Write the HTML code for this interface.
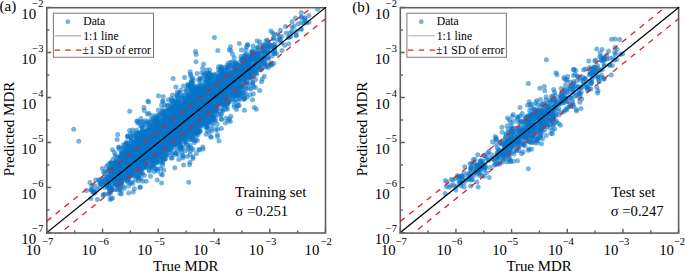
<!DOCTYPE html>
<html><head><meta charset="utf-8"><style>html,body{margin:0;padding:0;background:#fff;}svg{display:block;}</style></head>
<body><svg width="685" height="271" viewBox="0 0 685 271">
<rect width="685" height="271" fill="#fff"/>
<clipPath id="cL"><rect x="46.8" y="7.7" width="278.7" height="225.3"/></clipPath>
<g clip-path="url(#cL)">
<g fill="rgb(8, 116, 200)" fill-opacity="0.55"><circle cx="247.9" cy="70.7" r="2.5"/><circle cx="183.8" cy="118.8" r="2.5"/><circle cx="209.4" cy="76.1" r="2.5"/><circle cx="160.5" cy="142.0" r="2.5"/><circle cx="154.6" cy="135.0" r="2.5"/><circle cx="147.3" cy="145.6" r="2.5"/><circle cx="164.5" cy="114.8" r="2.5"/><circle cx="212.2" cy="75.5" r="2.5"/><circle cx="142.8" cy="148.5" r="2.5"/><circle cx="216.2" cy="83.6" r="2.5"/><circle cx="186.3" cy="118.0" r="2.5"/><circle cx="141.9" cy="148.0" r="2.5"/><circle cx="142.5" cy="147.9" r="2.5"/><circle cx="241.2" cy="65.8" r="2.5"/><circle cx="127.8" cy="135.9" r="2.5"/><circle cx="259.5" cy="61.6" r="2.5"/><circle cx="161.2" cy="146.0" r="2.5"/><circle cx="126.1" cy="158.5" r="2.5"/><circle cx="160.8" cy="136.4" r="2.5"/><circle cx="207.7" cy="93.4" r="2.5"/><circle cx="124.0" cy="147.2" r="2.5"/><circle cx="141.9" cy="154.5" r="2.5"/><circle cx="205.1" cy="95.2" r="2.5"/><circle cx="184.8" cy="118.1" r="2.5"/><circle cx="115.1" cy="177.9" r="2.5"/><circle cx="237.8" cy="66.4" r="2.5"/><circle cx="247.5" cy="85.0" r="2.5"/><circle cx="196.1" cy="114.2" r="2.5"/><circle cx="150.5" cy="152.6" r="2.5"/><circle cx="199.5" cy="88.7" r="2.5"/><circle cx="125.8" cy="143.5" r="2.5"/><circle cx="189.9" cy="118.1" r="2.5"/><circle cx="154.7" cy="142.1" r="2.5"/><circle cx="195.3" cy="109.6" r="2.5"/><circle cx="160.2" cy="127.6" r="2.5"/><circle cx="215.5" cy="88.2" r="2.5"/><circle cx="168.5" cy="145.0" r="2.5"/><circle cx="193.1" cy="107.3" r="2.5"/><circle cx="200.0" cy="102.6" r="2.5"/><circle cx="199.7" cy="98.3" r="2.5"/><circle cx="220.0" cy="95.4" r="2.5"/><circle cx="198.2" cy="124.3" r="2.5"/><circle cx="124.1" cy="160.3" r="2.5"/><circle cx="209.5" cy="93.1" r="2.5"/><circle cx="207.7" cy="108.9" r="2.5"/><circle cx="211.8" cy="101.8" r="2.5"/><circle cx="220.6" cy="93.2" r="2.5"/><circle cx="208.8" cy="113.8" r="2.5"/><circle cx="167.4" cy="120.3" r="2.5"/><circle cx="182.3" cy="128.8" r="2.5"/><circle cx="189.5" cy="94.0" r="2.5"/><circle cx="198.0" cy="134.5" r="2.5"/><circle cx="185.2" cy="108.7" r="2.5"/><circle cx="155.1" cy="137.4" r="2.5"/><circle cx="112.2" cy="172.1" r="2.5"/><circle cx="130.0" cy="182.9" r="2.5"/><circle cx="237.9" cy="75.4" r="2.5"/><circle cx="203.1" cy="97.6" r="2.5"/><circle cx="108.6" cy="171.3" r="2.5"/><circle cx="183.6" cy="114.1" r="2.5"/><circle cx="188.8" cy="118.5" r="2.5"/><circle cx="125.2" cy="170.1" r="2.5"/><circle cx="209.5" cy="95.8" r="2.5"/><circle cx="191.1" cy="109.2" r="2.5"/><circle cx="124.1" cy="172.0" r="2.5"/><circle cx="213.9" cy="95.4" r="2.5"/><circle cx="247.6" cy="76.6" r="2.5"/><circle cx="211.6" cy="78.3" r="2.5"/><circle cx="180.8" cy="130.6" r="2.5"/><circle cx="162.3" cy="152.1" r="2.5"/><circle cx="128.4" cy="179.2" r="2.5"/><circle cx="149.8" cy="152.2" r="2.5"/><circle cx="140.2" cy="162.1" r="2.5"/><circle cx="154.0" cy="171.4" r="2.5"/><circle cx="160.8" cy="122.0" r="2.5"/><circle cx="150.8" cy="157.3" r="2.5"/><circle cx="206.6" cy="109.5" r="2.5"/><circle cx="159.3" cy="144.6" r="2.5"/><circle cx="203.0" cy="87.8" r="2.5"/><circle cx="190.3" cy="126.1" r="2.5"/><circle cx="143.8" cy="152.0" r="2.5"/><circle cx="233.8" cy="73.3" r="2.5"/><circle cx="187.1" cy="128.0" r="2.5"/><circle cx="272.7" cy="33.1" r="2.5"/><circle cx="114.7" cy="180.9" r="2.5"/><circle cx="199.2" cy="108.5" r="2.5"/><circle cx="169.8" cy="126.4" r="2.5"/><circle cx="188.7" cy="134.3" r="2.5"/><circle cx="151.5" cy="138.0" r="2.5"/><circle cx="162.3" cy="111.5" r="2.5"/><circle cx="217.8" cy="76.2" r="2.5"/><circle cx="183.0" cy="132.1" r="2.5"/><circle cx="183.0" cy="129.0" r="2.5"/><circle cx="183.4" cy="130.4" r="2.5"/><circle cx="222.2" cy="92.0" r="2.5"/><circle cx="105.7" cy="182.4" r="2.5"/><circle cx="190.4" cy="84.3" r="2.5"/><circle cx="119.2" cy="164.1" r="2.5"/><circle cx="217.7" cy="89.8" r="2.5"/><circle cx="171.6" cy="127.0" r="2.5"/><circle cx="239.8" cy="86.3" r="2.5"/><circle cx="143.1" cy="160.0" r="2.5"/><circle cx="138.6" cy="146.2" r="2.5"/><circle cx="169.8" cy="127.2" r="2.5"/><circle cx="185.7" cy="130.2" r="2.5"/><circle cx="158.6" cy="145.1" r="2.5"/><circle cx="193.5" cy="103.0" r="2.5"/><circle cx="139.6" cy="155.7" r="2.5"/><circle cx="191.5" cy="103.3" r="2.5"/><circle cx="220.0" cy="100.2" r="2.5"/><circle cx="145.4" cy="165.8" r="2.5"/><circle cx="175.9" cy="115.5" r="2.5"/><circle cx="177.3" cy="137.2" r="2.5"/><circle cx="221.3" cy="72.3" r="2.5"/><circle cx="110.1" cy="179.0" r="2.5"/><circle cx="189.2" cy="108.7" r="2.5"/><circle cx="154.9" cy="153.4" r="2.5"/><circle cx="123.5" cy="166.3" r="2.5"/><circle cx="139.6" cy="148.9" r="2.5"/><circle cx="119.9" cy="173.3" r="2.5"/><circle cx="163.6" cy="158.8" r="2.5"/><circle cx="183.2" cy="112.0" r="2.5"/><circle cx="133.1" cy="153.9" r="2.5"/><circle cx="187.7" cy="102.6" r="2.5"/><circle cx="161.3" cy="138.9" r="2.5"/><circle cx="191.7" cy="103.1" r="2.5"/><circle cx="165.9" cy="117.8" r="2.5"/><circle cx="179.9" cy="135.3" r="2.5"/><circle cx="126.4" cy="167.3" r="2.5"/><circle cx="196.8" cy="120.8" r="2.5"/><circle cx="110.9" cy="168.3" r="2.5"/><circle cx="193.4" cy="118.0" r="2.5"/><circle cx="168.3" cy="124.2" r="2.5"/><circle cx="154.5" cy="147.1" r="2.5"/><circle cx="215.8" cy="129.5" r="2.5"/><circle cx="148.0" cy="150.3" r="2.5"/><circle cx="120.3" cy="161.3" r="2.5"/><circle cx="197.3" cy="113.0" r="2.5"/><circle cx="212.8" cy="95.8" r="2.5"/><circle cx="273.6" cy="44.7" r="2.5"/><circle cx="182.4" cy="119.0" r="2.5"/><circle cx="212.7" cy="108.6" r="2.5"/><circle cx="155.9" cy="146.2" r="2.5"/><circle cx="205.3" cy="100.7" r="2.5"/><circle cx="135.7" cy="141.3" r="2.5"/><circle cx="171.6" cy="149.4" r="2.5"/><circle cx="139.7" cy="149.9" r="2.5"/><circle cx="210.1" cy="96.9" r="2.5"/><circle cx="179.0" cy="145.1" r="2.5"/><circle cx="215.5" cy="95.8" r="2.5"/><circle cx="212.3" cy="86.5" r="2.5"/><circle cx="131.0" cy="163.5" r="2.5"/><circle cx="180.3" cy="101.4" r="2.5"/><circle cx="150.6" cy="148.3" r="2.5"/><circle cx="145.3" cy="142.9" r="2.5"/><circle cx="255.0" cy="65.0" r="2.5"/><circle cx="204.5" cy="108.8" r="2.5"/><circle cx="118.8" cy="182.3" r="2.5"/><circle cx="149.3" cy="135.8" r="2.5"/><circle cx="184.8" cy="104.4" r="2.5"/><circle cx="173.7" cy="107.0" r="2.5"/><circle cx="176.8" cy="133.2" r="2.5"/><circle cx="241.5" cy="87.0" r="2.5"/><circle cx="144.6" cy="137.9" r="2.5"/><circle cx="200.5" cy="109.2" r="2.5"/><circle cx="195.3" cy="122.0" r="2.5"/><circle cx="165.2" cy="130.2" r="2.5"/><circle cx="153.7" cy="146.0" r="2.5"/><circle cx="203.5" cy="121.4" r="2.5"/><circle cx="167.5" cy="150.0" r="2.5"/><circle cx="157.8" cy="126.2" r="2.5"/><circle cx="221.1" cy="93.5" r="2.5"/><circle cx="157.3" cy="151.3" r="2.5"/><circle cx="177.6" cy="129.0" r="2.5"/><circle cx="151.6" cy="149.1" r="2.5"/><circle cx="161.7" cy="135.1" r="2.5"/><circle cx="168.3" cy="147.6" r="2.5"/><circle cx="201.1" cy="111.3" r="2.5"/><circle cx="245.1" cy="68.1" r="2.5"/><circle cx="243.3" cy="71.8" r="2.5"/><circle cx="204.4" cy="110.3" r="2.5"/><circle cx="161.1" cy="137.0" r="2.5"/><circle cx="183.6" cy="129.9" r="2.5"/><circle cx="206.5" cy="100.2" r="2.5"/><circle cx="192.7" cy="83.0" r="2.5"/><circle cx="194.3" cy="113.5" r="2.5"/><circle cx="116.1" cy="161.3" r="2.5"/><circle cx="245.7" cy="70.5" r="2.5"/><circle cx="173.1" cy="115.8" r="2.5"/><circle cx="124.0" cy="156.7" r="2.5"/><circle cx="301.5" cy="17.2" r="2.5"/><circle cx="204.4" cy="90.6" r="2.5"/><circle cx="244.7" cy="82.0" r="2.5"/><circle cx="170.9" cy="133.2" r="2.5"/><circle cx="202.5" cy="104.4" r="2.5"/><circle cx="162.3" cy="144.7" r="2.5"/><circle cx="164.4" cy="123.1" r="2.5"/><circle cx="187.1" cy="104.6" r="2.5"/><circle cx="194.3" cy="97.6" r="2.5"/><circle cx="182.1" cy="118.9" r="2.5"/><circle cx="197.5" cy="126.3" r="2.5"/><circle cx="164.8" cy="159.2" r="2.5"/><circle cx="201.6" cy="115.5" r="2.5"/><circle cx="207.4" cy="96.0" r="2.5"/><circle cx="153.6" cy="147.7" r="2.5"/><circle cx="155.3" cy="132.3" r="2.5"/><circle cx="227.9" cy="88.1" r="2.5"/><circle cx="242.4" cy="71.6" r="2.5"/><circle cx="201.2" cy="91.3" r="2.5"/><circle cx="145.8" cy="156.0" r="2.5"/><circle cx="232.0" cy="75.4" r="2.5"/><circle cx="154.9" cy="163.0" r="2.5"/><circle cx="145.8" cy="157.5" r="2.5"/><circle cx="228.4" cy="63.0" r="2.5"/><circle cx="160.8" cy="126.1" r="2.5"/><circle cx="156.2" cy="129.9" r="2.5"/><circle cx="127.0" cy="155.5" r="2.5"/><circle cx="211.8" cy="88.8" r="2.5"/><circle cx="180.7" cy="112.5" r="2.5"/><circle cx="217.5" cy="136.7" r="2.5"/><circle cx="216.3" cy="90.8" r="2.5"/><circle cx="209.0" cy="94.9" r="2.5"/><circle cx="251.9" cy="67.5" r="2.5"/><circle cx="197.8" cy="103.7" r="2.5"/><circle cx="152.8" cy="132.0" r="2.5"/><circle cx="140.4" cy="146.8" r="2.5"/><circle cx="200.9" cy="105.3" r="2.5"/><circle cx="146.7" cy="134.5" r="2.5"/><circle cx="204.2" cy="97.1" r="2.5"/><circle cx="184.7" cy="108.9" r="2.5"/><circle cx="150.5" cy="145.5" r="2.5"/><circle cx="138.5" cy="168.3" r="2.5"/><circle cx="167.7" cy="122.5" r="2.5"/><circle cx="222.1" cy="93.3" r="2.5"/><circle cx="156.6" cy="143.8" r="2.5"/><circle cx="188.8" cy="147.2" r="2.5"/><circle cx="100.5" cy="183.9" r="2.5"/><circle cx="273.6" cy="37.8" r="2.5"/><circle cx="180.9" cy="90.2" r="2.5"/><circle cx="120.6" cy="173.1" r="2.5"/><circle cx="170.6" cy="145.2" r="2.5"/><circle cx="145.4" cy="140.4" r="2.5"/><circle cx="221.2" cy="90.5" r="2.5"/><circle cx="163.7" cy="135.1" r="2.5"/><circle cx="199.4" cy="85.5" r="2.5"/><circle cx="95.6" cy="180.0" r="2.5"/><circle cx="197.9" cy="101.4" r="2.5"/><circle cx="265.2" cy="51.7" r="2.5"/><circle cx="111.1" cy="177.8" r="2.5"/><circle cx="242.3" cy="93.6" r="2.5"/><circle cx="193.8" cy="109.3" r="2.5"/><circle cx="137.7" cy="176.8" r="2.5"/><circle cx="202.3" cy="118.8" r="2.5"/><circle cx="203.9" cy="104.5" r="2.5"/><circle cx="155.4" cy="121.9" r="2.5"/><circle cx="165.2" cy="114.2" r="2.5"/><circle cx="202.5" cy="100.5" r="2.5"/><circle cx="244.7" cy="66.2" r="2.5"/><circle cx="127.6" cy="160.8" r="2.5"/><circle cx="133.6" cy="164.5" r="2.5"/><circle cx="184.8" cy="151.1" r="2.5"/><circle cx="152.4" cy="160.8" r="2.5"/><circle cx="227.1" cy="90.0" r="2.5"/><circle cx="225.8" cy="79.8" r="2.5"/><circle cx="107.8" cy="187.2" r="2.5"/><circle cx="224.8" cy="91.0" r="2.5"/><circle cx="175.1" cy="115.1" r="2.5"/><circle cx="133.3" cy="158.2" r="2.5"/><circle cx="127.5" cy="170.2" r="2.5"/><circle cx="192.1" cy="124.6" r="2.5"/><circle cx="192.0" cy="122.8" r="2.5"/><circle cx="120.6" cy="157.4" r="2.5"/><circle cx="244.0" cy="56.5" r="2.5"/><circle cx="217.6" cy="93.5" r="2.5"/><circle cx="121.6" cy="182.1" r="2.5"/><circle cx="206.9" cy="88.2" r="2.5"/><circle cx="207.9" cy="91.7" r="2.5"/><circle cx="213.3" cy="102.9" r="2.5"/><circle cx="227.3" cy="102.3" r="2.5"/><circle cx="146.5" cy="158.0" r="2.5"/><circle cx="129.2" cy="147.8" r="2.5"/><circle cx="256.8" cy="53.8" r="2.5"/><circle cx="148.2" cy="127.9" r="2.5"/><circle cx="194.6" cy="111.1" r="2.5"/><circle cx="202.1" cy="115.5" r="2.5"/><circle cx="247.1" cy="67.4" r="2.5"/><circle cx="201.3" cy="117.1" r="2.5"/><circle cx="181.0" cy="137.5" r="2.5"/><circle cx="176.7" cy="131.4" r="2.5"/><circle cx="203.6" cy="106.2" r="2.5"/><circle cx="154.3" cy="146.1" r="2.5"/><circle cx="166.2" cy="154.6" r="2.5"/><circle cx="181.7" cy="134.8" r="2.5"/><circle cx="155.0" cy="143.3" r="2.5"/><circle cx="177.9" cy="120.3" r="2.5"/><circle cx="148.6" cy="154.2" r="2.5"/><circle cx="170.7" cy="127.7" r="2.5"/><circle cx="190.0" cy="106.9" r="2.5"/><circle cx="142.1" cy="172.3" r="2.5"/><circle cx="205.3" cy="103.2" r="2.5"/><circle cx="207.2" cy="114.3" r="2.5"/><circle cx="188.1" cy="102.8" r="2.5"/><circle cx="224.9" cy="96.6" r="2.5"/><circle cx="241.9" cy="72.3" r="2.5"/><circle cx="217.3" cy="95.0" r="2.5"/><circle cx="221.0" cy="114.7" r="2.5"/><circle cx="209.6" cy="89.6" r="2.5"/><circle cx="214.1" cy="96.3" r="2.5"/><circle cx="149.6" cy="141.1" r="2.5"/><circle cx="150.6" cy="130.4" r="2.5"/><circle cx="178.8" cy="137.6" r="2.5"/><circle cx="222.5" cy="99.0" r="2.5"/><circle cx="219.8" cy="87.2" r="2.5"/><circle cx="175.1" cy="125.5" r="2.5"/><circle cx="175.9" cy="121.7" r="2.5"/><circle cx="272.1" cy="55.9" r="2.5"/><circle cx="166.2" cy="133.5" r="2.5"/><circle cx="107.9" cy="181.9" r="2.5"/><circle cx="171.2" cy="158.0" r="2.5"/><circle cx="156.3" cy="134.1" r="2.5"/><circle cx="201.4" cy="108.8" r="2.5"/><circle cx="178.6" cy="134.0" r="2.5"/><circle cx="195.4" cy="106.2" r="2.5"/><circle cx="125.7" cy="175.6" r="2.5"/><circle cx="208.0" cy="113.4" r="2.5"/><circle cx="292.0" cy="21.7" r="2.5"/><circle cx="233.1" cy="80.7" r="2.5"/><circle cx="117.7" cy="161.8" r="2.5"/><circle cx="136.7" cy="169.3" r="2.5"/><circle cx="201.9" cy="91.7" r="2.5"/><circle cx="142.0" cy="157.3" r="2.5"/><circle cx="155.9" cy="140.4" r="2.5"/><circle cx="227.2" cy="92.6" r="2.5"/><circle cx="131.9" cy="135.3" r="2.5"/><circle cx="203.7" cy="105.9" r="2.5"/><circle cx="175.8" cy="101.8" r="2.5"/><circle cx="127.4" cy="155.9" r="2.5"/><circle cx="109.6" cy="175.2" r="2.5"/><circle cx="135.6" cy="164.9" r="2.5"/><circle cx="226.1" cy="92.3" r="2.5"/><circle cx="147.7" cy="130.6" r="2.5"/><circle cx="179.4" cy="108.1" r="2.5"/><circle cx="141.6" cy="137.9" r="2.5"/><circle cx="211.9" cy="91.1" r="2.5"/><circle cx="98.9" cy="180.0" r="2.5"/><circle cx="182.5" cy="122.0" r="2.5"/><circle cx="155.9" cy="144.1" r="2.5"/><circle cx="185.9" cy="90.1" r="2.5"/><circle cx="169.8" cy="145.0" r="2.5"/><circle cx="169.5" cy="145.7" r="2.5"/><circle cx="226.5" cy="73.5" r="2.5"/><circle cx="162.6" cy="144.6" r="2.5"/><circle cx="145.1" cy="148.6" r="2.5"/><circle cx="131.7" cy="152.9" r="2.5"/><circle cx="134.0" cy="156.0" r="2.5"/><circle cx="169.7" cy="135.8" r="2.5"/><circle cx="285.5" cy="26.6" r="2.5"/><circle cx="151.2" cy="144.3" r="2.5"/><circle cx="210.2" cy="83.7" r="2.5"/><circle cx="189.4" cy="108.4" r="2.5"/><circle cx="237.9" cy="79.1" r="2.5"/><circle cx="103.5" cy="181.4" r="2.5"/><circle cx="188.6" cy="135.6" r="2.5"/><circle cx="160.9" cy="135.1" r="2.5"/><circle cx="273.5" cy="53.3" r="2.5"/><circle cx="235.8" cy="86.4" r="2.5"/><circle cx="162.8" cy="135.3" r="2.5"/><circle cx="180.6" cy="144.6" r="2.5"/><circle cx="181.9" cy="114.6" r="2.5"/><circle cx="187.7" cy="115.9" r="2.5"/><circle cx="151.3" cy="119.1" r="2.5"/><circle cx="131.2" cy="140.6" r="2.5"/><circle cx="213.2" cy="116.5" r="2.5"/><circle cx="209.7" cy="97.4" r="2.5"/><circle cx="220.5" cy="77.8" r="2.5"/><circle cx="128.6" cy="162.7" r="2.5"/><circle cx="190.2" cy="89.3" r="2.5"/><circle cx="153.5" cy="154.2" r="2.5"/><circle cx="161.2" cy="127.2" r="2.5"/><circle cx="169.4" cy="125.4" r="2.5"/><circle cx="136.5" cy="132.4" r="2.5"/><circle cx="104.7" cy="187.4" r="2.5"/><circle cx="134.1" cy="160.3" r="2.5"/><circle cx="150.4" cy="137.7" r="2.5"/><circle cx="141.5" cy="160.7" r="2.5"/><circle cx="189.0" cy="127.9" r="2.5"/><circle cx="125.7" cy="171.4" r="2.5"/><circle cx="126.1" cy="175.3" r="2.5"/><circle cx="128.2" cy="156.5" r="2.5"/><circle cx="205.6" cy="123.0" r="2.5"/><circle cx="122.6" cy="165.6" r="2.5"/><circle cx="221.2" cy="78.3" r="2.5"/><circle cx="171.9" cy="128.3" r="2.5"/><circle cx="117.4" cy="171.3" r="2.5"/><circle cx="209.3" cy="86.8" r="2.5"/><circle cx="189.4" cy="128.8" r="2.5"/><circle cx="126.4" cy="169.5" r="2.5"/><circle cx="221.7" cy="89.8" r="2.5"/><circle cx="214.9" cy="120.1" r="2.5"/><circle cx="158.2" cy="161.4" r="2.5"/><circle cx="222.8" cy="80.8" r="2.5"/><circle cx="171.5" cy="119.5" r="2.5"/><circle cx="114.3" cy="169.4" r="2.5"/><circle cx="209.7" cy="99.2" r="2.5"/><circle cx="158.9" cy="151.6" r="2.5"/><circle cx="169.1" cy="142.6" r="2.5"/><circle cx="112.3" cy="175.8" r="2.5"/><circle cx="143.1" cy="152.5" r="2.5"/><circle cx="169.5" cy="131.7" r="2.5"/><circle cx="247.5" cy="71.8" r="2.5"/><circle cx="274.8" cy="51.6" r="2.5"/><circle cx="181.1" cy="131.4" r="2.5"/><circle cx="194.8" cy="115.2" r="2.5"/><circle cx="134.9" cy="159.2" r="2.5"/><circle cx="224.0" cy="92.0" r="2.5"/><circle cx="191.8" cy="137.0" r="2.5"/><circle cx="256.8" cy="48.3" r="2.5"/><circle cx="148.0" cy="155.8" r="2.5"/><circle cx="241.3" cy="96.2" r="2.5"/><circle cx="189.8" cy="96.4" r="2.5"/><circle cx="133.2" cy="156.4" r="2.5"/><circle cx="148.5" cy="101.9" r="2.5"/><circle cx="188.8" cy="128.9" r="2.5"/><circle cx="142.4" cy="140.9" r="2.5"/><circle cx="203.8" cy="98.0" r="2.5"/><circle cx="193.4" cy="96.0" r="2.5"/><circle cx="168.6" cy="122.3" r="2.5"/><circle cx="224.0" cy="84.4" r="2.5"/><circle cx="178.8" cy="106.7" r="2.5"/><circle cx="158.3" cy="160.1" r="2.5"/><circle cx="189.0" cy="124.8" r="2.5"/><circle cx="221.8" cy="80.9" r="2.5"/><circle cx="186.4" cy="109.9" r="2.5"/><circle cx="167.6" cy="146.1" r="2.5"/><circle cx="146.0" cy="141.6" r="2.5"/><circle cx="157.1" cy="128.1" r="2.5"/><circle cx="247.3" cy="73.6" r="2.5"/><circle cx="202.7" cy="108.0" r="2.5"/><circle cx="128.8" cy="167.7" r="2.5"/><circle cx="229.6" cy="87.4" r="2.5"/><circle cx="226.7" cy="83.0" r="2.5"/><circle cx="151.0" cy="139.2" r="2.5"/><circle cx="191.6" cy="114.0" r="2.5"/><circle cx="155.5" cy="130.4" r="2.5"/><circle cx="245.8" cy="88.3" r="2.5"/><circle cx="121.5" cy="158.9" r="2.5"/><circle cx="142.7" cy="181.3" r="2.5"/><circle cx="159.9" cy="142.3" r="2.5"/><circle cx="234.4" cy="81.3" r="2.5"/><circle cx="194.0" cy="96.5" r="2.5"/><circle cx="176.5" cy="129.8" r="2.5"/><circle cx="111.2" cy="171.2" r="2.5"/><circle cx="163.9" cy="132.9" r="2.5"/><circle cx="169.5" cy="121.7" r="2.5"/><circle cx="179.4" cy="109.4" r="2.5"/><circle cx="124.7" cy="188.1" r="2.5"/><circle cx="174.0" cy="120.2" r="2.5"/><circle cx="162.7" cy="154.3" r="2.5"/><circle cx="220.2" cy="97.3" r="2.5"/><circle cx="219.5" cy="90.2" r="2.5"/><circle cx="195.8" cy="109.0" r="2.5"/><circle cx="165.5" cy="135.7" r="2.5"/><circle cx="174.8" cy="122.9" r="2.5"/><circle cx="239.2" cy="86.4" r="2.5"/><circle cx="164.7" cy="129.2" r="2.5"/><circle cx="226.1" cy="96.1" r="2.5"/><circle cx="184.2" cy="95.3" r="2.5"/><circle cx="155.3" cy="149.4" r="2.5"/><circle cx="172.5" cy="121.2" r="2.5"/><circle cx="125.6" cy="163.6" r="2.5"/><circle cx="172.6" cy="134.3" r="2.5"/><circle cx="268.4" cy="67.6" r="2.5"/><circle cx="235.6" cy="73.7" r="2.5"/><circle cx="213.3" cy="89.0" r="2.5"/><circle cx="234.4" cy="106.9" r="2.5"/><circle cx="192.6" cy="111.6" r="2.5"/><circle cx="250.2" cy="59.0" r="2.5"/><circle cx="150.4" cy="151.4" r="2.5"/><circle cx="186.3" cy="102.7" r="2.5"/><circle cx="133.6" cy="148.9" r="2.5"/><circle cx="202.5" cy="112.9" r="2.5"/><circle cx="220.3" cy="94.4" r="2.5"/><circle cx="135.1" cy="164.0" r="2.5"/><circle cx="145.6" cy="124.1" r="2.5"/><circle cx="190.8" cy="109.9" r="2.5"/><circle cx="217.7" cy="97.6" r="2.5"/><circle cx="179.5" cy="132.9" r="2.5"/><circle cx="201.9" cy="72.5" r="2.5"/><circle cx="109.1" cy="175.9" r="2.5"/><circle cx="219.4" cy="96.9" r="2.5"/><circle cx="192.0" cy="137.1" r="2.5"/><circle cx="186.3" cy="127.9" r="2.5"/><circle cx="267.4" cy="46.0" r="2.5"/><circle cx="130.0" cy="156.2" r="2.5"/><circle cx="127.7" cy="151.4" r="2.5"/><circle cx="165.8" cy="146.8" r="2.5"/><circle cx="131.9" cy="167.8" r="2.5"/><circle cx="188.2" cy="117.2" r="2.5"/><circle cx="196.0" cy="109.2" r="2.5"/><circle cx="133.0" cy="165.9" r="2.5"/><circle cx="148.1" cy="141.0" r="2.5"/><circle cx="150.8" cy="147.2" r="2.5"/><circle cx="212.0" cy="92.1" r="2.5"/><circle cx="238.7" cy="70.8" r="2.5"/><circle cx="254.4" cy="61.0" r="2.5"/><circle cx="161.3" cy="127.7" r="2.5"/><circle cx="112.5" cy="149.8" r="2.5"/><circle cx="183.8" cy="110.9" r="2.5"/><circle cx="227.3" cy="109.3" r="2.5"/><circle cx="251.1" cy="88.9" r="2.5"/><circle cx="241.0" cy="56.5" r="2.5"/><circle cx="152.9" cy="129.1" r="2.5"/><circle cx="249.5" cy="88.3" r="2.5"/><circle cx="174.3" cy="127.6" r="2.5"/><circle cx="208.4" cy="98.0" r="2.5"/><circle cx="217.5" cy="91.6" r="2.5"/><circle cx="218.3" cy="88.7" r="2.5"/><circle cx="217.1" cy="80.0" r="2.5"/><circle cx="167.0" cy="144.6" r="2.5"/><circle cx="232.2" cy="91.8" r="2.5"/><circle cx="164.2" cy="148.4" r="2.5"/><circle cx="195.6" cy="115.8" r="2.5"/><circle cx="157.6" cy="135.7" r="2.5"/><circle cx="184.8" cy="123.2" r="2.5"/><circle cx="191.7" cy="140.1" r="2.5"/><circle cx="154.5" cy="153.0" r="2.5"/><circle cx="237.6" cy="64.6" r="2.5"/><circle cx="192.6" cy="77.9" r="2.5"/><circle cx="113.4" cy="166.8" r="2.5"/><circle cx="112.7" cy="171.4" r="2.5"/><circle cx="179.9" cy="132.7" r="2.5"/><circle cx="128.1" cy="160.8" r="2.5"/><circle cx="131.4" cy="146.8" r="2.5"/><circle cx="168.0" cy="141.3" r="2.5"/><circle cx="196.9" cy="123.5" r="2.5"/><circle cx="274.8" cy="47.2" r="2.5"/><circle cx="244.7" cy="76.6" r="2.5"/><circle cx="161.6" cy="182.9" r="2.5"/><circle cx="218.3" cy="103.6" r="2.5"/><circle cx="178.3" cy="119.8" r="2.5"/><circle cx="175.2" cy="128.1" r="2.5"/><circle cx="146.6" cy="157.2" r="2.5"/><circle cx="139.2" cy="154.1" r="2.5"/><circle cx="182.1" cy="118.5" r="2.5"/><circle cx="203.3" cy="101.3" r="2.5"/><circle cx="173.1" cy="130.1" r="2.5"/><circle cx="230.3" cy="75.5" r="2.5"/><circle cx="123.0" cy="159.5" r="2.5"/><circle cx="194.1" cy="98.4" r="2.5"/><circle cx="203.5" cy="63.9" r="2.5"/><circle cx="103.7" cy="171.9" r="2.5"/><circle cx="138.9" cy="150.4" r="2.5"/><circle cx="124.5" cy="171.5" r="2.5"/><circle cx="135.7" cy="160.0" r="2.5"/><circle cx="210.1" cy="101.3" r="2.5"/><circle cx="204.3" cy="91.5" r="2.5"/><circle cx="227.5" cy="76.3" r="2.5"/><circle cx="106.5" cy="166.6" r="2.5"/><circle cx="236.3" cy="68.3" r="2.5"/><circle cx="238.1" cy="105.6" r="2.5"/><circle cx="214.2" cy="105.1" r="2.5"/><circle cx="130.5" cy="158.5" r="2.5"/><circle cx="183.7" cy="124.7" r="2.5"/><circle cx="111.3" cy="173.9" r="2.5"/><circle cx="119.8" cy="189.5" r="2.5"/><circle cx="106.0" cy="183.9" r="2.5"/><circle cx="159.2" cy="135.3" r="2.5"/><circle cx="151.8" cy="131.7" r="2.5"/><circle cx="267.3" cy="50.5" r="2.5"/><circle cx="158.7" cy="129.8" r="2.5"/><circle cx="229.9" cy="92.2" r="2.5"/><circle cx="185.4" cy="138.0" r="2.5"/><circle cx="221.8" cy="80.2" r="2.5"/><circle cx="185.9" cy="101.5" r="2.5"/><circle cx="149.2" cy="149.1" r="2.5"/><circle cx="190.2" cy="87.1" r="2.5"/><circle cx="172.3" cy="131.6" r="2.5"/><circle cx="110.3" cy="178.4" r="2.5"/><circle cx="151.1" cy="138.5" r="2.5"/><circle cx="165.9" cy="146.0" r="2.5"/><circle cx="166.5" cy="118.4" r="2.5"/><circle cx="246.3" cy="61.1" r="2.5"/><circle cx="155.3" cy="138.9" r="2.5"/><circle cx="151.3" cy="146.3" r="2.5"/><circle cx="205.4" cy="107.7" r="2.5"/><circle cx="230.8" cy="116.3" r="2.5"/><circle cx="177.4" cy="124.0" r="2.5"/><circle cx="108.1" cy="180.0" r="2.5"/><circle cx="210.0" cy="94.3" r="2.5"/><circle cx="150.5" cy="165.5" r="2.5"/><circle cx="166.8" cy="126.1" r="2.5"/><circle cx="212.5" cy="84.9" r="2.5"/><circle cx="167.5" cy="105.2" r="2.5"/><circle cx="216.1" cy="91.6" r="2.5"/><circle cx="166.7" cy="140.7" r="2.5"/><circle cx="210.4" cy="108.3" r="2.5"/><circle cx="106.9" cy="179.1" r="2.5"/><circle cx="179.0" cy="129.3" r="2.5"/><circle cx="219.3" cy="90.4" r="2.5"/><circle cx="195.2" cy="96.2" r="2.5"/><circle cx="178.8" cy="96.9" r="2.5"/><circle cx="169.2" cy="136.3" r="2.5"/><circle cx="145.0" cy="148.6" r="2.5"/><circle cx="157.3" cy="155.2" r="2.5"/><circle cx="172.3" cy="124.5" r="2.5"/><circle cx="186.2" cy="125.7" r="2.5"/><circle cx="174.7" cy="127.9" r="2.5"/><circle cx="216.7" cy="102.8" r="2.5"/><circle cx="213.8" cy="108.7" r="2.5"/><circle cx="217.5" cy="108.8" r="2.5"/><circle cx="161.5" cy="125.4" r="2.5"/><circle cx="171.9" cy="124.2" r="2.5"/><circle cx="214.5" cy="96.0" r="2.5"/><circle cx="200.4" cy="93.8" r="2.5"/><circle cx="189.9" cy="114.2" r="2.5"/><circle cx="189.6" cy="125.1" r="2.5"/><circle cx="250.7" cy="75.4" r="2.5"/><circle cx="169.0" cy="128.9" r="2.5"/><circle cx="148.9" cy="154.4" r="2.5"/><circle cx="308.9" cy="22.3" r="2.5"/><circle cx="234.7" cy="87.3" r="2.5"/><circle cx="144.4" cy="149.8" r="2.5"/><circle cx="144.8" cy="149.9" r="2.5"/><circle cx="143.8" cy="152.1" r="2.5"/><circle cx="137.2" cy="151.5" r="2.5"/><circle cx="122.5" cy="167.6" r="2.5"/><circle cx="149.8" cy="146.7" r="2.5"/><circle cx="213.6" cy="75.2" r="2.5"/><circle cx="140.4" cy="160.0" r="2.5"/><circle cx="165.6" cy="136.3" r="2.5"/><circle cx="148.6" cy="158.1" r="2.5"/><circle cx="190.2" cy="145.4" r="2.5"/><circle cx="228.9" cy="88.0" r="2.5"/><circle cx="150.2" cy="146.4" r="2.5"/><circle cx="201.6" cy="124.1" r="2.5"/><circle cx="236.0" cy="69.3" r="2.5"/><circle cx="108.0" cy="164.6" r="2.5"/><circle cx="114.9" cy="169.2" r="2.5"/><circle cx="227.8" cy="103.5" r="2.5"/><circle cx="141.4" cy="170.1" r="2.5"/><circle cx="167.6" cy="139.6" r="2.5"/><circle cx="198.5" cy="97.6" r="2.5"/><circle cx="116.9" cy="179.7" r="2.5"/><circle cx="140.1" cy="167.4" r="2.5"/><circle cx="243.0" cy="86.2" r="2.5"/><circle cx="207.0" cy="130.2" r="2.5"/><circle cx="244.6" cy="69.6" r="2.5"/><circle cx="151.3" cy="161.4" r="2.5"/><circle cx="191.5" cy="102.1" r="2.5"/><circle cx="180.6" cy="110.1" r="2.5"/><circle cx="131.8" cy="148.9" r="2.5"/><circle cx="161.4" cy="122.9" r="2.5"/><circle cx="133.7" cy="158.3" r="2.5"/><circle cx="162.9" cy="101.5" r="2.5"/><circle cx="130.4" cy="164.3" r="2.5"/><circle cx="141.2" cy="141.2" r="2.5"/><circle cx="210.1" cy="106.3" r="2.5"/><circle cx="200.6" cy="114.4" r="2.5"/><circle cx="281.8" cy="36.6" r="2.5"/><circle cx="244.6" cy="81.9" r="2.5"/><circle cx="141.3" cy="160.5" r="2.5"/><circle cx="147.6" cy="144.8" r="2.5"/><circle cx="132.6" cy="152.2" r="2.5"/><circle cx="227.2" cy="75.0" r="2.5"/><circle cx="181.1" cy="117.8" r="2.5"/><circle cx="204.9" cy="107.3" r="2.5"/><circle cx="129.8" cy="149.0" r="2.5"/><circle cx="268.0" cy="42.1" r="2.5"/><circle cx="199.3" cy="149.9" r="2.5"/><circle cx="124.4" cy="169.4" r="2.5"/><circle cx="149.9" cy="165.0" r="2.5"/><circle cx="161.2" cy="140.4" r="2.5"/><circle cx="129.5" cy="162.9" r="2.5"/><circle cx="159.6" cy="140.9" r="2.5"/><circle cx="135.5" cy="179.7" r="2.5"/><circle cx="176.1" cy="139.0" r="2.5"/><circle cx="200.6" cy="111.2" r="2.5"/><circle cx="127.9" cy="136.5" r="2.5"/><circle cx="153.7" cy="158.9" r="2.5"/><circle cx="214.4" cy="97.5" r="2.5"/><circle cx="147.8" cy="130.6" r="2.5"/><circle cx="149.4" cy="148.5" r="2.5"/><circle cx="172.1" cy="126.2" r="2.5"/><circle cx="180.5" cy="150.0" r="2.5"/><circle cx="165.5" cy="133.4" r="2.5"/><circle cx="126.8" cy="173.7" r="2.5"/><circle cx="215.2" cy="81.2" r="2.5"/><circle cx="147.9" cy="101.0" r="2.5"/><circle cx="290.1" cy="33.1" r="2.5"/><circle cx="136.7" cy="160.8" r="2.5"/><circle cx="185.5" cy="131.0" r="2.5"/><circle cx="228.8" cy="90.3" r="2.5"/><circle cx="155.3" cy="147.6" r="2.5"/><circle cx="239.3" cy="75.8" r="2.5"/><circle cx="149.2" cy="139.6" r="2.5"/><circle cx="140.9" cy="161.8" r="2.5"/><circle cx="161.0" cy="118.1" r="2.5"/><circle cx="139.5" cy="169.8" r="2.5"/><circle cx="157.5" cy="118.9" r="2.5"/><circle cx="155.2" cy="137.6" r="2.5"/><circle cx="191.4" cy="114.8" r="2.5"/><circle cx="271.2" cy="65.2" r="2.5"/><circle cx="260.8" cy="61.3" r="2.5"/><circle cx="121.5" cy="177.2" r="2.5"/><circle cx="133.5" cy="163.1" r="2.5"/><circle cx="161.2" cy="131.9" r="2.5"/><circle cx="236.0" cy="75.7" r="2.5"/><circle cx="220.1" cy="91.0" r="2.5"/><circle cx="152.2" cy="167.9" r="2.5"/><circle cx="209.9" cy="86.7" r="2.5"/><circle cx="210.1" cy="87.1" r="2.5"/><circle cx="255.5" cy="61.3" r="2.5"/><circle cx="238.3" cy="91.1" r="2.5"/><circle cx="110.2" cy="191.0" r="2.5"/><circle cx="150.1" cy="148.4" r="2.5"/><circle cx="147.2" cy="139.8" r="2.5"/><circle cx="219.0" cy="76.2" r="2.5"/><circle cx="170.5" cy="148.4" r="2.5"/><circle cx="153.1" cy="165.7" r="2.5"/><circle cx="206.7" cy="115.6" r="2.5"/><circle cx="125.9" cy="143.7" r="2.5"/><circle cx="160.8" cy="130.3" r="2.5"/><circle cx="165.9" cy="142.4" r="2.5"/><circle cx="158.6" cy="118.8" r="2.5"/><circle cx="191.0" cy="118.1" r="2.5"/><circle cx="169.0" cy="144.4" r="2.5"/><circle cx="166.7" cy="134.6" r="2.5"/><circle cx="237.9" cy="77.8" r="2.5"/><circle cx="226.9" cy="65.6" r="2.5"/><circle cx="181.8" cy="151.8" r="2.5"/><circle cx="270.0" cy="64.0" r="2.5"/><circle cx="250.6" cy="58.3" r="2.5"/><circle cx="160.9" cy="124.2" r="2.5"/><circle cx="138.2" cy="147.2" r="2.5"/><circle cx="118.4" cy="169.4" r="2.5"/><circle cx="210.2" cy="90.4" r="2.5"/><circle cx="132.6" cy="129.9" r="2.5"/><circle cx="165.1" cy="130.1" r="2.5"/><circle cx="185.3" cy="107.8" r="2.5"/><circle cx="140.3" cy="148.0" r="2.5"/><circle cx="190.1" cy="113.1" r="2.5"/><circle cx="114.5" cy="182.1" r="2.5"/><circle cx="142.2" cy="174.3" r="2.5"/><circle cx="140.9" cy="135.3" r="2.5"/><circle cx="162.6" cy="130.5" r="2.5"/><circle cx="189.8" cy="102.8" r="2.5"/><circle cx="140.5" cy="140.4" r="2.5"/><circle cx="159.8" cy="124.0" r="2.5"/><circle cx="228.4" cy="83.5" r="2.5"/><circle cx="168.4" cy="135.9" r="2.5"/><circle cx="145.4" cy="134.1" r="2.5"/><circle cx="206.4" cy="92.1" r="2.5"/><circle cx="145.5" cy="133.9" r="2.5"/><circle cx="242.3" cy="78.1" r="2.5"/><circle cx="183.9" cy="138.2" r="2.5"/><circle cx="214.2" cy="100.4" r="2.5"/><circle cx="126.1" cy="155.7" r="2.5"/><circle cx="108.3" cy="186.8" r="2.5"/><circle cx="175.0" cy="123.2" r="2.5"/><circle cx="237.0" cy="75.6" r="2.5"/><circle cx="169.4" cy="123.5" r="2.5"/><circle cx="203.6" cy="106.5" r="2.5"/><circle cx="229.7" cy="82.6" r="2.5"/><circle cx="233.1" cy="76.6" r="2.5"/><circle cx="189.7" cy="139.9" r="2.5"/><circle cx="186.2" cy="136.1" r="2.5"/><circle cx="206.4" cy="105.0" r="2.5"/><circle cx="142.4" cy="139.8" r="2.5"/><circle cx="110.3" cy="180.1" r="2.5"/><circle cx="257.1" cy="40.9" r="2.5"/><circle cx="194.6" cy="116.6" r="2.5"/><circle cx="136.2" cy="155.5" r="2.5"/><circle cx="245.0" cy="75.3" r="2.5"/><circle cx="153.4" cy="135.4" r="2.5"/><circle cx="109.3" cy="186.5" r="2.5"/><circle cx="221.8" cy="71.5" r="2.5"/><circle cx="197.1" cy="87.2" r="2.5"/><circle cx="230.0" cy="84.0" r="2.5"/><circle cx="263.3" cy="51.4" r="2.5"/><circle cx="194.3" cy="117.7" r="2.5"/><circle cx="226.8" cy="82.4" r="2.5"/><circle cx="238.4" cy="101.5" r="2.5"/><circle cx="163.2" cy="141.6" r="2.5"/><circle cx="185.7" cy="121.3" r="2.5"/><circle cx="167.3" cy="151.4" r="2.5"/><circle cx="175.5" cy="137.0" r="2.5"/><circle cx="196.2" cy="54.5" r="2.5"/><circle cx="162.1" cy="138.5" r="2.5"/><circle cx="296.4" cy="31.3" r="2.5"/><circle cx="204.9" cy="115.1" r="2.5"/><circle cx="192.4" cy="115.4" r="2.5"/><circle cx="199.5" cy="112.7" r="2.5"/><circle cx="198.2" cy="120.4" r="2.5"/><circle cx="138.5" cy="164.0" r="2.5"/><circle cx="147.5" cy="144.4" r="2.5"/><circle cx="130.0" cy="176.1" r="2.5"/><circle cx="159.2" cy="127.6" r="2.5"/><circle cx="179.4" cy="112.3" r="2.5"/><circle cx="184.4" cy="121.1" r="2.5"/><circle cx="175.9" cy="87.1" r="2.5"/><circle cx="210.2" cy="117.8" r="2.5"/><circle cx="163.7" cy="146.4" r="2.5"/><circle cx="229.7" cy="90.2" r="2.5"/><circle cx="260.8" cy="65.3" r="2.5"/><circle cx="243.0" cy="58.6" r="2.5"/><circle cx="169.9" cy="138.9" r="2.5"/><circle cx="127.7" cy="153.4" r="2.5"/><circle cx="265.5" cy="51.9" r="2.5"/><circle cx="201.0" cy="102.4" r="2.5"/><circle cx="110.5" cy="176.5" r="2.5"/><circle cx="115.7" cy="168.1" r="2.5"/><circle cx="209.2" cy="94.8" r="2.5"/><circle cx="226.8" cy="88.0" r="2.5"/><circle cx="102.2" cy="184.7" r="2.5"/><circle cx="166.9" cy="137.9" r="2.5"/><circle cx="213.7" cy="88.4" r="2.5"/><circle cx="187.8" cy="114.7" r="2.5"/><circle cx="112.3" cy="180.0" r="2.5"/><circle cx="173.9" cy="144.7" r="2.5"/><circle cx="129.7" cy="171.9" r="2.5"/><circle cx="193.5" cy="121.2" r="2.5"/><circle cx="220.5" cy="88.4" r="2.5"/><circle cx="195.7" cy="98.7" r="2.5"/><circle cx="241.8" cy="71.9" r="2.5"/><circle cx="211.4" cy="128.7" r="2.5"/><circle cx="172.2" cy="118.2" r="2.5"/><circle cx="129.2" cy="155.3" r="2.5"/><circle cx="133.5" cy="149.0" r="2.5"/><circle cx="121.4" cy="194.0" r="2.5"/><circle cx="214.8" cy="80.5" r="2.5"/><circle cx="131.0" cy="137.8" r="2.5"/><circle cx="165.2" cy="120.7" r="2.5"/><circle cx="239.5" cy="79.3" r="2.5"/><circle cx="234.2" cy="66.5" r="2.5"/><circle cx="235.6" cy="83.5" r="2.5"/><circle cx="221.6" cy="79.6" r="2.5"/><circle cx="231.5" cy="65.5" r="2.5"/><circle cx="214.0" cy="98.5" r="2.5"/><circle cx="159.9" cy="140.3" r="2.5"/><circle cx="274.6" cy="46.7" r="2.5"/><circle cx="215.3" cy="85.2" r="2.5"/><circle cx="167.3" cy="131.3" r="2.5"/><circle cx="123.0" cy="148.8" r="2.5"/><circle cx="212.5" cy="125.2" r="2.5"/><circle cx="223.3" cy="104.5" r="2.5"/><circle cx="175.5" cy="130.2" r="2.5"/><circle cx="228.2" cy="91.8" r="2.5"/><circle cx="198.4" cy="107.1" r="2.5"/><circle cx="183.3" cy="113.1" r="2.5"/><circle cx="194.4" cy="142.7" r="2.5"/><circle cx="213.6" cy="119.3" r="2.5"/><circle cx="190.4" cy="106.0" r="2.5"/><circle cx="125.4" cy="152.6" r="2.5"/><circle cx="209.4" cy="74.0" r="2.5"/><circle cx="170.6" cy="140.8" r="2.5"/><circle cx="177.9" cy="140.2" r="2.5"/><circle cx="122.2" cy="152.5" r="2.5"/><circle cx="182.8" cy="135.8" r="2.5"/><circle cx="114.5" cy="162.8" r="2.5"/><circle cx="141.7" cy="147.5" r="2.5"/><circle cx="171.4" cy="108.9" r="2.5"/><circle cx="195.3" cy="87.3" r="2.5"/><circle cx="196.4" cy="153.5" r="2.5"/><circle cx="143.6" cy="164.4" r="2.5"/><circle cx="129.3" cy="159.0" r="2.5"/><circle cx="185.4" cy="114.6" r="2.5"/><circle cx="164.8" cy="125.0" r="2.5"/><circle cx="253.4" cy="94.1" r="2.5"/><circle cx="151.5" cy="148.0" r="2.5"/><circle cx="182.7" cy="95.3" r="2.5"/><circle cx="170.7" cy="120.5" r="2.5"/><circle cx="160.4" cy="143.3" r="2.5"/><circle cx="127.0" cy="160.4" r="2.5"/><circle cx="180.0" cy="121.8" r="2.5"/><circle cx="200.4" cy="99.5" r="2.5"/><circle cx="110.4" cy="182.2" r="2.5"/><circle cx="93.4" cy="191.9" r="2.5"/><circle cx="236.8" cy="86.5" r="2.5"/><circle cx="124.5" cy="163.2" r="2.5"/><circle cx="150.4" cy="128.5" r="2.5"/><circle cx="206.8" cy="96.5" r="2.5"/><circle cx="206.8" cy="100.7" r="2.5"/><circle cx="171.0" cy="122.5" r="2.5"/><circle cx="282.0" cy="50.5" r="2.5"/><circle cx="111.6" cy="163.2" r="2.5"/><circle cx="150.9" cy="149.9" r="2.5"/><circle cx="167.1" cy="146.2" r="2.5"/><circle cx="197.1" cy="73.6" r="2.5"/><circle cx="142.2" cy="140.6" r="2.5"/><circle cx="188.7" cy="117.2" r="2.5"/><circle cx="207.9" cy="79.2" r="2.5"/><circle cx="270.9" cy="31.0" r="2.5"/><circle cx="101.2" cy="184.0" r="2.5"/><circle cx="154.2" cy="126.8" r="2.5"/><circle cx="151.6" cy="140.3" r="2.5"/><circle cx="113.2" cy="168.9" r="2.5"/><circle cx="158.3" cy="147.6" r="2.5"/><circle cx="195.0" cy="124.1" r="2.5"/><circle cx="222.3" cy="83.0" r="2.5"/><circle cx="214.3" cy="111.3" r="2.5"/><circle cx="164.7" cy="123.3" r="2.5"/><circle cx="241.1" cy="74.5" r="2.5"/><circle cx="225.5" cy="78.8" r="2.5"/><circle cx="266.1" cy="40.8" r="2.5"/><circle cx="160.0" cy="146.7" r="2.5"/><circle cx="162.7" cy="118.3" r="2.5"/><circle cx="146.1" cy="145.3" r="2.5"/><circle cx="189.6" cy="114.0" r="2.5"/><circle cx="171.9" cy="138.4" r="2.5"/><circle cx="259.7" cy="90.6" r="2.5"/><circle cx="131.8" cy="164.7" r="2.5"/><circle cx="150.6" cy="145.9" r="2.5"/><circle cx="147.4" cy="149.1" r="2.5"/><circle cx="182.8" cy="158.0" r="2.5"/><circle cx="205.2" cy="109.5" r="2.5"/><circle cx="161.0" cy="137.0" r="2.5"/><circle cx="222.2" cy="85.6" r="2.5"/><circle cx="175.7" cy="120.1" r="2.5"/><circle cx="212.2" cy="91.9" r="2.5"/><circle cx="228.6" cy="68.0" r="2.5"/><circle cx="194.7" cy="95.8" r="2.5"/><circle cx="178.5" cy="119.5" r="2.5"/><circle cx="166.1" cy="143.1" r="2.5"/><circle cx="153.7" cy="136.9" r="2.5"/><circle cx="142.7" cy="154.1" r="2.5"/><circle cx="223.6" cy="94.8" r="2.5"/><circle cx="121.0" cy="170.5" r="2.5"/><circle cx="158.1" cy="140.6" r="2.5"/><circle cx="160.5" cy="140.3" r="2.5"/><circle cx="243.1" cy="66.2" r="2.5"/><circle cx="200.1" cy="97.9" r="2.5"/><circle cx="159.4" cy="149.5" r="2.5"/><circle cx="196.6" cy="96.9" r="2.5"/><circle cx="172.2" cy="137.9" r="2.5"/><circle cx="217.1" cy="79.3" r="2.5"/><circle cx="166.6" cy="139.7" r="2.5"/><circle cx="160.2" cy="145.5" r="2.5"/><circle cx="189.3" cy="100.0" r="2.5"/><circle cx="156.0" cy="138.3" r="2.5"/><circle cx="153.0" cy="136.5" r="2.5"/><circle cx="108.8" cy="183.5" r="2.5"/><circle cx="178.3" cy="118.9" r="2.5"/><circle cx="202.9" cy="93.9" r="2.5"/><circle cx="119.0" cy="186.3" r="2.5"/><circle cx="188.0" cy="117.0" r="2.5"/><circle cx="205.3" cy="89.8" r="2.5"/><circle cx="231.6" cy="81.0" r="2.5"/><circle cx="176.6" cy="131.7" r="2.5"/><circle cx="195.3" cy="105.2" r="2.5"/><circle cx="168.3" cy="139.3" r="2.5"/><circle cx="151.3" cy="142.9" r="2.5"/><circle cx="139.0" cy="148.0" r="2.5"/><circle cx="184.3" cy="112.4" r="2.5"/><circle cx="207.5" cy="120.6" r="2.5"/><circle cx="207.8" cy="99.0" r="2.5"/><circle cx="219.7" cy="71.7" r="2.5"/><circle cx="200.9" cy="102.9" r="2.5"/><circle cx="119.6" cy="172.7" r="2.5"/><circle cx="152.4" cy="156.5" r="2.5"/><circle cx="156.8" cy="134.2" r="2.5"/><circle cx="207.9" cy="76.6" r="2.5"/><circle cx="128.8" cy="155.8" r="2.5"/><circle cx="232.4" cy="84.4" r="2.5"/><circle cx="157.1" cy="118.2" r="2.5"/><circle cx="235.2" cy="89.5" r="2.5"/><circle cx="200.2" cy="105.0" r="2.5"/><circle cx="244.9" cy="79.9" r="2.5"/><circle cx="152.3" cy="155.3" r="2.5"/><circle cx="94.8" cy="185.7" r="2.5"/><circle cx="155.8" cy="138.3" r="2.5"/><circle cx="211.5" cy="102.4" r="2.5"/><circle cx="228.1" cy="86.7" r="2.5"/><circle cx="233.2" cy="84.2" r="2.5"/><circle cx="176.4" cy="141.6" r="2.5"/><circle cx="128.6" cy="173.5" r="2.5"/><circle cx="233.1" cy="84.2" r="2.5"/><circle cx="172.5" cy="121.8" r="2.5"/><circle cx="236.8" cy="81.8" r="2.5"/><circle cx="229.4" cy="65.2" r="2.5"/><circle cx="196.7" cy="106.4" r="2.5"/><circle cx="131.3" cy="151.4" r="2.5"/><circle cx="158.1" cy="145.3" r="2.5"/><circle cx="179.5" cy="117.7" r="2.5"/><circle cx="110.0" cy="179.0" r="2.5"/><circle cx="243.6" cy="74.9" r="2.5"/><circle cx="213.9" cy="85.6" r="2.5"/><circle cx="213.2" cy="99.3" r="2.5"/><circle cx="170.6" cy="125.9" r="2.5"/><circle cx="151.9" cy="134.2" r="2.5"/><circle cx="183.9" cy="114.5" r="2.5"/><circle cx="210.3" cy="87.9" r="2.5"/><circle cx="193.2" cy="119.5" r="2.5"/><circle cx="115.8" cy="162.6" r="2.5"/><circle cx="163.7" cy="130.7" r="2.5"/><circle cx="188.5" cy="109.0" r="2.5"/><circle cx="215.5" cy="76.8" r="2.5"/><circle cx="262.4" cy="79.0" r="2.5"/><circle cx="173.5" cy="113.2" r="2.5"/><circle cx="259.7" cy="41.7" r="2.5"/><circle cx="221.5" cy="95.2" r="2.5"/><circle cx="124.6" cy="164.8" r="2.5"/><circle cx="151.8" cy="149.2" r="2.5"/><circle cx="203.6" cy="104.2" r="2.5"/><circle cx="246.5" cy="63.7" r="2.5"/><circle cx="151.1" cy="137.7" r="2.5"/><circle cx="123.0" cy="166.0" r="2.5"/><circle cx="149.2" cy="156.9" r="2.5"/><circle cx="216.4" cy="78.6" r="2.5"/><circle cx="118.1" cy="169.0" r="2.5"/><circle cx="117.8" cy="182.2" r="2.5"/><circle cx="183.8" cy="115.0" r="2.5"/><circle cx="183.2" cy="107.9" r="2.5"/><circle cx="159.6" cy="129.1" r="2.5"/><circle cx="153.7" cy="146.4" r="2.5"/><circle cx="257.4" cy="56.3" r="2.5"/><circle cx="137.3" cy="158.2" r="2.5"/><circle cx="191.9" cy="124.7" r="2.5"/><circle cx="199.7" cy="123.6" r="2.5"/><circle cx="181.5" cy="120.2" r="2.5"/><circle cx="243.0" cy="84.5" r="2.5"/><circle cx="163.5" cy="122.4" r="2.5"/><circle cx="180.6" cy="123.3" r="2.5"/><circle cx="148.4" cy="133.6" r="2.5"/><circle cx="154.7" cy="136.4" r="2.5"/><circle cx="151.9" cy="142.1" r="2.5"/><circle cx="216.3" cy="108.9" r="2.5"/><circle cx="165.3" cy="131.0" r="2.5"/><circle cx="188.5" cy="95.3" r="2.5"/><circle cx="187.7" cy="145.2" r="2.5"/><circle cx="137.3" cy="152.0" r="2.5"/><circle cx="152.2" cy="162.0" r="2.5"/><circle cx="183.3" cy="102.6" r="2.5"/><circle cx="227.8" cy="82.8" r="2.5"/><circle cx="171.7" cy="133.4" r="2.5"/><circle cx="233.6" cy="84.4" r="2.5"/><circle cx="197.9" cy="117.2" r="2.5"/><circle cx="204.4" cy="111.6" r="2.5"/><circle cx="121.1" cy="173.2" r="2.5"/><circle cx="210.7" cy="104.3" r="2.5"/><circle cx="150.3" cy="132.6" r="2.5"/><circle cx="203.0" cy="115.1" r="2.5"/><circle cx="222.5" cy="111.0" r="2.5"/><circle cx="127.8" cy="164.7" r="2.5"/><circle cx="151.1" cy="167.3" r="2.5"/><circle cx="182.7" cy="118.0" r="2.5"/><circle cx="193.6" cy="114.0" r="2.5"/><circle cx="153.6" cy="144.8" r="2.5"/><circle cx="197.3" cy="121.2" r="2.5"/><circle cx="146.2" cy="142.2" r="2.5"/><circle cx="216.6" cy="92.0" r="2.5"/><circle cx="114.3" cy="167.5" r="2.5"/><circle cx="269.7" cy="47.2" r="2.5"/><circle cx="254.0" cy="57.4" r="2.5"/><circle cx="155.5" cy="146.3" r="2.5"/><circle cx="203.5" cy="96.7" r="2.5"/><circle cx="202.3" cy="95.4" r="2.5"/><circle cx="161.0" cy="126.0" r="2.5"/><circle cx="197.4" cy="129.3" r="2.5"/><circle cx="194.5" cy="106.8" r="2.5"/><circle cx="153.3" cy="148.3" r="2.5"/><circle cx="193.9" cy="108.4" r="2.5"/><circle cx="191.0" cy="99.5" r="2.5"/><circle cx="230.9" cy="73.5" r="2.5"/><circle cx="165.1" cy="130.7" r="2.5"/><circle cx="98.9" cy="180.2" r="2.5"/><circle cx="133.8" cy="151.2" r="2.5"/><circle cx="195.9" cy="114.9" r="2.5"/><circle cx="225.4" cy="84.2" r="2.5"/><circle cx="167.1" cy="135.7" r="2.5"/><circle cx="185.3" cy="99.6" r="2.5"/><circle cx="121.5" cy="171.9" r="2.5"/><circle cx="209.6" cy="103.7" r="2.5"/><circle cx="211.3" cy="91.8" r="2.5"/><circle cx="150.3" cy="166.7" r="2.5"/><circle cx="158.5" cy="133.6" r="2.5"/><circle cx="198.1" cy="103.4" r="2.5"/><circle cx="210.8" cy="97.0" r="2.5"/><circle cx="195.4" cy="86.0" r="2.5"/><circle cx="146.5" cy="137.7" r="2.5"/><circle cx="230.3" cy="90.4" r="2.5"/><circle cx="151.9" cy="142.9" r="2.5"/><circle cx="157.8" cy="129.9" r="2.5"/><circle cx="203.1" cy="106.9" r="2.5"/><circle cx="177.4" cy="123.4" r="2.5"/><circle cx="117.5" cy="169.7" r="2.5"/><circle cx="111.2" cy="189.7" r="2.5"/><circle cx="144.7" cy="136.0" r="2.5"/><circle cx="160.2" cy="140.5" r="2.5"/><circle cx="308.9" cy="15.5" r="2.5"/><circle cx="224.4" cy="88.6" r="2.5"/><circle cx="132.4" cy="173.6" r="2.5"/><circle cx="254.3" cy="107.5" r="2.5"/><circle cx="151.9" cy="143.2" r="2.5"/><circle cx="156.7" cy="153.3" r="2.5"/><circle cx="194.9" cy="103.3" r="2.5"/><circle cx="144.6" cy="141.7" r="2.5"/><circle cx="157.9" cy="153.2" r="2.5"/><circle cx="117.7" cy="134.6" r="2.5"/><circle cx="145.7" cy="144.5" r="2.5"/><circle cx="187.5" cy="93.5" r="2.5"/><circle cx="123.7" cy="159.6" r="2.5"/><circle cx="185.0" cy="121.4" r="2.5"/><circle cx="179.9" cy="108.6" r="2.5"/><circle cx="172.2" cy="104.3" r="2.5"/><circle cx="202.2" cy="125.5" r="2.5"/><circle cx="143.0" cy="140.0" r="2.5"/><circle cx="230.8" cy="91.8" r="2.5"/><circle cx="118.1" cy="164.9" r="2.5"/><circle cx="134.6" cy="157.2" r="2.5"/><circle cx="169.6" cy="125.1" r="2.5"/><circle cx="254.6" cy="72.3" r="2.5"/><circle cx="160.5" cy="168.5" r="2.5"/><circle cx="251.1" cy="56.8" r="2.5"/><circle cx="183.5" cy="104.7" r="2.5"/><circle cx="216.4" cy="94.2" r="2.5"/><circle cx="175.8" cy="133.5" r="2.5"/><circle cx="124.2" cy="152.6" r="2.5"/><circle cx="195.6" cy="94.2" r="2.5"/><circle cx="187.2" cy="108.7" r="2.5"/><circle cx="152.1" cy="133.4" r="2.5"/><circle cx="154.3" cy="145.7" r="2.5"/><circle cx="143.8" cy="152.7" r="2.5"/><circle cx="175.0" cy="139.8" r="2.5"/><circle cx="160.0" cy="131.3" r="2.5"/><circle cx="180.8" cy="125.0" r="2.5"/><circle cx="271.2" cy="50.5" r="2.5"/><circle cx="115.6" cy="185.0" r="2.5"/><circle cx="158.3" cy="131.5" r="2.5"/><circle cx="250.2" cy="94.8" r="2.5"/><circle cx="147.1" cy="131.3" r="2.5"/><circle cx="183.4" cy="108.5" r="2.5"/><circle cx="126.0" cy="175.4" r="2.5"/><circle cx="136.5" cy="144.3" r="2.5"/><circle cx="120.8" cy="170.6" r="2.5"/><circle cx="199.7" cy="119.3" r="2.5"/><circle cx="183.1" cy="121.7" r="2.5"/><circle cx="177.3" cy="128.2" r="2.5"/><circle cx="223.0" cy="91.0" r="2.5"/><circle cx="149.7" cy="138.0" r="2.5"/><circle cx="157.0" cy="138.6" r="2.5"/><circle cx="137.3" cy="143.6" r="2.5"/><circle cx="239.8" cy="75.0" r="2.5"/><circle cx="148.2" cy="136.3" r="2.5"/><circle cx="212.4" cy="92.2" r="2.5"/><circle cx="141.4" cy="143.3" r="2.5"/><circle cx="138.5" cy="155.9" r="2.5"/><circle cx="163.7" cy="115.4" r="2.5"/><circle cx="166.9" cy="116.2" r="2.5"/><circle cx="274.9" cy="44.5" r="2.5"/><circle cx="259.7" cy="60.0" r="2.5"/><circle cx="187.7" cy="105.5" r="2.5"/><circle cx="169.7" cy="124.0" r="2.5"/><circle cx="194.2" cy="97.4" r="2.5"/><circle cx="178.3" cy="116.1" r="2.5"/><circle cx="198.3" cy="119.8" r="2.5"/><circle cx="202.3" cy="114.6" r="2.5"/><circle cx="142.5" cy="157.5" r="2.5"/><circle cx="222.8" cy="86.2" r="2.5"/><circle cx="197.4" cy="116.5" r="2.5"/><circle cx="203.5" cy="96.9" r="2.5"/><circle cx="187.8" cy="100.3" r="2.5"/><circle cx="170.1" cy="136.5" r="2.5"/><circle cx="180.5" cy="146.8" r="2.5"/><circle cx="205.0" cy="88.8" r="2.5"/><circle cx="145.9" cy="140.7" r="2.5"/><circle cx="231.1" cy="95.1" r="2.5"/><circle cx="219.9" cy="91.6" r="2.5"/><circle cx="144.4" cy="149.9" r="2.5"/><circle cx="174.3" cy="131.4" r="2.5"/><circle cx="156.5" cy="139.9" r="2.5"/><circle cx="228.2" cy="87.6" r="2.5"/><circle cx="245.0" cy="71.8" r="2.5"/><circle cx="293.9" cy="26.3" r="2.5"/><circle cx="192.7" cy="122.2" r="2.5"/><circle cx="122.7" cy="181.0" r="2.5"/><circle cx="210.0" cy="99.6" r="2.5"/><circle cx="214.4" cy="86.0" r="2.5"/><circle cx="138.6" cy="157.6" r="2.5"/><circle cx="235.8" cy="68.8" r="2.5"/><circle cx="230.1" cy="89.1" r="2.5"/><circle cx="181.1" cy="118.4" r="2.5"/><circle cx="208.5" cy="105.9" r="2.5"/><circle cx="228.3" cy="84.0" r="2.5"/><circle cx="204.9" cy="94.2" r="2.5"/><circle cx="150.2" cy="142.7" r="2.5"/><circle cx="222.3" cy="100.4" r="2.5"/><circle cx="185.1" cy="132.8" r="2.5"/><circle cx="192.8" cy="112.1" r="2.5"/><circle cx="190.5" cy="122.6" r="2.5"/><circle cx="153.9" cy="155.1" r="2.5"/><circle cx="220.2" cy="88.7" r="2.5"/><circle cx="145.9" cy="153.4" r="2.5"/><circle cx="211.5" cy="77.5" r="2.5"/><circle cx="245.1" cy="54.1" r="2.5"/><circle cx="232.6" cy="61.8" r="2.5"/><circle cx="245.5" cy="71.6" r="2.5"/><circle cx="151.6" cy="115.4" r="2.5"/><circle cx="221.5" cy="109.2" r="2.5"/><circle cx="206.3" cy="88.7" r="2.5"/><circle cx="206.1" cy="134.2" r="2.5"/><circle cx="200.9" cy="95.4" r="2.5"/><circle cx="191.3" cy="148.1" r="2.5"/><circle cx="210.1" cy="82.9" r="2.5"/><circle cx="190.4" cy="111.9" r="2.5"/><circle cx="182.7" cy="109.3" r="2.5"/><circle cx="239.1" cy="105.5" r="2.5"/><circle cx="216.6" cy="96.0" r="2.5"/><circle cx="165.4" cy="144.8" r="2.5"/><circle cx="189.7" cy="105.0" r="2.5"/><circle cx="171.6" cy="134.1" r="2.5"/><circle cx="246.6" cy="67.0" r="2.5"/><circle cx="194.6" cy="102.8" r="2.5"/><circle cx="133.8" cy="166.6" r="2.5"/><circle cx="165.2" cy="134.2" r="2.5"/><circle cx="217.7" cy="73.6" r="2.5"/><circle cx="179.1" cy="139.0" r="2.5"/><circle cx="246.5" cy="66.5" r="2.5"/><circle cx="221.9" cy="91.6" r="2.5"/><circle cx="144.2" cy="140.8" r="2.5"/><circle cx="204.7" cy="99.9" r="2.5"/><circle cx="188.1" cy="101.4" r="2.5"/><circle cx="133.9" cy="151.2" r="2.5"/><circle cx="172.5" cy="127.2" r="2.5"/><circle cx="130.5" cy="159.6" r="2.5"/><circle cx="169.5" cy="128.9" r="2.5"/><circle cx="166.2" cy="114.5" r="2.5"/><circle cx="119.9" cy="179.3" r="2.5"/><circle cx="193.2" cy="87.4" r="2.5"/><circle cx="180.6" cy="103.5" r="2.5"/><circle cx="195.9" cy="109.3" r="2.5"/><circle cx="109.2" cy="167.9" r="2.5"/><circle cx="144.8" cy="124.9" r="2.5"/><circle cx="231.2" cy="76.3" r="2.5"/><circle cx="136.8" cy="136.2" r="2.5"/><circle cx="132.1" cy="169.5" r="2.5"/><circle cx="216.2" cy="94.3" r="2.5"/><circle cx="135.4" cy="166.7" r="2.5"/><circle cx="194.2" cy="112.4" r="2.5"/><circle cx="224.2" cy="78.9" r="2.5"/><circle cx="226.3" cy="118.3" r="2.5"/><circle cx="230.5" cy="95.7" r="2.5"/><circle cx="234.7" cy="73.0" r="2.5"/><circle cx="188.2" cy="149.3" r="2.5"/><circle cx="154.3" cy="151.0" r="2.5"/><circle cx="132.5" cy="150.1" r="2.5"/><circle cx="261.1" cy="57.3" r="2.5"/><circle cx="230.8" cy="86.1" r="2.5"/><circle cx="155.9" cy="148.8" r="2.5"/><circle cx="208.9" cy="107.0" r="2.5"/><circle cx="129.3" cy="161.6" r="2.5"/><circle cx="235.5" cy="71.2" r="2.5"/><circle cx="148.7" cy="148.9" r="2.5"/><circle cx="155.2" cy="142.8" r="2.5"/><circle cx="246.9" cy="54.4" r="2.5"/><circle cx="196.2" cy="118.9" r="2.5"/><circle cx="193.1" cy="118.2" r="2.5"/><circle cx="255.1" cy="58.8" r="2.5"/><circle cx="145.2" cy="151.3" r="2.5"/><circle cx="160.7" cy="156.4" r="2.5"/><circle cx="184.0" cy="116.1" r="2.5"/><circle cx="196.7" cy="121.4" r="2.5"/><circle cx="170.5" cy="136.7" r="2.5"/><circle cx="190.8" cy="108.3" r="2.5"/><circle cx="231.9" cy="76.7" r="2.5"/><circle cx="175.2" cy="120.5" r="2.5"/><circle cx="127.3" cy="150.6" r="2.5"/><circle cx="179.2" cy="93.0" r="2.5"/><circle cx="141.7" cy="163.7" r="2.5"/><circle cx="160.0" cy="140.9" r="2.5"/><circle cx="237.9" cy="72.5" r="2.5"/><circle cx="152.9" cy="137.8" r="2.5"/><circle cx="264.4" cy="76.3" r="2.5"/><circle cx="164.2" cy="132.0" r="2.5"/><circle cx="175.7" cy="136.1" r="2.5"/><circle cx="172.2" cy="158.1" r="2.5"/><circle cx="221.7" cy="84.6" r="2.5"/><circle cx="107.2" cy="176.8" r="2.5"/><circle cx="217.3" cy="91.6" r="2.5"/><circle cx="193.4" cy="110.5" r="2.5"/><circle cx="172.8" cy="126.5" r="2.5"/><circle cx="262.2" cy="63.0" r="2.5"/><circle cx="168.1" cy="136.9" r="2.5"/><circle cx="157.8" cy="121.2" r="2.5"/><circle cx="204.8" cy="92.5" r="2.5"/><circle cx="135.6" cy="161.4" r="2.5"/><circle cx="166.2" cy="131.8" r="2.5"/><circle cx="183.4" cy="130.4" r="2.5"/><circle cx="209.3" cy="109.4" r="2.5"/><circle cx="256.4" cy="61.1" r="2.5"/><circle cx="186.4" cy="139.0" r="2.5"/><circle cx="131.9" cy="147.0" r="2.5"/><circle cx="241.4" cy="92.8" r="2.5"/><circle cx="247.7" cy="64.7" r="2.5"/><circle cx="167.0" cy="129.2" r="2.5"/><circle cx="220.6" cy="69.6" r="2.5"/><circle cx="174.9" cy="167.8" r="2.5"/><circle cx="161.2" cy="132.3" r="2.5"/><circle cx="175.2" cy="131.4" r="2.5"/><circle cx="162.7" cy="162.0" r="2.5"/><circle cx="242.5" cy="92.5" r="2.5"/><circle cx="136.1" cy="159.5" r="2.5"/><circle cx="151.3" cy="142.0" r="2.5"/><circle cx="119.9" cy="193.5" r="2.5"/><circle cx="165.5" cy="118.3" r="2.5"/><circle cx="102.3" cy="168.4" r="2.5"/><circle cx="119.7" cy="168.6" r="2.5"/><circle cx="124.7" cy="177.7" r="2.5"/><circle cx="184.5" cy="104.1" r="2.5"/><circle cx="200.6" cy="92.9" r="2.5"/><circle cx="202.7" cy="108.7" r="2.5"/><circle cx="212.7" cy="95.7" r="2.5"/><circle cx="167.8" cy="109.9" r="2.5"/><circle cx="156.4" cy="128.3" r="2.5"/><circle cx="199.8" cy="100.1" r="2.5"/><circle cx="196.7" cy="94.0" r="2.5"/><circle cx="170.1" cy="134.8" r="2.5"/><circle cx="151.3" cy="139.8" r="2.5"/><circle cx="152.8" cy="152.3" r="2.5"/><circle cx="171.3" cy="124.8" r="2.5"/><circle cx="251.6" cy="68.0" r="2.5"/><circle cx="209.0" cy="106.3" r="2.5"/><circle cx="154.1" cy="159.4" r="2.5"/><circle cx="123.6" cy="164.9" r="2.5"/><circle cx="118.6" cy="175.2" r="2.5"/><circle cx="265.2" cy="45.8" r="2.5"/><circle cx="235.0" cy="86.8" r="2.5"/><circle cx="179.2" cy="134.5" r="2.5"/><circle cx="267.3" cy="40.0" r="2.5"/><circle cx="225.7" cy="86.0" r="2.5"/><circle cx="239.6" cy="88.0" r="2.5"/><circle cx="207.6" cy="126.5" r="2.5"/><circle cx="158.7" cy="136.6" r="2.5"/><circle cx="105.4" cy="184.7" r="2.5"/><circle cx="157.1" cy="150.7" r="2.5"/><circle cx="158.0" cy="127.8" r="2.5"/><circle cx="189.5" cy="121.4" r="2.5"/><circle cx="169.1" cy="132.6" r="2.5"/><circle cx="193.6" cy="94.3" r="2.5"/><circle cx="216.0" cy="102.7" r="2.5"/><circle cx="236.3" cy="89.2" r="2.5"/><circle cx="167.6" cy="127.0" r="2.5"/><circle cx="138.6" cy="151.5" r="2.5"/><circle cx="153.8" cy="131.0" r="2.5"/><circle cx="150.6" cy="142.9" r="2.5"/><circle cx="183.2" cy="147.6" r="2.5"/><circle cx="154.8" cy="124.9" r="2.5"/><circle cx="248.3" cy="68.7" r="2.5"/><circle cx="188.7" cy="108.5" r="2.5"/><circle cx="111.6" cy="169.0" r="2.5"/><circle cx="216.4" cy="82.1" r="2.5"/><circle cx="161.3" cy="128.5" r="2.5"/><circle cx="142.1" cy="163.7" r="2.5"/><circle cx="202.7" cy="105.4" r="2.5"/><circle cx="166.1" cy="139.9" r="2.5"/><circle cx="178.9" cy="105.3" r="2.5"/><circle cx="182.1" cy="130.6" r="2.5"/><circle cx="217.2" cy="124.6" r="2.5"/><circle cx="172.3" cy="128.6" r="2.5"/><circle cx="210.4" cy="98.5" r="2.5"/><circle cx="151.6" cy="151.1" r="2.5"/><circle cx="239.9" cy="83.9" r="2.5"/><circle cx="183.1" cy="135.5" r="2.5"/><circle cx="259.9" cy="45.4" r="2.5"/><circle cx="180.5" cy="120.3" r="2.5"/><circle cx="195.5" cy="107.1" r="2.5"/><circle cx="196.0" cy="100.1" r="2.5"/><circle cx="138.9" cy="178.2" r="2.5"/><circle cx="145.3" cy="155.9" r="2.5"/><circle cx="173.4" cy="101.6" r="2.5"/><circle cx="244.4" cy="110.3" r="2.5"/><circle cx="159.2" cy="139.8" r="2.5"/><circle cx="203.1" cy="115.8" r="2.5"/><circle cx="187.6" cy="103.5" r="2.5"/><circle cx="127.1" cy="166.0" r="2.5"/><circle cx="179.7" cy="133.3" r="2.5"/><circle cx="144.3" cy="144.9" r="2.5"/><circle cx="239.3" cy="43.6" r="2.5"/><circle cx="143.8" cy="143.0" r="2.5"/><circle cx="96.8" cy="189.3" r="2.5"/><circle cx="174.5" cy="119.8" r="2.5"/><circle cx="163.8" cy="131.8" r="2.5"/><circle cx="191.2" cy="82.6" r="2.5"/><circle cx="158.9" cy="152.5" r="2.5"/><circle cx="139.1" cy="133.6" r="2.5"/><circle cx="235.4" cy="77.0" r="2.5"/><circle cx="117.9" cy="169.4" r="2.5"/><circle cx="181.6" cy="133.0" r="2.5"/><circle cx="225.4" cy="86.6" r="2.5"/><circle cx="143.9" cy="159.5" r="2.5"/><circle cx="151.0" cy="160.8" r="2.5"/><circle cx="187.7" cy="106.0" r="2.5"/><circle cx="214.1" cy="82.5" r="2.5"/><circle cx="176.7" cy="143.2" r="2.5"/><circle cx="170.8" cy="139.2" r="2.5"/><circle cx="123.8" cy="168.5" r="2.5"/><circle cx="250.4" cy="59.4" r="2.5"/><circle cx="183.6" cy="136.2" r="2.5"/><circle cx="172.8" cy="126.3" r="2.5"/><circle cx="244.7" cy="76.3" r="2.5"/><circle cx="142.9" cy="161.8" r="2.5"/><circle cx="213.1" cy="103.3" r="2.5"/><circle cx="217.4" cy="105.6" r="2.5"/><circle cx="142.1" cy="150.6" r="2.5"/><circle cx="159.8" cy="115.1" r="2.5"/><circle cx="182.7" cy="107.8" r="2.5"/><circle cx="198.5" cy="111.5" r="2.5"/><circle cx="136.0" cy="134.9" r="2.5"/><circle cx="233.8" cy="90.7" r="2.5"/><circle cx="200.3" cy="78.2" r="2.5"/><circle cx="131.3" cy="170.6" r="2.5"/><circle cx="158.2" cy="144.4" r="2.5"/><circle cx="129.8" cy="173.3" r="2.5"/><circle cx="186.8" cy="113.5" r="2.5"/><circle cx="199.9" cy="88.5" r="2.5"/><circle cx="99.6" cy="187.2" r="2.5"/><circle cx="129.1" cy="159.8" r="2.5"/><circle cx="195.8" cy="103.6" r="2.5"/><circle cx="158.5" cy="95.8" r="2.5"/><circle cx="209.7" cy="83.4" r="2.5"/><circle cx="200.2" cy="102.6" r="2.5"/><circle cx="209.8" cy="112.2" r="2.5"/><circle cx="192.3" cy="112.4" r="2.5"/><circle cx="150.1" cy="135.9" r="2.5"/><circle cx="174.6" cy="120.1" r="2.5"/><circle cx="167.4" cy="138.7" r="2.5"/><circle cx="145.7" cy="136.5" r="2.5"/><circle cx="167.6" cy="116.0" r="2.5"/><circle cx="194.6" cy="118.7" r="2.5"/><circle cx="227.2" cy="67.7" r="2.5"/><circle cx="193.6" cy="115.0" r="2.5"/><circle cx="163.0" cy="150.5" r="2.5"/><circle cx="175.9" cy="129.6" r="2.5"/><circle cx="159.8" cy="114.0" r="2.5"/><circle cx="139.9" cy="187.5" r="2.5"/><circle cx="238.7" cy="87.6" r="2.5"/><circle cx="236.0" cy="78.4" r="2.5"/><circle cx="185.7" cy="133.3" r="2.5"/><circle cx="123.0" cy="186.3" r="2.5"/><circle cx="135.3" cy="153.0" r="2.5"/><circle cx="140.7" cy="162.8" r="2.5"/><circle cx="113.7" cy="176.5" r="2.5"/><circle cx="127.6" cy="164.1" r="2.5"/><circle cx="166.6" cy="126.1" r="2.5"/><circle cx="175.2" cy="122.7" r="2.5"/><circle cx="205.3" cy="99.6" r="2.5"/><circle cx="239.8" cy="70.8" r="2.5"/><circle cx="164.1" cy="139.7" r="2.5"/><circle cx="187.8" cy="101.2" r="2.5"/><circle cx="171.3" cy="126.9" r="2.5"/><circle cx="184.3" cy="119.6" r="2.5"/><circle cx="193.5" cy="117.0" r="2.5"/><circle cx="161.4" cy="141.9" r="2.5"/><circle cx="205.7" cy="96.0" r="2.5"/><circle cx="241.4" cy="50.1" r="2.5"/><circle cx="218.6" cy="80.8" r="2.5"/><circle cx="219.0" cy="81.3" r="2.5"/><circle cx="183.3" cy="123.7" r="2.5"/><circle cx="259.6" cy="60.0" r="2.5"/><circle cx="224.2" cy="86.5" r="2.5"/><circle cx="121.1" cy="169.7" r="2.5"/><circle cx="173.6" cy="134.5" r="2.5"/><circle cx="271.3" cy="64.7" r="2.5"/><circle cx="139.6" cy="158.9" r="2.5"/><circle cx="196.3" cy="109.8" r="2.5"/><circle cx="121.5" cy="162.2" r="2.5"/><circle cx="106.8" cy="182.0" r="2.5"/><circle cx="226.0" cy="76.7" r="2.5"/><circle cx="183.2" cy="121.8" r="2.5"/><circle cx="190.5" cy="98.4" r="2.5"/><circle cx="182.4" cy="131.8" r="2.5"/><circle cx="268.2" cy="59.1" r="2.5"/><circle cx="199.7" cy="131.6" r="2.5"/><circle cx="191.6" cy="98.4" r="2.5"/><circle cx="162.3" cy="140.5" r="2.5"/><circle cx="195.1" cy="111.1" r="2.5"/><circle cx="227.7" cy="85.5" r="2.5"/><circle cx="129.2" cy="171.0" r="2.5"/><circle cx="236.1" cy="94.7" r="2.5"/><circle cx="219.9" cy="88.0" r="2.5"/><circle cx="128.6" cy="156.2" r="2.5"/><circle cx="209.1" cy="93.4" r="2.5"/><circle cx="245.1" cy="65.1" r="2.5"/><circle cx="261.5" cy="81.7" r="2.5"/><circle cx="172.9" cy="115.2" r="2.5"/><circle cx="178.7" cy="120.9" r="2.5"/><circle cx="171.2" cy="135.6" r="2.5"/><circle cx="169.9" cy="119.7" r="2.5"/><circle cx="200.9" cy="80.0" r="2.5"/><circle cx="182.0" cy="97.5" r="2.5"/><circle cx="229.6" cy="118.7" r="2.5"/><circle cx="184.3" cy="114.8" r="2.5"/><circle cx="169.2" cy="125.9" r="2.5"/><circle cx="169.7" cy="114.0" r="2.5"/><circle cx="185.2" cy="131.8" r="2.5"/><circle cx="121.6" cy="157.8" r="2.5"/><circle cx="188.2" cy="85.9" r="2.5"/><circle cx="252.2" cy="75.6" r="2.5"/><circle cx="223.4" cy="85.0" r="2.5"/><circle cx="152.5" cy="155.1" r="2.5"/><circle cx="138.3" cy="181.1" r="2.5"/><circle cx="190.0" cy="106.4" r="2.5"/><circle cx="184.3" cy="97.8" r="2.5"/><circle cx="213.6" cy="96.9" r="2.5"/><circle cx="155.6" cy="163.2" r="2.5"/><circle cx="172.4" cy="128.1" r="2.5"/><circle cx="223.5" cy="87.0" r="2.5"/><circle cx="215.7" cy="107.7" r="2.5"/><circle cx="258.7" cy="52.4" r="2.5"/><circle cx="161.1" cy="123.4" r="2.5"/><circle cx="199.0" cy="100.5" r="2.5"/><circle cx="184.4" cy="111.3" r="2.5"/><circle cx="181.0" cy="116.4" r="2.5"/><circle cx="220.8" cy="66.6" r="2.5"/><circle cx="198.3" cy="112.7" r="2.5"/><circle cx="169.5" cy="120.5" r="2.5"/><circle cx="218.2" cy="82.0" r="2.5"/><circle cx="196.1" cy="99.4" r="2.5"/><circle cx="208.1" cy="110.3" r="2.5"/><circle cx="161.0" cy="174.0" r="2.5"/><circle cx="245.7" cy="71.3" r="2.5"/><circle cx="118.5" cy="157.8" r="2.5"/><circle cx="201.1" cy="93.9" r="2.5"/><circle cx="218.5" cy="90.5" r="2.5"/><circle cx="163.5" cy="153.2" r="2.5"/><circle cx="164.1" cy="111.3" r="2.5"/><circle cx="148.2" cy="134.8" r="2.5"/><circle cx="192.0" cy="114.4" r="2.5"/><circle cx="136.4" cy="158.7" r="2.5"/><circle cx="201.1" cy="111.0" r="2.5"/><circle cx="179.6" cy="121.0" r="2.5"/><circle cx="186.2" cy="100.5" r="2.5"/><circle cx="171.8" cy="132.8" r="2.5"/><circle cx="207.9" cy="75.7" r="2.5"/><circle cx="215.6" cy="88.8" r="2.5"/><circle cx="213.5" cy="88.8" r="2.5"/><circle cx="188.7" cy="127.9" r="2.5"/><circle cx="221.5" cy="67.4" r="2.5"/><circle cx="109.6" cy="190.4" r="2.5"/><circle cx="228.9" cy="84.9" r="2.5"/><circle cx="188.9" cy="106.9" r="2.5"/><circle cx="161.6" cy="131.8" r="2.5"/><circle cx="220.6" cy="98.6" r="2.5"/><circle cx="151.6" cy="129.6" r="2.5"/><circle cx="199.4" cy="119.9" r="2.5"/><circle cx="111.9" cy="179.7" r="2.5"/><circle cx="221.5" cy="89.8" r="2.5"/><circle cx="162.0" cy="138.5" r="2.5"/><circle cx="172.2" cy="121.7" r="2.5"/><circle cx="140.2" cy="161.9" r="2.5"/><circle cx="306.4" cy="23.1" r="2.5"/><circle cx="215.8" cy="121.1" r="2.5"/><circle cx="130.3" cy="146.7" r="2.5"/><circle cx="183.2" cy="128.4" r="2.5"/><circle cx="209.7" cy="69.8" r="2.5"/><circle cx="222.9" cy="98.6" r="2.5"/><circle cx="196.2" cy="135.9" r="2.5"/><circle cx="208.1" cy="97.2" r="2.5"/><circle cx="191.6" cy="122.8" r="2.5"/><circle cx="148.9" cy="149.0" r="2.5"/><circle cx="181.7" cy="122.1" r="2.5"/><circle cx="174.3" cy="114.8" r="2.5"/><circle cx="190.9" cy="118.5" r="2.5"/><circle cx="127.5" cy="163.7" r="2.5"/><circle cx="255.9" cy="71.2" r="2.5"/><circle cx="241.6" cy="74.1" r="2.5"/><circle cx="190.5" cy="118.5" r="2.5"/><circle cx="205.4" cy="100.4" r="2.5"/><circle cx="237.8" cy="80.6" r="2.5"/><circle cx="159.5" cy="136.8" r="2.5"/><circle cx="193.8" cy="133.3" r="2.5"/><circle cx="153.8" cy="156.9" r="2.5"/><circle cx="207.6" cy="95.5" r="2.5"/><circle cx="201.4" cy="112.2" r="2.5"/><circle cx="211.7" cy="90.7" r="2.5"/><circle cx="163.8" cy="170.3" r="2.5"/><circle cx="137.8" cy="146.8" r="2.5"/><circle cx="243.3" cy="75.2" r="2.5"/><circle cx="155.0" cy="148.6" r="2.5"/><circle cx="118.3" cy="174.4" r="2.5"/><circle cx="168.0" cy="144.4" r="2.5"/><circle cx="160.8" cy="144.4" r="2.5"/><circle cx="154.1" cy="138.1" r="2.5"/><circle cx="208.9" cy="91.7" r="2.5"/><circle cx="174.9" cy="121.7" r="2.5"/><circle cx="271.4" cy="63.1" r="2.5"/><circle cx="143.1" cy="153.3" r="2.5"/><circle cx="138.8" cy="152.4" r="2.5"/><circle cx="112.7" cy="172.0" r="2.5"/><circle cx="213.0" cy="98.5" r="2.5"/><circle cx="142.0" cy="132.1" r="2.5"/><circle cx="138.1" cy="142.3" r="2.5"/><circle cx="226.5" cy="87.0" r="2.5"/><circle cx="232.0" cy="80.9" r="2.5"/><circle cx="124.4" cy="168.5" r="2.5"/><circle cx="211.9" cy="93.6" r="2.5"/><circle cx="193.6" cy="129.1" r="2.5"/><circle cx="131.2" cy="171.3" r="2.5"/><circle cx="185.2" cy="126.3" r="2.5"/><circle cx="203.4" cy="118.3" r="2.5"/><circle cx="124.8" cy="165.2" r="2.5"/><circle cx="164.6" cy="147.3" r="2.5"/><circle cx="194.4" cy="103.1" r="2.5"/><circle cx="245.8" cy="68.1" r="2.5"/><circle cx="173.7" cy="136.5" r="2.5"/><circle cx="151.3" cy="139.0" r="2.5"/><circle cx="152.5" cy="150.5" r="2.5"/><circle cx="240.4" cy="95.4" r="2.5"/><circle cx="185.9" cy="105.9" r="2.5"/><circle cx="142.8" cy="127.3" r="2.5"/><circle cx="179.4" cy="112.3" r="2.5"/><circle cx="148.0" cy="153.7" r="2.5"/><circle cx="185.0" cy="123.1" r="2.5"/><circle cx="186.5" cy="137.5" r="2.5"/><circle cx="238.9" cy="81.6" r="2.5"/><circle cx="232.1" cy="90.5" r="2.5"/><circle cx="224.1" cy="91.5" r="2.5"/><circle cx="132.8" cy="183.4" r="2.5"/><circle cx="235.4" cy="91.7" r="2.5"/><circle cx="221.3" cy="128.6" r="2.5"/><circle cx="198.9" cy="110.8" r="2.5"/><circle cx="138.4" cy="151.3" r="2.5"/><circle cx="198.6" cy="109.3" r="2.5"/><circle cx="167.4" cy="132.4" r="2.5"/><circle cx="158.0" cy="127.5" r="2.5"/><circle cx="185.1" cy="113.3" r="2.5"/><circle cx="233.7" cy="81.7" r="2.5"/><circle cx="199.9" cy="98.3" r="2.5"/><circle cx="256.0" cy="70.1" r="2.5"/><circle cx="178.0" cy="139.3" r="2.5"/><circle cx="240.5" cy="62.1" r="2.5"/><circle cx="163.5" cy="141.5" r="2.5"/><circle cx="153.3" cy="145.9" r="2.5"/><circle cx="142.9" cy="138.8" r="2.5"/><circle cx="226.1" cy="88.9" r="2.5"/><circle cx="255.1" cy="64.7" r="2.5"/><circle cx="200.7" cy="91.8" r="2.5"/><circle cx="181.0" cy="124.5" r="2.5"/><circle cx="198.6" cy="89.5" r="2.5"/><circle cx="193.5" cy="132.6" r="2.5"/><circle cx="140.7" cy="156.2" r="2.5"/><circle cx="205.4" cy="104.3" r="2.5"/><circle cx="177.4" cy="96.4" r="2.5"/><circle cx="203.5" cy="106.0" r="2.5"/><circle cx="199.4" cy="117.1" r="2.5"/><circle cx="154.4" cy="154.6" r="2.5"/><circle cx="104.7" cy="173.9" r="2.5"/><circle cx="156.6" cy="133.5" r="2.5"/><circle cx="175.5" cy="118.0" r="2.5"/><circle cx="184.5" cy="104.8" r="2.5"/><circle cx="172.8" cy="121.8" r="2.5"/><circle cx="231.9" cy="75.1" r="2.5"/><circle cx="248.4" cy="70.0" r="2.5"/><circle cx="151.5" cy="142.7" r="2.5"/><circle cx="210.6" cy="113.7" r="2.5"/><circle cx="173.7" cy="120.8" r="2.5"/><circle cx="228.3" cy="120.8" r="2.5"/><circle cx="129.4" cy="176.8" r="2.5"/><circle cx="214.7" cy="108.9" r="2.5"/><circle cx="204.3" cy="106.6" r="2.5"/><circle cx="141.2" cy="152.1" r="2.5"/><circle cx="237.3" cy="73.2" r="2.5"/><circle cx="229.9" cy="79.7" r="2.5"/><circle cx="149.7" cy="146.2" r="2.5"/><circle cx="149.0" cy="151.0" r="2.5"/><circle cx="156.8" cy="146.1" r="2.5"/><circle cx="173.6" cy="111.7" r="2.5"/><circle cx="131.3" cy="173.5" r="2.5"/><circle cx="182.5" cy="110.9" r="2.5"/><circle cx="200.7" cy="88.0" r="2.5"/><circle cx="202.1" cy="109.1" r="2.5"/><circle cx="137.3" cy="150.0" r="2.5"/><circle cx="195.3" cy="128.5" r="2.5"/><circle cx="212.7" cy="122.7" r="2.5"/><circle cx="137.6" cy="165.6" r="2.5"/><circle cx="120.3" cy="183.3" r="2.5"/><circle cx="161.9" cy="157.9" r="2.5"/><circle cx="188.0" cy="94.7" r="2.5"/><circle cx="234.4" cy="78.8" r="2.5"/><circle cx="192.4" cy="117.8" r="2.5"/><circle cx="180.1" cy="133.2" r="2.5"/><circle cx="201.9" cy="121.5" r="2.5"/><circle cx="116.0" cy="163.8" r="2.5"/><circle cx="171.5" cy="131.7" r="2.5"/><circle cx="273.8" cy="63.5" r="2.5"/><circle cx="192.9" cy="136.9" r="2.5"/><circle cx="168.9" cy="111.1" r="2.5"/><circle cx="175.0" cy="107.3" r="2.5"/><circle cx="204.1" cy="112.8" r="2.5"/><circle cx="215.8" cy="90.9" r="2.5"/><circle cx="194.2" cy="112.5" r="2.5"/><circle cx="111.7" cy="189.3" r="2.5"/><circle cx="146.5" cy="153.1" r="2.5"/><circle cx="182.6" cy="106.5" r="2.5"/><circle cx="174.5" cy="143.7" r="2.5"/><circle cx="108.6" cy="194.5" r="2.5"/><circle cx="152.5" cy="149.1" r="2.5"/><circle cx="140.7" cy="153.3" r="2.5"/><circle cx="154.2" cy="139.0" r="2.5"/><circle cx="157.2" cy="180.0" r="2.5"/><circle cx="168.8" cy="119.9" r="2.5"/><circle cx="213.3" cy="89.4" r="2.5"/><circle cx="97.4" cy="199.6" r="2.5"/><circle cx="241.0" cy="86.8" r="2.5"/><circle cx="149.8" cy="155.9" r="2.5"/><circle cx="196.4" cy="92.4" r="2.5"/><circle cx="171.3" cy="137.2" r="2.5"/><circle cx="127.5" cy="154.0" r="2.5"/><circle cx="157.8" cy="118.9" r="2.5"/><circle cx="147.8" cy="166.7" r="2.5"/><circle cx="171.6" cy="142.3" r="2.5"/><circle cx="205.3" cy="107.7" r="2.5"/><circle cx="197.4" cy="92.4" r="2.5"/><circle cx="141.1" cy="132.8" r="2.5"/><circle cx="157.1" cy="123.9" r="2.5"/><circle cx="125.7" cy="161.9" r="2.5"/><circle cx="206.3" cy="98.0" r="2.5"/><circle cx="182.7" cy="133.8" r="2.5"/><circle cx="156.2" cy="127.6" r="2.5"/><circle cx="142.4" cy="159.7" r="2.5"/><circle cx="107.2" cy="179.9" r="2.5"/><circle cx="142.7" cy="159.7" r="2.5"/><circle cx="139.9" cy="155.6" r="2.5"/><circle cx="221.2" cy="118.9" r="2.5"/><circle cx="164.6" cy="128.1" r="2.5"/><circle cx="165.4" cy="135.5" r="2.5"/><circle cx="200.0" cy="87.2" r="2.5"/><circle cx="147.9" cy="143.8" r="2.5"/><circle cx="133.0" cy="166.8" r="2.5"/><circle cx="124.4" cy="176.5" r="2.5"/><circle cx="202.0" cy="114.2" r="2.5"/><circle cx="186.7" cy="121.9" r="2.5"/><circle cx="186.4" cy="132.6" r="2.5"/><circle cx="201.5" cy="122.9" r="2.5"/><circle cx="177.1" cy="125.4" r="2.5"/><circle cx="262.7" cy="59.0" r="2.5"/><circle cx="204.1" cy="113.2" r="2.5"/><circle cx="248.4" cy="56.2" r="2.5"/><circle cx="246.5" cy="46.7" r="2.5"/><circle cx="169.1" cy="129.6" r="2.5"/><circle cx="158.4" cy="136.4" r="2.5"/><circle cx="193.9" cy="109.3" r="2.5"/><circle cx="189.3" cy="96.9" r="2.5"/><circle cx="217.9" cy="91.1" r="2.5"/><circle cx="206.3" cy="95.5" r="2.5"/><circle cx="133.0" cy="156.1" r="2.5"/><circle cx="140.1" cy="149.8" r="2.5"/><circle cx="192.1" cy="123.9" r="2.5"/><circle cx="212.3" cy="109.8" r="2.5"/><circle cx="179.6" cy="123.1" r="2.5"/><circle cx="143.5" cy="167.3" r="2.5"/><circle cx="178.6" cy="128.8" r="2.5"/><circle cx="159.4" cy="140.6" r="2.5"/><circle cx="150.3" cy="153.4" r="2.5"/><circle cx="206.9" cy="73.7" r="2.5"/><circle cx="196.6" cy="107.5" r="2.5"/><circle cx="191.6" cy="102.0" r="2.5"/><circle cx="239.2" cy="73.5" r="2.5"/><circle cx="167.8" cy="141.6" r="2.5"/><circle cx="182.3" cy="126.7" r="2.5"/><circle cx="128.2" cy="150.8" r="2.5"/><circle cx="207.0" cy="88.5" r="2.5"/><circle cx="180.7" cy="112.0" r="2.5"/><circle cx="237.4" cy="65.1" r="2.5"/><circle cx="125.3" cy="167.1" r="2.5"/><circle cx="193.7" cy="106.8" r="2.5"/><circle cx="253.4" cy="66.4" r="2.5"/><circle cx="208.1" cy="96.4" r="2.5"/><circle cx="127.3" cy="144.1" r="2.5"/><circle cx="187.5" cy="102.3" r="2.5"/><circle cx="159.5" cy="122.6" r="2.5"/><circle cx="140.3" cy="154.6" r="2.5"/><circle cx="148.4" cy="148.0" r="2.5"/><circle cx="215.3" cy="85.8" r="2.5"/><circle cx="199.6" cy="100.5" r="2.5"/><circle cx="205.2" cy="108.8" r="2.5"/><circle cx="241.1" cy="79.5" r="2.5"/><circle cx="175.6" cy="135.1" r="2.5"/><circle cx="123.0" cy="155.1" r="2.5"/><circle cx="290.7" cy="36.6" r="2.5"/><circle cx="163.4" cy="127.4" r="2.5"/><circle cx="161.6" cy="132.5" r="2.5"/><circle cx="139.1" cy="152.8" r="2.5"/><circle cx="139.4" cy="166.5" r="2.5"/><circle cx="149.2" cy="150.6" r="2.5"/><circle cx="182.0" cy="109.8" r="2.5"/><circle cx="150.4" cy="126.9" r="2.5"/><circle cx="123.8" cy="178.7" r="2.5"/><circle cx="257.8" cy="49.9" r="2.5"/><circle cx="116.2" cy="166.7" r="2.5"/><circle cx="257.9" cy="66.9" r="2.5"/><circle cx="176.2" cy="115.6" r="2.5"/><circle cx="170.1" cy="131.6" r="2.5"/><circle cx="169.6" cy="138.8" r="2.5"/><circle cx="179.5" cy="122.9" r="2.5"/><circle cx="234.2" cy="57.7" r="2.5"/><circle cx="158.2" cy="136.8" r="2.5"/><circle cx="110.9" cy="163.2" r="2.5"/><circle cx="218.1" cy="102.8" r="2.5"/><circle cx="245.5" cy="67.0" r="2.5"/><circle cx="135.5" cy="157.7" r="2.5"/><circle cx="203.7" cy="95.3" r="2.5"/><circle cx="158.1" cy="132.6" r="2.5"/><circle cx="144.9" cy="147.6" r="2.5"/><circle cx="168.9" cy="133.0" r="2.5"/><circle cx="140.4" cy="144.8" r="2.5"/><circle cx="182.2" cy="112.9" r="2.5"/><circle cx="254.6" cy="58.5" r="2.5"/><circle cx="153.7" cy="153.4" r="2.5"/><circle cx="164.9" cy="125.0" r="2.5"/><circle cx="210.1" cy="86.0" r="2.5"/><circle cx="214.9" cy="89.6" r="2.5"/><circle cx="224.4" cy="82.8" r="2.5"/><circle cx="184.5" cy="121.5" r="2.5"/><circle cx="127.8" cy="143.7" r="2.5"/><circle cx="222.4" cy="74.4" r="2.5"/><circle cx="174.5" cy="139.0" r="2.5"/><circle cx="124.4" cy="158.0" r="2.5"/><circle cx="192.3" cy="113.6" r="2.5"/><circle cx="160.2" cy="135.2" r="2.5"/><circle cx="176.8" cy="117.4" r="2.5"/><circle cx="190.9" cy="103.6" r="2.5"/><circle cx="105.4" cy="179.2" r="2.5"/><circle cx="210.4" cy="88.1" r="2.5"/><circle cx="199.3" cy="96.6" r="2.5"/><circle cx="166.3" cy="143.3" r="2.5"/><circle cx="180.3" cy="121.0" r="2.5"/><circle cx="187.0" cy="128.3" r="2.5"/><circle cx="239.8" cy="77.8" r="2.5"/><circle cx="138.1" cy="123.2" r="2.5"/><circle cx="188.6" cy="107.6" r="2.5"/><circle cx="181.2" cy="117.6" r="2.5"/><circle cx="159.2" cy="149.6" r="2.5"/><circle cx="157.2" cy="151.8" r="2.5"/><circle cx="182.0" cy="128.2" r="2.5"/><circle cx="165.4" cy="145.8" r="2.5"/><circle cx="162.1" cy="138.7" r="2.5"/><circle cx="192.5" cy="130.0" r="2.5"/><circle cx="148.7" cy="134.2" r="2.5"/><circle cx="174.1" cy="124.6" r="2.5"/><circle cx="122.0" cy="179.7" r="2.5"/><circle cx="248.6" cy="76.5" r="2.5"/><circle cx="250.8" cy="72.2" r="2.5"/><circle cx="236.2" cy="95.9" r="2.5"/><circle cx="120.6" cy="178.8" r="2.5"/><circle cx="171.4" cy="146.8" r="2.5"/><circle cx="171.4" cy="133.2" r="2.5"/><circle cx="176.0" cy="139.6" r="2.5"/><circle cx="201.2" cy="110.7" r="2.5"/><circle cx="207.6" cy="121.4" r="2.5"/><circle cx="220.4" cy="86.6" r="2.5"/><circle cx="155.4" cy="144.5" r="2.5"/><circle cx="236.2" cy="75.5" r="2.5"/><circle cx="145.9" cy="160.7" r="2.5"/><circle cx="226.5" cy="78.9" r="2.5"/><circle cx="269.2" cy="44.1" r="2.5"/><circle cx="221.7" cy="92.3" r="2.5"/><circle cx="148.3" cy="154.0" r="2.5"/><circle cx="148.7" cy="141.4" r="2.5"/><circle cx="200.7" cy="109.9" r="2.5"/><circle cx="141.3" cy="149.6" r="2.5"/><circle cx="203.8" cy="117.4" r="2.5"/><circle cx="156.9" cy="130.3" r="2.5"/><circle cx="118.0" cy="163.9" r="2.5"/><circle cx="209.7" cy="113.9" r="2.5"/><circle cx="141.9" cy="151.0" r="2.5"/><circle cx="224.3" cy="96.0" r="2.5"/><circle cx="182.8" cy="136.5" r="2.5"/><circle cx="147.9" cy="147.1" r="2.5"/><circle cx="233.6" cy="92.2" r="2.5"/><circle cx="163.6" cy="135.7" r="2.5"/><circle cx="256.9" cy="62.9" r="2.5"/><circle cx="133.2" cy="161.9" r="2.5"/><circle cx="234.3" cy="79.9" r="2.5"/><circle cx="218.5" cy="69.6" r="2.5"/><circle cx="117.6" cy="163.8" r="2.5"/><circle cx="116.9" cy="170.4" r="2.5"/><circle cx="142.7" cy="147.4" r="2.5"/><circle cx="263.0" cy="48.7" r="2.5"/><circle cx="225.3" cy="90.1" r="2.5"/><circle cx="209.5" cy="92.0" r="2.5"/><circle cx="184.6" cy="134.8" r="2.5"/><circle cx="216.9" cy="89.4" r="2.5"/><circle cx="260.2" cy="66.8" r="2.5"/><circle cx="184.1" cy="138.2" r="2.5"/><circle cx="139.8" cy="152.8" r="2.5"/><circle cx="193.6" cy="123.1" r="2.5"/><circle cx="179.5" cy="122.2" r="2.5"/><circle cx="207.4" cy="98.1" r="2.5"/><circle cx="224.5" cy="88.9" r="2.5"/><circle cx="150.4" cy="156.5" r="2.5"/><circle cx="129.7" cy="172.1" r="2.5"/><circle cx="178.8" cy="113.1" r="2.5"/><circle cx="147.0" cy="141.1" r="2.5"/><circle cx="166.4" cy="130.5" r="2.5"/><circle cx="234.5" cy="95.3" r="2.5"/><circle cx="163.1" cy="134.3" r="2.5"/><circle cx="142.0" cy="140.7" r="2.5"/><circle cx="185.9" cy="99.8" r="2.5"/><circle cx="120.2" cy="170.7" r="2.5"/><circle cx="210.5" cy="87.0" r="2.5"/><circle cx="108.5" cy="184.4" r="2.5"/><circle cx="158.9" cy="128.5" r="2.5"/><circle cx="164.5" cy="134.8" r="2.5"/><circle cx="163.7" cy="112.8" r="2.5"/><circle cx="160.2" cy="128.4" r="2.5"/><circle cx="134.5" cy="160.9" r="2.5"/><circle cx="203.1" cy="109.0" r="2.5"/><circle cx="211.7" cy="130.9" r="2.5"/><circle cx="141.1" cy="156.1" r="2.5"/><circle cx="176.2" cy="106.1" r="2.5"/><circle cx="145.6" cy="154.5" r="2.5"/><circle cx="221.7" cy="119.2" r="2.5"/><circle cx="170.5" cy="128.4" r="2.5"/><circle cx="125.7" cy="157.6" r="2.5"/><circle cx="198.1" cy="87.2" r="2.5"/><circle cx="215.4" cy="97.1" r="2.5"/><circle cx="149.5" cy="136.6" r="2.5"/><circle cx="250.7" cy="69.2" r="2.5"/><circle cx="136.9" cy="150.5" r="2.5"/><circle cx="185.5" cy="136.9" r="2.5"/><circle cx="171.2" cy="114.7" r="2.5"/><circle cx="208.7" cy="92.1" r="2.5"/><circle cx="168.2" cy="122.8" r="2.5"/><circle cx="207.3" cy="105.0" r="2.5"/><circle cx="228.3" cy="85.9" r="2.5"/><circle cx="166.1" cy="118.9" r="2.5"/><circle cx="180.8" cy="120.4" r="2.5"/><circle cx="199.7" cy="106.2" r="2.5"/><circle cx="213.5" cy="85.4" r="2.5"/><circle cx="166.9" cy="111.0" r="2.5"/><circle cx="187.4" cy="156.5" r="2.5"/><circle cx="151.5" cy="148.8" r="2.5"/><circle cx="137.3" cy="149.4" r="2.5"/><circle cx="114.4" cy="173.8" r="2.5"/><circle cx="129.5" cy="130.5" r="2.5"/><circle cx="140.7" cy="143.3" r="2.5"/><circle cx="204.0" cy="103.3" r="2.5"/><circle cx="127.4" cy="136.5" r="2.5"/><circle cx="215.7" cy="95.2" r="2.5"/><circle cx="150.0" cy="148.7" r="2.5"/><circle cx="186.0" cy="91.6" r="2.5"/><circle cx="177.9" cy="101.4" r="2.5"/><circle cx="181.8" cy="109.5" r="2.5"/><circle cx="168.7" cy="138.6" r="2.5"/><circle cx="190.9" cy="118.4" r="2.5"/><circle cx="131.6" cy="150.3" r="2.5"/><circle cx="227.5" cy="81.2" r="2.5"/><circle cx="244.2" cy="65.1" r="2.5"/><circle cx="180.7" cy="147.1" r="2.5"/><circle cx="192.5" cy="104.0" r="2.5"/><circle cx="133.5" cy="150.6" r="2.5"/><circle cx="177.4" cy="141.0" r="2.5"/><circle cx="172.5" cy="95.1" r="2.5"/><circle cx="193.2" cy="102.8" r="2.5"/><circle cx="161.5" cy="133.4" r="2.5"/><circle cx="190.2" cy="102.1" r="2.5"/><circle cx="181.1" cy="133.8" r="2.5"/><circle cx="229.4" cy="96.9" r="2.5"/><circle cx="226.6" cy="102.3" r="2.5"/><circle cx="165.9" cy="133.3" r="2.5"/><circle cx="227.5" cy="89.2" r="2.5"/><circle cx="140.8" cy="155.3" r="2.5"/><circle cx="206.2" cy="87.1" r="2.5"/><circle cx="194.0" cy="101.5" r="2.5"/><circle cx="218.9" cy="87.6" r="2.5"/><circle cx="161.7" cy="146.2" r="2.5"/><circle cx="246.6" cy="70.7" r="2.5"/><circle cx="217.5" cy="90.5" r="2.5"/><circle cx="165.8" cy="130.7" r="2.5"/><circle cx="181.6" cy="112.1" r="2.5"/><circle cx="175.1" cy="137.9" r="2.5"/><circle cx="193.3" cy="79.9" r="2.5"/><circle cx="301.2" cy="22.6" r="2.5"/><circle cx="242.3" cy="60.2" r="2.5"/><circle cx="228.9" cy="87.1" r="2.5"/><circle cx="268.5" cy="57.6" r="2.5"/><circle cx="233.1" cy="79.3" r="2.5"/><circle cx="205.8" cy="98.1" r="2.5"/><circle cx="166.3" cy="115.7" r="2.5"/><circle cx="179.4" cy="143.0" r="2.5"/><circle cx="172.6" cy="129.2" r="2.5"/><circle cx="242.1" cy="68.7" r="2.5"/><circle cx="253.6" cy="71.9" r="2.5"/><circle cx="196.0" cy="88.4" r="2.5"/><circle cx="226.3" cy="82.6" r="2.5"/><circle cx="165.0" cy="137.1" r="2.5"/><circle cx="132.7" cy="150.7" r="2.5"/><circle cx="185.2" cy="111.3" r="2.5"/><circle cx="206.0" cy="126.7" r="2.5"/><circle cx="160.2" cy="131.5" r="2.5"/><circle cx="143.3" cy="144.9" r="2.5"/><circle cx="156.4" cy="118.7" r="2.5"/><circle cx="131.5" cy="168.1" r="2.5"/><circle cx="113.2" cy="170.9" r="2.5"/><circle cx="236.3" cy="87.0" r="2.5"/><circle cx="164.6" cy="104.9" r="2.5"/><circle cx="183.7" cy="116.2" r="2.5"/><circle cx="132.6" cy="165.0" r="2.5"/><circle cx="228.1" cy="92.8" r="2.5"/><circle cx="220.3" cy="98.3" r="2.5"/><circle cx="198.9" cy="149.4" r="2.5"/><circle cx="116.8" cy="164.4" r="2.5"/><circle cx="149.7" cy="130.5" r="2.5"/><circle cx="180.1" cy="114.3" r="2.5"/><circle cx="233.5" cy="96.2" r="2.5"/><circle cx="137.8" cy="151.4" r="2.5"/><circle cx="122.1" cy="154.2" r="2.5"/><circle cx="89.9" cy="182.5" r="2.5"/><circle cx="140.3" cy="151.7" r="2.5"/><circle cx="225.8" cy="95.8" r="2.5"/><circle cx="111.1" cy="198.5" r="2.5"/><circle cx="136.9" cy="134.6" r="2.5"/><circle cx="193.1" cy="94.6" r="2.5"/><circle cx="142.9" cy="141.6" r="2.5"/><circle cx="211.3" cy="94.7" r="2.5"/><circle cx="138.4" cy="138.9" r="2.5"/><circle cx="179.1" cy="122.2" r="2.5"/><circle cx="171.1" cy="117.6" r="2.5"/><circle cx="188.9" cy="120.5" r="2.5"/><circle cx="238.6" cy="94.2" r="2.5"/><circle cx="121.9" cy="153.3" r="2.5"/><circle cx="169.1" cy="116.9" r="2.5"/><circle cx="136.5" cy="130.1" r="2.5"/><circle cx="301.3" cy="17.1" r="2.5"/><circle cx="181.1" cy="126.1" r="2.5"/><circle cx="205.3" cy="124.4" r="2.5"/><circle cx="202.8" cy="116.4" r="2.5"/><circle cx="124.3" cy="157.1" r="2.5"/><circle cx="136.7" cy="121.3" r="2.5"/><circle cx="240.3" cy="71.5" r="2.5"/><circle cx="195.8" cy="98.4" r="2.5"/><circle cx="181.4" cy="97.7" r="2.5"/><circle cx="153.3" cy="153.0" r="2.5"/><circle cx="132.5" cy="175.3" r="2.5"/><circle cx="160.1" cy="135.4" r="2.5"/><circle cx="134.5" cy="144.6" r="2.5"/><circle cx="165.7" cy="128.5" r="2.5"/><circle cx="157.9" cy="147.4" r="2.5"/><circle cx="190.7" cy="116.9" r="2.5"/><circle cx="179.5" cy="142.0" r="2.5"/><circle cx="167.1" cy="140.8" r="2.5"/><circle cx="166.7" cy="136.1" r="2.5"/><circle cx="152.9" cy="144.2" r="2.5"/><circle cx="146.0" cy="146.2" r="2.5"/><circle cx="128.5" cy="167.3" r="2.5"/><circle cx="101.5" cy="181.4" r="2.5"/><circle cx="194.7" cy="98.3" r="2.5"/><circle cx="171.5" cy="126.1" r="2.5"/><circle cx="195.8" cy="119.9" r="2.5"/><circle cx="234.2" cy="82.4" r="2.5"/><circle cx="173.6" cy="108.6" r="2.5"/><circle cx="171.2" cy="120.7" r="2.5"/><circle cx="135.5" cy="143.7" r="2.5"/><circle cx="179.1" cy="148.0" r="2.5"/><circle cx="147.7" cy="138.4" r="2.5"/><circle cx="189.1" cy="103.2" r="2.5"/><circle cx="244.4" cy="98.6" r="2.5"/><circle cx="248.0" cy="82.9" r="2.5"/><circle cx="192.3" cy="109.3" r="2.5"/><circle cx="147.9" cy="139.1" r="2.5"/><circle cx="103.2" cy="195.6" r="2.5"/><circle cx="137.8" cy="154.0" r="2.5"/><circle cx="142.9" cy="148.5" r="2.5"/><circle cx="162.8" cy="101.1" r="2.5"/><circle cx="156.9" cy="145.8" r="2.5"/><circle cx="132.5" cy="164.5" r="2.5"/><circle cx="169.6" cy="134.8" r="2.5"/><circle cx="140.6" cy="137.1" r="2.5"/><circle cx="150.3" cy="131.8" r="2.5"/><circle cx="125.4" cy="167.0" r="2.5"/><circle cx="90.8" cy="198.6" r="2.5"/><circle cx="253.3" cy="56.2" r="2.5"/><circle cx="178.2" cy="129.1" r="2.5"/><circle cx="142.0" cy="141.0" r="2.5"/><circle cx="253.9" cy="77.1" r="2.5"/><circle cx="213.3" cy="110.8" r="2.5"/><circle cx="183.1" cy="156.1" r="2.5"/><circle cx="228.4" cy="79.0" r="2.5"/><circle cx="147.2" cy="146.9" r="2.5"/><circle cx="149.3" cy="171.2" r="2.5"/><circle cx="187.2" cy="102.1" r="2.5"/><circle cx="213.1" cy="119.6" r="2.5"/><circle cx="188.1" cy="130.1" r="2.5"/><circle cx="204.6" cy="89.3" r="2.5"/><circle cx="118.9" cy="147.6" r="2.5"/><circle cx="154.6" cy="126.5" r="2.5"/><circle cx="170.2" cy="122.6" r="2.5"/><circle cx="221.9" cy="92.1" r="2.5"/><circle cx="216.4" cy="89.2" r="2.5"/><circle cx="154.2" cy="134.1" r="2.5"/><circle cx="179.5" cy="92.6" r="2.5"/><circle cx="151.0" cy="140.1" r="2.5"/><circle cx="238.5" cy="93.6" r="2.5"/><circle cx="123.2" cy="169.8" r="2.5"/><circle cx="238.5" cy="75.2" r="2.5"/><circle cx="160.4" cy="133.1" r="2.5"/><circle cx="124.6" cy="163.8" r="2.5"/><circle cx="190.4" cy="100.2" r="2.5"/><circle cx="185.9" cy="119.0" r="2.5"/><circle cx="130.2" cy="170.0" r="2.5"/><circle cx="161.6" cy="145.0" r="2.5"/><circle cx="136.5" cy="143.3" r="2.5"/><circle cx="194.0" cy="100.9" r="2.5"/><circle cx="222.8" cy="88.7" r="2.5"/><circle cx="109.3" cy="170.7" r="2.5"/><circle cx="181.9" cy="122.3" r="2.5"/><circle cx="202.7" cy="147.0" r="2.5"/><circle cx="235.8" cy="94.3" r="2.5"/><circle cx="129.0" cy="169.9" r="2.5"/><circle cx="144.8" cy="141.4" r="2.5"/><circle cx="245.7" cy="61.0" r="2.5"/><circle cx="235.8" cy="70.7" r="2.5"/><circle cx="171.2" cy="141.4" r="2.5"/><circle cx="217.6" cy="129.4" r="2.5"/><circle cx="211.6" cy="94.3" r="2.5"/><circle cx="119.4" cy="173.1" r="2.5"/><circle cx="163.0" cy="127.9" r="2.5"/><circle cx="157.4" cy="156.6" r="2.5"/><circle cx="211.3" cy="137.3" r="2.5"/><circle cx="111.5" cy="173.2" r="2.5"/><circle cx="182.9" cy="104.0" r="2.5"/><circle cx="184.5" cy="115.3" r="2.5"/><circle cx="131.0" cy="164.8" r="2.5"/><circle cx="197.0" cy="112.6" r="2.5"/><circle cx="106.8" cy="176.4" r="2.5"/><circle cx="208.8" cy="106.1" r="2.5"/><circle cx="227.5" cy="90.2" r="2.5"/><circle cx="170.1" cy="140.9" r="2.5"/><circle cx="132.2" cy="158.9" r="2.5"/><circle cx="204.7" cy="111.5" r="2.5"/><circle cx="186.6" cy="115.6" r="2.5"/><circle cx="178.7" cy="119.9" r="2.5"/><circle cx="276.5" cy="53.8" r="2.5"/><circle cx="178.0" cy="154.5" r="2.5"/><circle cx="153.8" cy="165.6" r="2.5"/><circle cx="123.9" cy="154.0" r="2.5"/><circle cx="193.0" cy="111.3" r="2.5"/><circle cx="263.7" cy="44.8" r="2.5"/><circle cx="174.5" cy="121.8" r="2.5"/><circle cx="134.8" cy="164.7" r="2.5"/><circle cx="154.3" cy="136.8" r="2.5"/><circle cx="200.1" cy="107.5" r="2.5"/><circle cx="155.7" cy="123.6" r="2.5"/><circle cx="243.5" cy="79.9" r="2.5"/><circle cx="123.0" cy="165.8" r="2.5"/><circle cx="216.9" cy="90.9" r="2.5"/><circle cx="183.5" cy="124.9" r="2.5"/><circle cx="168.9" cy="120.7" r="2.5"/><circle cx="145.9" cy="120.7" r="2.5"/><circle cx="146.1" cy="154.2" r="2.5"/><circle cx="149.2" cy="152.2" r="2.5"/><circle cx="117.2" cy="162.3" r="2.5"/><circle cx="147.4" cy="114.0" r="2.5"/><circle cx="238.2" cy="73.4" r="2.5"/><circle cx="202.1" cy="94.8" r="2.5"/><circle cx="180.9" cy="116.6" r="2.5"/><circle cx="286.2" cy="33.1" r="2.5"/><circle cx="220.7" cy="92.4" r="2.5"/><circle cx="235.3" cy="69.4" r="2.5"/><circle cx="162.4" cy="174.9" r="2.5"/><circle cx="192.4" cy="109.7" r="2.5"/><circle cx="193.2" cy="109.2" r="2.5"/><circle cx="229.7" cy="84.8" r="2.5"/><circle cx="202.7" cy="104.0" r="2.5"/><circle cx="221.6" cy="98.5" r="2.5"/><circle cx="155.4" cy="151.0" r="2.5"/><circle cx="146.8" cy="146.7" r="2.5"/><circle cx="153.5" cy="139.4" r="2.5"/><circle cx="178.9" cy="126.1" r="2.5"/><circle cx="229.8" cy="85.0" r="2.5"/><circle cx="147.0" cy="164.4" r="2.5"/><circle cx="175.4" cy="127.2" r="2.5"/><circle cx="177.6" cy="119.4" r="2.5"/><circle cx="236.7" cy="73.3" r="2.5"/><circle cx="236.8" cy="86.1" r="2.5"/><circle cx="199.5" cy="98.8" r="2.5"/><circle cx="161.0" cy="121.2" r="2.5"/><circle cx="154.2" cy="142.4" r="2.5"/><circle cx="256.8" cy="58.2" r="2.5"/><circle cx="189.2" cy="96.3" r="2.5"/><circle cx="205.8" cy="102.0" r="2.5"/><circle cx="253.8" cy="86.6" r="2.5"/><circle cx="234.9" cy="78.4" r="2.5"/><circle cx="184.6" cy="77.4" r="2.5"/><circle cx="220.8" cy="82.2" r="2.5"/><circle cx="177.1" cy="107.9" r="2.5"/><circle cx="155.5" cy="133.5" r="2.5"/><circle cx="206.7" cy="99.0" r="2.5"/><circle cx="139.3" cy="173.3" r="2.5"/><circle cx="206.3" cy="114.4" r="2.5"/><circle cx="252.9" cy="82.3" r="2.5"/><circle cx="160.7" cy="133.4" r="2.5"/><circle cx="123.5" cy="177.4" r="2.5"/><circle cx="262.8" cy="47.0" r="2.5"/><circle cx="207.5" cy="118.1" r="2.5"/><circle cx="190.2" cy="112.3" r="2.5"/><circle cx="138.6" cy="177.5" r="2.5"/><circle cx="169.0" cy="135.9" r="2.5"/><circle cx="127.1" cy="141.7" r="2.5"/><circle cx="201.6" cy="102.6" r="2.5"/><circle cx="164.2" cy="133.8" r="2.5"/><circle cx="194.3" cy="127.5" r="2.5"/><circle cx="138.8" cy="138.2" r="2.5"/><circle cx="199.2" cy="89.9" r="2.5"/><circle cx="150.4" cy="152.7" r="2.5"/><circle cx="143.7" cy="140.2" r="2.5"/><circle cx="264.4" cy="56.8" r="2.5"/><circle cx="187.5" cy="116.5" r="2.5"/><circle cx="129.9" cy="163.3" r="2.5"/><circle cx="150.4" cy="135.0" r="2.5"/><circle cx="250.0" cy="73.8" r="2.5"/><circle cx="142.1" cy="151.3" r="2.5"/><circle cx="221.1" cy="93.4" r="2.5"/><circle cx="127.6" cy="177.9" r="2.5"/><circle cx="179.9" cy="121.1" r="2.5"/><circle cx="212.1" cy="96.8" r="2.5"/><circle cx="248.1" cy="59.8" r="2.5"/><circle cx="177.3" cy="126.5" r="2.5"/><circle cx="158.6" cy="142.5" r="2.5"/><circle cx="144.8" cy="144.0" r="2.5"/><circle cx="248.9" cy="64.5" r="2.5"/><circle cx="301.5" cy="29.1" r="2.5"/><circle cx="189.7" cy="107.4" r="2.5"/><circle cx="130.5" cy="133.4" r="2.5"/><circle cx="180.6" cy="115.4" r="2.5"/><circle cx="178.7" cy="159.6" r="2.5"/><circle cx="157.1" cy="144.0" r="2.5"/><circle cx="196.8" cy="93.3" r="2.5"/><circle cx="166.7" cy="121.3" r="2.5"/><circle cx="257.7" cy="54.7" r="2.5"/><circle cx="121.9" cy="169.3" r="2.5"/><circle cx="126.1" cy="175.9" r="2.5"/><circle cx="227.0" cy="85.9" r="2.5"/><circle cx="234.4" cy="83.6" r="2.5"/><circle cx="140.8" cy="150.8" r="2.5"/><circle cx="128.6" cy="193.1" r="2.5"/><circle cx="130.7" cy="172.3" r="2.5"/><circle cx="228.7" cy="100.3" r="2.5"/><circle cx="173.6" cy="116.7" r="2.5"/><circle cx="171.5" cy="123.2" r="2.5"/><circle cx="138.6" cy="149.9" r="2.5"/><circle cx="170.7" cy="120.2" r="2.5"/><circle cx="304.0" cy="23.0" r="2.5"/><circle cx="246.2" cy="62.4" r="2.5"/><circle cx="116.4" cy="184.2" r="2.5"/><circle cx="122.7" cy="173.5" r="2.5"/><circle cx="160.5" cy="128.9" r="2.5"/><circle cx="185.0" cy="113.2" r="2.5"/><circle cx="229.4" cy="49.7" r="2.5"/><circle cx="197.1" cy="128.6" r="2.5"/><circle cx="211.2" cy="104.6" r="2.5"/><circle cx="242.7" cy="61.3" r="2.5"/><circle cx="232.5" cy="54.3" r="2.5"/><circle cx="162.0" cy="153.3" r="2.5"/><circle cx="211.6" cy="101.1" r="2.5"/><circle cx="143.6" cy="136.7" r="2.5"/><circle cx="137.1" cy="154.6" r="2.5"/><circle cx="178.1" cy="128.0" r="2.5"/><circle cx="174.5" cy="116.4" r="2.5"/><circle cx="165.5" cy="127.1" r="2.5"/><circle cx="131.4" cy="160.5" r="2.5"/><circle cx="115.3" cy="189.8" r="2.5"/><circle cx="196.2" cy="93.6" r="2.5"/><circle cx="244.2" cy="61.9" r="2.5"/><circle cx="202.1" cy="96.3" r="2.5"/><circle cx="142.4" cy="130.0" r="2.5"/><circle cx="144.8" cy="132.4" r="2.5"/><circle cx="134.7" cy="142.6" r="2.5"/><circle cx="177.1" cy="108.7" r="2.5"/><circle cx="148.0" cy="121.7" r="2.5"/><circle cx="112.1" cy="177.9" r="2.5"/><circle cx="175.4" cy="120.1" r="2.5"/><circle cx="265.0" cy="64.1" r="2.5"/><circle cx="166.6" cy="124.1" r="2.5"/><circle cx="214.1" cy="105.8" r="2.5"/><circle cx="203.4" cy="102.3" r="2.5"/><circle cx="249.5" cy="77.6" r="2.5"/><circle cx="147.5" cy="149.5" r="2.5"/><circle cx="149.7" cy="145.0" r="2.5"/><circle cx="175.1" cy="99.5" r="2.5"/><circle cx="211.7" cy="113.5" r="2.5"/><circle cx="236.8" cy="79.9" r="2.5"/><circle cx="182.6" cy="110.5" r="2.5"/><circle cx="117.7" cy="178.0" r="2.5"/><circle cx="210.8" cy="105.9" r="2.5"/><circle cx="122.2" cy="177.6" r="2.5"/><circle cx="206.1" cy="108.3" r="2.5"/><circle cx="197.8" cy="122.1" r="2.5"/><circle cx="159.2" cy="156.4" r="2.5"/><circle cx="162.5" cy="135.1" r="2.5"/><circle cx="200.1" cy="112.6" r="2.5"/><circle cx="239.2" cy="80.3" r="2.5"/><circle cx="177.3" cy="91.9" r="2.5"/><circle cx="199.5" cy="121.7" r="2.5"/><circle cx="232.3" cy="67.7" r="2.5"/><circle cx="181.1" cy="106.9" r="2.5"/><circle cx="175.3" cy="144.4" r="2.5"/><circle cx="174.0" cy="132.3" r="2.5"/><circle cx="125.5" cy="162.8" r="2.5"/><circle cx="178.4" cy="122.0" r="2.5"/><circle cx="172.3" cy="132.4" r="2.5"/><circle cx="127.8" cy="153.8" r="2.5"/><circle cx="211.0" cy="109.3" r="2.5"/><circle cx="258.0" cy="59.1" r="2.5"/><circle cx="213.9" cy="116.2" r="2.5"/><circle cx="178.3" cy="124.5" r="2.5"/><circle cx="176.9" cy="119.6" r="2.5"/><circle cx="115.8" cy="180.2" r="2.5"/><circle cx="169.6" cy="123.2" r="2.5"/><circle cx="194.2" cy="100.5" r="2.5"/><circle cx="205.3" cy="99.9" r="2.5"/><circle cx="137.0" cy="146.8" r="2.5"/><circle cx="172.6" cy="130.6" r="2.5"/><circle cx="213.7" cy="92.9" r="2.5"/><circle cx="138.6" cy="169.7" r="2.5"/><circle cx="181.3" cy="124.9" r="2.5"/><circle cx="118.5" cy="156.7" r="2.5"/><circle cx="144.6" cy="141.1" r="2.5"/><circle cx="197.0" cy="116.4" r="2.5"/><circle cx="112.8" cy="178.0" r="2.5"/><circle cx="158.9" cy="146.7" r="2.5"/><circle cx="182.1" cy="137.7" r="2.5"/><circle cx="156.3" cy="136.7" r="2.5"/><circle cx="174.1" cy="110.9" r="2.5"/><circle cx="173.6" cy="119.7" r="2.5"/><circle cx="181.5" cy="113.3" r="2.5"/><circle cx="236.6" cy="77.4" r="2.5"/><circle cx="115.9" cy="162.2" r="2.5"/><circle cx="199.4" cy="103.2" r="2.5"/><circle cx="190.7" cy="99.8" r="2.5"/><circle cx="142.9" cy="161.5" r="2.5"/><circle cx="136.6" cy="149.6" r="2.5"/><circle cx="189.0" cy="123.7" r="2.5"/><circle cx="199.1" cy="108.1" r="2.5"/><circle cx="137.6" cy="121.1" r="2.5"/><circle cx="114.6" cy="175.0" r="2.5"/><circle cx="217.3" cy="134.6" r="2.5"/><circle cx="123.7" cy="157.0" r="2.5"/><circle cx="188.2" cy="120.6" r="2.5"/><circle cx="231.1" cy="90.9" r="2.5"/><circle cx="153.8" cy="132.4" r="2.5"/><circle cx="220.1" cy="92.3" r="2.5"/><circle cx="228.9" cy="102.0" r="2.5"/><circle cx="201.2" cy="106.3" r="2.5"/><circle cx="176.0" cy="128.1" r="2.5"/><circle cx="207.3" cy="84.5" r="2.5"/><circle cx="216.0" cy="90.1" r="2.5"/><circle cx="172.3" cy="135.3" r="2.5"/><circle cx="190.9" cy="76.2" r="2.5"/><circle cx="134.3" cy="174.4" r="2.5"/><circle cx="162.1" cy="151.7" r="2.5"/><circle cx="257.2" cy="60.0" r="2.5"/><circle cx="206.9" cy="109.2" r="2.5"/><circle cx="178.3" cy="128.5" r="2.5"/><circle cx="198.4" cy="126.2" r="2.5"/><circle cx="243.5" cy="99.6" r="2.5"/><circle cx="159.9" cy="129.2" r="2.5"/><circle cx="182.4" cy="113.0" r="2.5"/><circle cx="193.3" cy="99.2" r="2.5"/><circle cx="232.7" cy="81.1" r="2.5"/><circle cx="213.6" cy="89.9" r="2.5"/><circle cx="143.0" cy="149.0" r="2.5"/><circle cx="158.5" cy="154.7" r="2.5"/><circle cx="264.0" cy="61.9" r="2.5"/><circle cx="210.0" cy="111.8" r="2.5"/><circle cx="198.2" cy="88.7" r="2.5"/><circle cx="123.6" cy="147.6" r="2.5"/><circle cx="162.6" cy="109.1" r="2.5"/><circle cx="187.5" cy="100.8" r="2.5"/><circle cx="203.2" cy="106.5" r="2.5"/><circle cx="148.5" cy="146.6" r="2.5"/><circle cx="135.7" cy="158.4" r="2.5"/><circle cx="180.2" cy="127.9" r="2.5"/><circle cx="175.2" cy="106.7" r="2.5"/><circle cx="203.7" cy="112.7" r="2.5"/><circle cx="194.3" cy="134.2" r="2.5"/><circle cx="150.2" cy="145.9" r="2.5"/><circle cx="125.5" cy="154.7" r="2.5"/><circle cx="169.9" cy="128.2" r="2.5"/><circle cx="225.4" cy="77.4" r="2.5"/><circle cx="136.4" cy="156.0" r="2.5"/><circle cx="127.0" cy="162.6" r="2.5"/><circle cx="212.1" cy="101.4" r="2.5"/><circle cx="127.8" cy="168.4" r="2.5"/><circle cx="177.0" cy="105.3" r="2.5"/><circle cx="225.3" cy="70.8" r="2.5"/><circle cx="209.7" cy="91.6" r="2.5"/><circle cx="185.1" cy="105.3" r="2.5"/><circle cx="215.3" cy="96.7" r="2.5"/><circle cx="173.1" cy="131.8" r="2.5"/><circle cx="169.0" cy="127.0" r="2.5"/><circle cx="154.8" cy="140.0" r="2.5"/><circle cx="126.1" cy="165.3" r="2.5"/><circle cx="130.3" cy="160.9" r="2.5"/><circle cx="139.6" cy="144.6" r="2.5"/><circle cx="138.9" cy="153.4" r="2.5"/><circle cx="172.2" cy="129.3" r="2.5"/><circle cx="245.1" cy="58.7" r="2.5"/><circle cx="122.8" cy="158.0" r="2.5"/><circle cx="187.4" cy="125.4" r="2.5"/><circle cx="193.7" cy="129.0" r="2.5"/><circle cx="198.5" cy="95.3" r="2.5"/><circle cx="144.2" cy="156.0" r="2.5"/><circle cx="239.3" cy="81.1" r="2.5"/><circle cx="225.2" cy="91.0" r="2.5"/><circle cx="209.0" cy="99.9" r="2.5"/><circle cx="193.5" cy="98.9" r="2.5"/><circle cx="214.3" cy="74.2" r="2.5"/><circle cx="224.4" cy="101.6" r="2.5"/><circle cx="202.1" cy="106.3" r="2.5"/><circle cx="166.8" cy="114.5" r="2.5"/><circle cx="167.3" cy="155.1" r="2.5"/><circle cx="215.8" cy="89.9" r="2.5"/><circle cx="148.2" cy="149.3" r="2.5"/><circle cx="174.9" cy="122.5" r="2.5"/><circle cx="180.9" cy="125.3" r="2.5"/><circle cx="199.5" cy="88.8" r="2.5"/><circle cx="136.0" cy="166.4" r="2.5"/><circle cx="146.1" cy="154.7" r="2.5"/><circle cx="178.0" cy="110.7" r="2.5"/><circle cx="189.4" cy="127.6" r="2.5"/><circle cx="127.1" cy="155.5" r="2.5"/><circle cx="133.2" cy="143.4" r="2.5"/><circle cx="252.4" cy="71.3" r="2.5"/><circle cx="129.2" cy="150.2" r="2.5"/><circle cx="212.3" cy="116.0" r="2.5"/><circle cx="219.9" cy="96.3" r="2.5"/><circle cx="202.6" cy="106.9" r="2.5"/><circle cx="200.0" cy="122.1" r="2.5"/><circle cx="249.3" cy="77.6" r="2.5"/><circle cx="179.1" cy="124.2" r="2.5"/><circle cx="181.5" cy="117.1" r="2.5"/><circle cx="147.3" cy="150.2" r="2.5"/><circle cx="251.9" cy="62.1" r="2.5"/><circle cx="118.4" cy="163.2" r="2.5"/><circle cx="188.6" cy="110.7" r="2.5"/><circle cx="238.1" cy="77.4" r="2.5"/><circle cx="136.4" cy="144.2" r="2.5"/><circle cx="202.6" cy="118.2" r="2.5"/><circle cx="219.0" cy="90.7" r="2.5"/><circle cx="118.3" cy="169.7" r="2.5"/><circle cx="153.9" cy="137.9" r="2.5"/><circle cx="162.6" cy="165.5" r="2.5"/><circle cx="193.1" cy="157.1" r="2.5"/><circle cx="191.5" cy="93.0" r="2.5"/><circle cx="167.1" cy="144.6" r="2.5"/><circle cx="198.1" cy="103.0" r="2.5"/><circle cx="227.0" cy="107.1" r="2.5"/><circle cx="123.0" cy="171.3" r="2.5"/><circle cx="199.3" cy="91.7" r="2.5"/><circle cx="204.8" cy="90.1" r="2.5"/><circle cx="277.3" cy="40.2" r="2.5"/><circle cx="223.7" cy="97.4" r="2.5"/><circle cx="139.7" cy="152.9" r="2.5"/><circle cx="171.4" cy="120.0" r="2.5"/><circle cx="140.0" cy="134.3" r="2.5"/><circle cx="177.5" cy="118.5" r="2.5"/><circle cx="127.3" cy="147.9" r="2.5"/><circle cx="153.6" cy="148.0" r="2.5"/><circle cx="186.1" cy="122.8" r="2.5"/><circle cx="150.9" cy="131.8" r="2.5"/><circle cx="172.4" cy="139.5" r="2.5"/><circle cx="130.2" cy="162.0" r="2.5"/><circle cx="133.6" cy="161.8" r="2.5"/><circle cx="225.2" cy="102.5" r="2.5"/><circle cx="187.6" cy="122.6" r="2.5"/><circle cx="160.9" cy="139.0" r="2.5"/><circle cx="160.4" cy="143.8" r="2.5"/><circle cx="143.3" cy="145.9" r="2.5"/><circle cx="173.2" cy="111.5" r="2.5"/><circle cx="231.2" cy="79.6" r="2.5"/><circle cx="153.0" cy="124.9" r="2.5"/><circle cx="168.9" cy="125.0" r="2.5"/><circle cx="147.7" cy="129.1" r="2.5"/><circle cx="221.6" cy="79.7" r="2.5"/><circle cx="152.9" cy="154.5" r="2.5"/><circle cx="194.0" cy="97.2" r="2.5"/><circle cx="136.5" cy="151.3" r="2.5"/><circle cx="170.3" cy="104.5" r="2.5"/><circle cx="252.4" cy="70.6" r="2.5"/><circle cx="210.0" cy="95.5" r="2.5"/><circle cx="176.9" cy="130.4" r="2.5"/><circle cx="197.1" cy="109.5" r="2.5"/><circle cx="258.3" cy="66.1" r="2.5"/><circle cx="181.8" cy="113.7" r="2.5"/><circle cx="210.7" cy="86.3" r="2.5"/><circle cx="165.7" cy="150.4" r="2.5"/><circle cx="136.4" cy="154.4" r="2.5"/><circle cx="188.2" cy="122.4" r="2.5"/><circle cx="230.5" cy="93.8" r="2.5"/><circle cx="260.9" cy="60.2" r="2.5"/><circle cx="126.9" cy="158.2" r="2.5"/><circle cx="132.9" cy="171.5" r="2.5"/><circle cx="224.6" cy="90.0" r="2.5"/><circle cx="194.5" cy="112.2" r="2.5"/><circle cx="157.6" cy="129.0" r="2.5"/><circle cx="130.3" cy="149.3" r="2.5"/><circle cx="264.9" cy="59.0" r="2.5"/><circle cx="168.1" cy="143.4" r="2.5"/><circle cx="251.6" cy="58.0" r="2.5"/><circle cx="235.9" cy="79.0" r="2.5"/><circle cx="146.1" cy="162.1" r="2.5"/><circle cx="213.6" cy="102.5" r="2.5"/><circle cx="174.8" cy="119.8" r="2.5"/><circle cx="170.4" cy="120.0" r="2.5"/><circle cx="120.3" cy="170.6" r="2.5"/><circle cx="153.4" cy="119.6" r="2.5"/><circle cx="139.0" cy="138.9" r="2.5"/><circle cx="194.9" cy="108.0" r="2.5"/><circle cx="149.6" cy="141.1" r="2.5"/><circle cx="170.3" cy="120.4" r="2.5"/><circle cx="171.9" cy="109.6" r="2.5"/><circle cx="249.2" cy="66.3" r="2.5"/><circle cx="245.7" cy="70.8" r="2.5"/><circle cx="198.7" cy="104.6" r="2.5"/><circle cx="239.5" cy="69.9" r="2.5"/><circle cx="203.8" cy="89.5" r="2.5"/><circle cx="114.8" cy="171.3" r="2.5"/><circle cx="177.2" cy="141.0" r="2.5"/><circle cx="172.5" cy="141.7" r="2.5"/><circle cx="144.3" cy="133.4" r="2.5"/><circle cx="222.8" cy="83.6" r="2.5"/><circle cx="121.1" cy="183.8" r="2.5"/><circle cx="119.5" cy="165.5" r="2.5"/><circle cx="123.7" cy="169.0" r="2.5"/><circle cx="186.5" cy="113.7" r="2.5"/><circle cx="154.2" cy="157.1" r="2.5"/><circle cx="128.7" cy="168.3" r="2.5"/><circle cx="173.3" cy="122.1" r="2.5"/><circle cx="194.5" cy="109.9" r="2.5"/><circle cx="209.3" cy="81.8" r="2.5"/><circle cx="202.1" cy="108.2" r="2.5"/><circle cx="230.7" cy="62.6" r="2.5"/><circle cx="192.8" cy="95.8" r="2.5"/><circle cx="245.9" cy="49.7" r="2.5"/><circle cx="176.4" cy="118.3" r="2.5"/><circle cx="232.5" cy="74.6" r="2.5"/><circle cx="193.6" cy="114.2" r="2.5"/><circle cx="239.7" cy="84.1" r="2.5"/><circle cx="154.9" cy="120.8" r="2.5"/><circle cx="113.5" cy="176.3" r="2.5"/><circle cx="198.1" cy="91.1" r="2.5"/><circle cx="176.0" cy="127.6" r="2.5"/><circle cx="238.5" cy="67.8" r="2.5"/><circle cx="265.6" cy="53.4" r="2.5"/><circle cx="152.0" cy="143.8" r="2.5"/><circle cx="111.5" cy="173.8" r="2.5"/><circle cx="219.3" cy="78.8" r="2.5"/><circle cx="140.4" cy="164.8" r="2.5"/><circle cx="185.4" cy="127.9" r="2.5"/><circle cx="189.6" cy="109.9" r="2.5"/><circle cx="149.9" cy="159.3" r="2.5"/><circle cx="227.7" cy="75.3" r="2.5"/><circle cx="253.7" cy="69.7" r="2.5"/><circle cx="151.4" cy="139.8" r="2.5"/><circle cx="158.1" cy="115.0" r="2.5"/><circle cx="169.9" cy="122.8" r="2.5"/><circle cx="207.3" cy="92.9" r="2.5"/><circle cx="204.2" cy="110.1" r="2.5"/><circle cx="140.0" cy="134.1" r="2.5"/><circle cx="241.7" cy="75.5" r="2.5"/><circle cx="199.5" cy="105.1" r="2.5"/><circle cx="205.0" cy="103.4" r="2.5"/><circle cx="129.6" cy="166.4" r="2.5"/><circle cx="199.9" cy="104.9" r="2.5"/><circle cx="172.9" cy="120.1" r="2.5"/><circle cx="140.1" cy="157.2" r="2.5"/><circle cx="151.8" cy="149.8" r="2.5"/><circle cx="150.8" cy="139.9" r="2.5"/><circle cx="190.6" cy="115.0" r="2.5"/><circle cx="212.2" cy="95.2" r="2.5"/><circle cx="216.9" cy="93.8" r="2.5"/><circle cx="222.5" cy="102.6" r="2.5"/><circle cx="214.7" cy="109.0" r="2.5"/><circle cx="238.6" cy="72.7" r="2.5"/><circle cx="145.7" cy="144.2" r="2.5"/><circle cx="170.7" cy="143.7" r="2.5"/><circle cx="216.4" cy="84.8" r="2.5"/><circle cx="200.3" cy="105.0" r="2.5"/><circle cx="204.2" cy="92.4" r="2.5"/><circle cx="140.6" cy="155.4" r="2.5"/><circle cx="139.7" cy="152.1" r="2.5"/><circle cx="119.4" cy="176.7" r="2.5"/><circle cx="143.7" cy="167.3" r="2.5"/><circle cx="191.4" cy="88.9" r="2.5"/><circle cx="165.1" cy="126.6" r="2.5"/><circle cx="223.2" cy="85.0" r="2.5"/><circle cx="204.9" cy="97.5" r="2.5"/><circle cx="235.0" cy="81.0" r="2.5"/><circle cx="171.6" cy="107.4" r="2.5"/><circle cx="142.6" cy="150.2" r="2.5"/><circle cx="245.1" cy="64.0" r="2.5"/><circle cx="280.1" cy="39.1" r="2.5"/><circle cx="166.9" cy="110.6" r="2.5"/><circle cx="237.4" cy="92.5" r="2.5"/><circle cx="167.9" cy="119.6" r="2.5"/><circle cx="143.0" cy="138.8" r="2.5"/><circle cx="203.5" cy="91.9" r="2.5"/><circle cx="131.4" cy="137.8" r="2.5"/><circle cx="198.2" cy="95.5" r="2.5"/><circle cx="134.4" cy="157.9" r="2.5"/><circle cx="230.3" cy="121.4" r="2.5"/><circle cx="169.3" cy="130.7" r="2.5"/><circle cx="224.1" cy="103.8" r="2.5"/><circle cx="204.1" cy="115.7" r="2.5"/><circle cx="166.9" cy="137.1" r="2.5"/><circle cx="180.3" cy="128.4" r="2.5"/><circle cx="169.2" cy="131.2" r="2.5"/><circle cx="162.6" cy="129.2" r="2.5"/><circle cx="225.6" cy="104.9" r="2.5"/><circle cx="178.6" cy="125.8" r="2.5"/><circle cx="211.8" cy="92.5" r="2.5"/><circle cx="227.7" cy="79.7" r="2.5"/><circle cx="144.1" cy="139.6" r="2.5"/><circle cx="195.1" cy="99.5" r="2.5"/><circle cx="198.7" cy="104.8" r="2.5"/><circle cx="144.0" cy="149.1" r="2.5"/><circle cx="190.3" cy="154.6" r="2.5"/><circle cx="190.6" cy="74.2" r="2.5"/><circle cx="199.9" cy="78.7" r="2.5"/><circle cx="130.4" cy="157.3" r="2.5"/><circle cx="207.2" cy="93.0" r="2.5"/><circle cx="296.0" cy="35.6" r="2.5"/><circle cx="174.1" cy="124.5" r="2.5"/><circle cx="171.9" cy="107.2" r="2.5"/><circle cx="219.2" cy="88.3" r="2.5"/><circle cx="222.6" cy="74.7" r="2.5"/><circle cx="145.0" cy="152.2" r="2.5"/><circle cx="248.0" cy="60.5" r="2.5"/><circle cx="180.0" cy="120.7" r="2.5"/><circle cx="117.0" cy="163.4" r="2.5"/><circle cx="231.2" cy="75.4" r="2.5"/><circle cx="168.3" cy="99.8" r="2.5"/><circle cx="116.4" cy="175.3" r="2.5"/><circle cx="247.0" cy="80.8" r="2.5"/><circle cx="143.4" cy="144.7" r="2.5"/><circle cx="192.1" cy="121.4" r="2.5"/><circle cx="178.1" cy="130.9" r="2.5"/><circle cx="193.4" cy="110.5" r="2.5"/><circle cx="190.1" cy="71.7" r="2.5"/><circle cx="156.0" cy="158.0" r="2.5"/><circle cx="110.6" cy="168.5" r="2.5"/><circle cx="263.5" cy="58.0" r="2.5"/><circle cx="233.5" cy="86.7" r="2.5"/><circle cx="227.1" cy="103.9" r="2.5"/><circle cx="139.7" cy="166.7" r="2.5"/><circle cx="240.4" cy="75.4" r="2.5"/><circle cx="182.9" cy="118.5" r="2.5"/><circle cx="140.1" cy="168.4" r="2.5"/><circle cx="206.5" cy="93.3" r="2.5"/><circle cx="136.5" cy="152.8" r="2.5"/><circle cx="265.1" cy="62.8" r="2.5"/><circle cx="164.2" cy="144.0" r="2.5"/><circle cx="197.0" cy="105.2" r="2.5"/><circle cx="143.7" cy="148.4" r="2.5"/><circle cx="146.7" cy="147.8" r="2.5"/><circle cx="169.8" cy="124.3" r="2.5"/><circle cx="110.0" cy="188.2" r="2.5"/><circle cx="230.4" cy="46.7" r="2.5"/><circle cx="202.5" cy="92.2" r="2.5"/><circle cx="228.7" cy="82.9" r="2.5"/><circle cx="239.0" cy="79.9" r="2.5"/><circle cx="173.0" cy="128.7" r="2.5"/><circle cx="195.2" cy="125.6" r="2.5"/><circle cx="152.7" cy="140.3" r="2.5"/><circle cx="171.5" cy="120.2" r="2.5"/><circle cx="163.1" cy="136.9" r="2.5"/><circle cx="141.7" cy="140.6" r="2.5"/><circle cx="191.0" cy="101.2" r="2.5"/><circle cx="148.1" cy="154.9" r="2.5"/><circle cx="246.1" cy="83.2" r="2.5"/><circle cx="213.9" cy="88.0" r="2.5"/><circle cx="164.8" cy="130.2" r="2.5"/><circle cx="183.3" cy="130.1" r="2.5"/><circle cx="127.2" cy="157.3" r="2.5"/><circle cx="206.1" cy="108.3" r="2.5"/><circle cx="131.3" cy="164.9" r="2.5"/><circle cx="201.7" cy="103.0" r="2.5"/><circle cx="156.0" cy="143.0" r="2.5"/><circle cx="132.5" cy="151.3" r="2.5"/><circle cx="202.8" cy="114.9" r="2.5"/><circle cx="154.5" cy="141.1" r="2.5"/><circle cx="152.1" cy="120.7" r="2.5"/><circle cx="174.5" cy="124.4" r="2.5"/><circle cx="190.0" cy="112.1" r="2.5"/><circle cx="254.9" cy="64.2" r="2.5"/><circle cx="126.5" cy="167.4" r="2.5"/><circle cx="212.0" cy="105.7" r="2.5"/><circle cx="122.2" cy="165.4" r="2.5"/><circle cx="188.5" cy="116.1" r="2.5"/><circle cx="202.6" cy="68.0" r="2.5"/><circle cx="164.0" cy="118.9" r="2.5"/><circle cx="160.0" cy="151.0" r="2.5"/><circle cx="220.8" cy="104.6" r="2.5"/><circle cx="115.8" cy="170.7" r="2.5"/><circle cx="207.6" cy="92.8" r="2.5"/><circle cx="142.8" cy="132.0" r="2.5"/><circle cx="127.1" cy="173.2" r="2.5"/><circle cx="184.6" cy="114.0" r="2.5"/><circle cx="136.7" cy="137.8" r="2.5"/><circle cx="169.4" cy="137.3" r="2.5"/><circle cx="151.7" cy="147.8" r="2.5"/><circle cx="210.5" cy="74.8" r="2.5"/><circle cx="162.6" cy="152.4" r="2.5"/><circle cx="242.6" cy="68.5" r="2.5"/><circle cx="128.1" cy="155.4" r="2.5"/><circle cx="150.2" cy="145.8" r="2.5"/><circle cx="250.3" cy="64.8" r="2.5"/><circle cx="203.8" cy="117.7" r="2.5"/><circle cx="175.2" cy="142.6" r="2.5"/><circle cx="148.4" cy="139.9" r="2.5"/><circle cx="128.9" cy="149.0" r="2.5"/><circle cx="163.4" cy="131.7" r="2.5"/><circle cx="141.4" cy="131.5" r="2.5"/><circle cx="236.1" cy="95.6" r="2.5"/><circle cx="128.1" cy="162.6" r="2.5"/><circle cx="143.5" cy="161.7" r="2.5"/><circle cx="174.9" cy="143.9" r="2.5"/><circle cx="175.2" cy="142.8" r="2.5"/><circle cx="201.0" cy="112.6" r="2.5"/><circle cx="234.5" cy="76.6" r="2.5"/><circle cx="142.3" cy="143.9" r="2.5"/><circle cx="180.3" cy="115.1" r="2.5"/><circle cx="111.0" cy="188.5" r="2.5"/><circle cx="274.6" cy="53.6" r="2.5"/><circle cx="146.9" cy="149.5" r="2.5"/><circle cx="173.4" cy="117.7" r="2.5"/><circle cx="196.3" cy="107.6" r="2.5"/><circle cx="133.3" cy="159.3" r="2.5"/><circle cx="238.5" cy="74.0" r="2.5"/><circle cx="219.3" cy="90.2" r="2.5"/><circle cx="141.9" cy="153.4" r="2.5"/><circle cx="199.6" cy="98.1" r="2.5"/><circle cx="140.5" cy="163.8" r="2.5"/><circle cx="180.9" cy="127.0" r="2.5"/><circle cx="139.0" cy="149.8" r="2.5"/><circle cx="214.2" cy="99.9" r="2.5"/><circle cx="147.6" cy="142.4" r="2.5"/><circle cx="159.5" cy="163.1" r="2.5"/><circle cx="178.1" cy="119.1" r="2.5"/><circle cx="139.1" cy="155.0" r="2.5"/><circle cx="189.2" cy="95.9" r="2.5"/><circle cx="200.0" cy="83.7" r="2.5"/><circle cx="136.7" cy="162.9" r="2.5"/><circle cx="161.1" cy="123.5" r="2.5"/><circle cx="194.4" cy="111.5" r="2.5"/><circle cx="191.3" cy="86.4" r="2.5"/><circle cx="126.2" cy="161.1" r="2.5"/><circle cx="151.6" cy="159.9" r="2.5"/><circle cx="214.8" cy="106.1" r="2.5"/><circle cx="197.3" cy="109.2" r="2.5"/><circle cx="141.9" cy="145.8" r="2.5"/><circle cx="155.0" cy="144.8" r="2.5"/><circle cx="141.9" cy="142.2" r="2.5"/><circle cx="194.3" cy="88.6" r="2.5"/><circle cx="261.8" cy="69.1" r="2.5"/><circle cx="154.6" cy="122.0" r="2.5"/><circle cx="134.2" cy="148.9" r="2.5"/><circle cx="208.7" cy="77.8" r="2.5"/><circle cx="155.8" cy="138.1" r="2.5"/><circle cx="229.6" cy="75.8" r="2.5"/><circle cx="128.3" cy="174.3" r="2.5"/><circle cx="142.2" cy="156.4" r="2.5"/><circle cx="148.6" cy="157.5" r="2.5"/><circle cx="187.1" cy="123.2" r="2.5"/><circle cx="150.5" cy="140.2" r="2.5"/><circle cx="151.8" cy="141.0" r="2.5"/><circle cx="111.0" cy="169.0" r="2.5"/><circle cx="224.1" cy="95.1" r="2.5"/><circle cx="158.9" cy="129.4" r="2.5"/><circle cx="195.3" cy="119.0" r="2.5"/><circle cx="213.8" cy="98.3" r="2.5"/><circle cx="184.9" cy="109.1" r="2.5"/><circle cx="149.3" cy="140.9" r="2.5"/><circle cx="134.5" cy="165.7" r="2.5"/><circle cx="216.5" cy="98.0" r="2.5"/><circle cx="180.0" cy="145.5" r="2.5"/><circle cx="191.6" cy="107.8" r="2.5"/><circle cx="267.4" cy="57.2" r="2.5"/><circle cx="163.5" cy="122.9" r="2.5"/><circle cx="226.0" cy="78.7" r="2.5"/><circle cx="174.7" cy="137.8" r="2.5"/><circle cx="228.8" cy="78.4" r="2.5"/><circle cx="162.0" cy="132.4" r="2.5"/><circle cx="134.6" cy="136.1" r="2.5"/><circle cx="246.9" cy="66.6" r="2.5"/><circle cx="149.6" cy="134.3" r="2.5"/><circle cx="230.4" cy="85.1" r="2.5"/><circle cx="238.6" cy="78.4" r="2.5"/><circle cx="160.7" cy="139.5" r="2.5"/><circle cx="112.3" cy="173.3" r="2.5"/><circle cx="152.8" cy="138.1" r="2.5"/><circle cx="143.1" cy="153.5" r="2.5"/><circle cx="171.6" cy="126.9" r="2.5"/><circle cx="223.4" cy="81.3" r="2.5"/><circle cx="165.1" cy="139.9" r="2.5"/><circle cx="179.8" cy="130.8" r="2.5"/><circle cx="151.3" cy="156.9" r="2.5"/><circle cx="171.9" cy="121.5" r="2.5"/><circle cx="145.1" cy="158.5" r="2.5"/><circle cx="149.1" cy="144.7" r="2.5"/><circle cx="134.3" cy="165.8" r="2.5"/><circle cx="157.7" cy="146.6" r="2.5"/><circle cx="161.5" cy="152.3" r="2.5"/><circle cx="148.7" cy="139.1" r="2.5"/><circle cx="200.3" cy="118.2" r="2.5"/><circle cx="159.2" cy="143.7" r="2.5"/><circle cx="181.9" cy="124.6" r="2.5"/><circle cx="179.5" cy="137.9" r="2.5"/><circle cx="221.6" cy="96.0" r="2.5"/><circle cx="292.0" cy="31.4" r="2.5"/><circle cx="188.5" cy="131.8" r="2.5"/><circle cx="238.9" cy="89.2" r="2.5"/><circle cx="167.6" cy="133.7" r="2.5"/><circle cx="151.7" cy="136.1" r="2.5"/><circle cx="182.5" cy="139.3" r="2.5"/><circle cx="150.3" cy="140.0" r="2.5"/><circle cx="201.6" cy="105.1" r="2.5"/><circle cx="207.2" cy="103.8" r="2.5"/><circle cx="247.4" cy="44.7" r="2.5"/><circle cx="214.3" cy="107.9" r="2.5"/><circle cx="163.8" cy="146.5" r="2.5"/><circle cx="166.2" cy="119.6" r="2.5"/><circle cx="242.0" cy="69.8" r="2.5"/><circle cx="135.4" cy="172.1" r="2.5"/><circle cx="148.8" cy="151.2" r="2.5"/><circle cx="188.8" cy="118.3" r="2.5"/><circle cx="182.6" cy="123.5" r="2.5"/><circle cx="166.6" cy="137.6" r="2.5"/><circle cx="213.7" cy="96.9" r="2.5"/><circle cx="178.2" cy="133.9" r="2.5"/><circle cx="201.5" cy="94.0" r="2.5"/><circle cx="238.1" cy="67.9" r="2.5"/><circle cx="198.0" cy="100.8" r="2.5"/><circle cx="170.9" cy="132.8" r="2.5"/><circle cx="163.0" cy="112.7" r="2.5"/><circle cx="208.3" cy="120.4" r="2.5"/><circle cx="144.0" cy="149.8" r="2.5"/><circle cx="194.1" cy="127.3" r="2.5"/><circle cx="162.9" cy="135.1" r="2.5"/><circle cx="154.2" cy="138.3" r="2.5"/><circle cx="137.3" cy="146.9" r="2.5"/><circle cx="140.3" cy="187.1" r="2.5"/><circle cx="137.0" cy="149.9" r="2.5"/><circle cx="139.9" cy="141.6" r="2.5"/><circle cx="201.4" cy="104.1" r="2.5"/><circle cx="229.6" cy="83.7" r="2.5"/><circle cx="253.2" cy="45.9" r="2.5"/><circle cx="151.4" cy="134.3" r="2.5"/><circle cx="134.4" cy="188.8" r="2.5"/><circle cx="220.2" cy="96.3" r="2.5"/><circle cx="258.0" cy="58.8" r="2.5"/><circle cx="166.9" cy="125.4" r="2.5"/><circle cx="192.5" cy="123.4" r="2.5"/><circle cx="141.6" cy="169.1" r="2.5"/><circle cx="155.9" cy="154.3" r="2.5"/><circle cx="134.7" cy="161.6" r="2.5"/><circle cx="201.8" cy="84.8" r="2.5"/><circle cx="217.7" cy="102.5" r="2.5"/><circle cx="133.5" cy="142.6" r="2.5"/><circle cx="225.5" cy="85.0" r="2.5"/><circle cx="176.2" cy="128.7" r="2.5"/><circle cx="157.5" cy="168.7" r="2.5"/><circle cx="186.6" cy="124.8" r="2.5"/><circle cx="179.2" cy="118.6" r="2.5"/><circle cx="158.7" cy="130.0" r="2.5"/><circle cx="217.5" cy="87.6" r="2.5"/><circle cx="195.1" cy="103.2" r="2.5"/><circle cx="194.5" cy="122.1" r="2.5"/><circle cx="235.9" cy="73.7" r="2.5"/><circle cx="121.4" cy="152.3" r="2.5"/><circle cx="235.9" cy="63.2" r="2.5"/><circle cx="183.9" cy="115.2" r="2.5"/><circle cx="126.0" cy="160.4" r="2.5"/><circle cx="254.6" cy="73.1" r="2.5"/><circle cx="131.4" cy="140.5" r="2.5"/><circle cx="178.3" cy="140.3" r="2.5"/><circle cx="226.3" cy="81.8" r="2.5"/><circle cx="193.4" cy="115.8" r="2.5"/><circle cx="231.8" cy="72.2" r="2.5"/><circle cx="160.1" cy="150.5" r="2.5"/><circle cx="224.8" cy="90.9" r="2.5"/><circle cx="151.0" cy="125.5" r="2.5"/><circle cx="184.1" cy="113.1" r="2.5"/><circle cx="255.7" cy="79.5" r="2.5"/><circle cx="177.3" cy="132.8" r="2.5"/><circle cx="194.0" cy="97.3" r="2.5"/><circle cx="118.1" cy="169.5" r="2.5"/><circle cx="233.3" cy="75.0" r="2.5"/><circle cx="197.4" cy="140.5" r="2.5"/><circle cx="145.4" cy="150.2" r="2.5"/><circle cx="234.8" cy="84.4" r="2.5"/><circle cx="141.6" cy="154.9" r="2.5"/><circle cx="198.9" cy="97.0" r="2.5"/><circle cx="199.7" cy="98.8" r="2.5"/><circle cx="143.9" cy="107.6" r="2.5"/><circle cx="229.8" cy="79.3" r="2.5"/><circle cx="154.1" cy="137.5" r="2.5"/><circle cx="220.0" cy="97.1" r="2.5"/><circle cx="179.8" cy="139.7" r="2.5"/><circle cx="247.9" cy="45.1" r="2.5"/><circle cx="194.6" cy="102.8" r="2.5"/><circle cx="140.2" cy="142.2" r="2.5"/><circle cx="135.3" cy="150.5" r="2.5"/><circle cx="189.1" cy="102.2" r="2.5"/><circle cx="241.7" cy="70.8" r="2.5"/><circle cx="164.0" cy="142.6" r="2.5"/><circle cx="139.4" cy="174.7" r="2.5"/><circle cx="151.9" cy="148.5" r="2.5"/><circle cx="166.6" cy="155.3" r="2.5"/><circle cx="145.0" cy="137.5" r="2.5"/><circle cx="246.9" cy="72.3" r="2.5"/><circle cx="155.6" cy="150.9" r="2.5"/><circle cx="169.8" cy="136.5" r="2.5"/><circle cx="91.7" cy="185.5" r="2.5"/><circle cx="194.9" cy="99.8" r="2.5"/><circle cx="175.3" cy="103.5" r="2.5"/><circle cx="187.2" cy="118.0" r="2.5"/><circle cx="205.1" cy="94.0" r="2.5"/><circle cx="148.7" cy="133.7" r="2.5"/><circle cx="217.1" cy="103.8" r="2.5"/><circle cx="220.9" cy="94.9" r="2.5"/><circle cx="146.9" cy="151.7" r="2.5"/><circle cx="160.3" cy="134.6" r="2.5"/><circle cx="216.7" cy="92.9" r="2.5"/><circle cx="130.4" cy="159.2" r="2.5"/><circle cx="137.1" cy="150.4" r="2.5"/><circle cx="197.0" cy="111.1" r="2.5"/><circle cx="187.1" cy="100.5" r="2.5"/><circle cx="203.7" cy="103.9" r="2.5"/><circle cx="179.9" cy="122.1" r="2.5"/><circle cx="179.7" cy="127.3" r="2.5"/><circle cx="124.5" cy="164.8" r="2.5"/><circle cx="217.2" cy="97.6" r="2.5"/><circle cx="161.2" cy="129.3" r="2.5"/><circle cx="149.1" cy="152.8" r="2.5"/><circle cx="148.3" cy="137.0" r="2.5"/><circle cx="171.6" cy="99.9" r="2.5"/><circle cx="189.4" cy="100.0" r="2.5"/><circle cx="190.8" cy="100.8" r="2.5"/><circle cx="194.7" cy="118.1" r="2.5"/><circle cx="173.7" cy="140.3" r="2.5"/><circle cx="111.2" cy="163.1" r="2.5"/><circle cx="198.5" cy="94.3" r="2.5"/><circle cx="196.6" cy="119.5" r="2.5"/><circle cx="208.3" cy="98.0" r="2.5"/><circle cx="176.5" cy="113.1" r="2.5"/><circle cx="183.9" cy="137.6" r="2.5"/><circle cx="133.5" cy="167.0" r="2.5"/><circle cx="169.3" cy="126.6" r="2.5"/><circle cx="124.3" cy="162.6" r="2.5"/><circle cx="191.3" cy="131.0" r="2.5"/><circle cx="137.7" cy="156.9" r="2.5"/><circle cx="145.5" cy="154.0" r="2.5"/><circle cx="239.1" cy="80.6" r="2.5"/><circle cx="151.2" cy="144.3" r="2.5"/><circle cx="163.8" cy="155.2" r="2.5"/><circle cx="149.6" cy="126.2" r="2.5"/><circle cx="183.3" cy="113.8" r="2.5"/><circle cx="166.2" cy="127.0" r="2.5"/><circle cx="144.7" cy="158.0" r="2.5"/><circle cx="194.9" cy="100.0" r="2.5"/><circle cx="223.9" cy="105.6" r="2.5"/><circle cx="188.3" cy="105.0" r="2.5"/><circle cx="231.6" cy="74.8" r="2.5"/><circle cx="189.8" cy="124.1" r="2.5"/><circle cx="143.6" cy="162.2" r="2.5"/><circle cx="175.6" cy="109.6" r="2.5"/><circle cx="153.3" cy="136.3" r="2.5"/><circle cx="180.6" cy="123.0" r="2.5"/><circle cx="210.5" cy="136.5" r="2.5"/><circle cx="241.0" cy="58.9" r="2.5"/><circle cx="147.4" cy="155.9" r="2.5"/><circle cx="231.0" cy="50.7" r="2.5"/><circle cx="134.5" cy="149.4" r="2.5"/><circle cx="220.5" cy="92.2" r="2.5"/><circle cx="204.5" cy="86.0" r="2.5"/><circle cx="250.9" cy="52.3" r="2.5"/><circle cx="234.6" cy="83.9" r="2.5"/><circle cx="229.9" cy="76.8" r="2.5"/><circle cx="197.5" cy="116.0" r="2.5"/><circle cx="256.6" cy="73.9" r="2.5"/><circle cx="122.2" cy="166.7" r="2.5"/><circle cx="109.2" cy="193.0" r="2.5"/><circle cx="198.5" cy="79.9" r="2.5"/><circle cx="224.3" cy="88.2" r="2.5"/><circle cx="191.3" cy="81.9" r="2.5"/><circle cx="170.2" cy="137.5" r="2.5"/><circle cx="250.9" cy="67.6" r="2.5"/><circle cx="134.8" cy="165.3" r="2.5"/><circle cx="227.4" cy="99.7" r="2.5"/><circle cx="210.4" cy="121.6" r="2.5"/><circle cx="243.6" cy="75.9" r="2.5"/><circle cx="163.1" cy="132.6" r="2.5"/><circle cx="237.1" cy="106.1" r="2.5"/><circle cx="236.3" cy="87.5" r="2.5"/><circle cx="142.3" cy="148.8" r="2.5"/><circle cx="227.8" cy="76.1" r="2.5"/><circle cx="145.4" cy="154.5" r="2.5"/><circle cx="228.6" cy="78.9" r="2.5"/><circle cx="115.3" cy="154.9" r="2.5"/><circle cx="152.2" cy="135.5" r="2.5"/><circle cx="163.3" cy="133.9" r="2.5"/><circle cx="130.0" cy="166.9" r="2.5"/><circle cx="167.9" cy="132.6" r="2.5"/><circle cx="117.8" cy="166.6" r="2.5"/><circle cx="113.0" cy="171.5" r="2.5"/><circle cx="183.3" cy="139.3" r="2.5"/><circle cx="221.5" cy="100.8" r="2.5"/><circle cx="185.5" cy="128.4" r="2.5"/><circle cx="209.0" cy="94.1" r="2.5"/><circle cx="219.2" cy="104.2" r="2.5"/><circle cx="232.8" cy="81.1" r="2.5"/><circle cx="253.6" cy="67.1" r="2.5"/><circle cx="235.5" cy="99.4" r="2.5"/><circle cx="110.3" cy="179.9" r="2.5"/><circle cx="202.5" cy="110.7" r="2.5"/><circle cx="116.6" cy="177.0" r="2.5"/><circle cx="264.2" cy="48.0" r="2.5"/><circle cx="188.0" cy="120.4" r="2.5"/><circle cx="208.3" cy="87.1" r="2.5"/><circle cx="177.9" cy="121.3" r="2.5"/><circle cx="175.9" cy="122.9" r="2.5"/><circle cx="182.3" cy="118.7" r="2.5"/><circle cx="258.1" cy="60.9" r="2.5"/><circle cx="236.3" cy="82.2" r="2.5"/><circle cx="196.5" cy="88.6" r="2.5"/><circle cx="141.4" cy="144.1" r="2.5"/><circle cx="137.8" cy="173.3" r="2.5"/><circle cx="163.0" cy="144.2" r="2.5"/><circle cx="141.6" cy="155.1" r="2.5"/><circle cx="167.1" cy="130.3" r="2.5"/><circle cx="182.7" cy="131.8" r="2.5"/><circle cx="202.9" cy="123.6" r="2.5"/><circle cx="179.1" cy="112.4" r="2.5"/><circle cx="237.0" cy="88.9" r="2.5"/><circle cx="149.3" cy="154.5" r="2.5"/><circle cx="126.8" cy="145.7" r="2.5"/><circle cx="225.7" cy="88.1" r="2.5"/><circle cx="246.7" cy="66.8" r="2.5"/><circle cx="208.7" cy="81.3" r="2.5"/><circle cx="177.7" cy="107.2" r="2.5"/><circle cx="195.8" cy="111.6" r="2.5"/><circle cx="153.8" cy="130.5" r="2.5"/><circle cx="222.4" cy="78.1" r="2.5"/><circle cx="194.8" cy="140.8" r="2.5"/><circle cx="133.7" cy="161.2" r="2.5"/><circle cx="119.4" cy="189.2" r="2.5"/><circle cx="166.5" cy="128.5" r="2.5"/><circle cx="212.7" cy="90.3" r="2.5"/><circle cx="120.2" cy="156.2" r="2.5"/><circle cx="185.0" cy="110.7" r="2.5"/><circle cx="200.2" cy="130.9" r="2.5"/><circle cx="255.9" cy="56.1" r="2.5"/><circle cx="243.2" cy="70.2" r="2.5"/><circle cx="132.5" cy="148.7" r="2.5"/><circle cx="210.4" cy="110.0" r="2.5"/><circle cx="260.3" cy="64.0" r="2.5"/><circle cx="144.5" cy="146.0" r="2.5"/><circle cx="200.2" cy="108.5" r="2.5"/><circle cx="161.5" cy="105.0" r="2.5"/><circle cx="234.6" cy="62.9" r="2.5"/><circle cx="235.3" cy="95.4" r="2.5"/><circle cx="218.5" cy="66.7" r="2.5"/><circle cx="190.4" cy="101.3" r="2.5"/><circle cx="123.8" cy="168.8" r="2.5"/><circle cx="121.0" cy="169.8" r="2.5"/><circle cx="122.2" cy="155.0" r="2.5"/><circle cx="201.3" cy="109.7" r="2.5"/><circle cx="160.7" cy="142.0" r="2.5"/><circle cx="136.7" cy="161.2" r="2.5"/><circle cx="177.4" cy="149.2" r="2.5"/><circle cx="139.4" cy="156.1" r="2.5"/><circle cx="151.9" cy="142.0" r="2.5"/><circle cx="158.1" cy="149.2" r="2.5"/><circle cx="142.0" cy="159.5" r="2.5"/><circle cx="159.5" cy="135.4" r="2.5"/><circle cx="240.7" cy="90.2" r="2.5"/><circle cx="166.8" cy="125.2" r="2.5"/><circle cx="190.7" cy="119.0" r="2.5"/><circle cx="243.0" cy="89.3" r="2.5"/><circle cx="135.7" cy="154.1" r="2.5"/><circle cx="219.4" cy="93.9" r="2.5"/><circle cx="115.8" cy="179.2" r="2.5"/><circle cx="171.5" cy="98.6" r="2.5"/><circle cx="157.1" cy="161.6" r="2.5"/><circle cx="139.7" cy="142.8" r="2.5"/><circle cx="288.2" cy="37.4" r="2.5"/><circle cx="185.9" cy="107.9" r="2.5"/><circle cx="128.8" cy="177.1" r="2.5"/><circle cx="178.7" cy="119.4" r="2.5"/><circle cx="199.1" cy="117.4" r="2.5"/><circle cx="130.4" cy="154.5" r="2.5"/><circle cx="146.6" cy="136.1" r="2.5"/><circle cx="194.2" cy="107.3" r="2.5"/><circle cx="139.3" cy="151.6" r="2.5"/><circle cx="165.1" cy="143.2" r="2.5"/><circle cx="139.3" cy="145.6" r="2.5"/><circle cx="264.1" cy="64.2" r="2.5"/><circle cx="205.4" cy="106.5" r="2.5"/><circle cx="120.8" cy="164.6" r="2.5"/><circle cx="174.8" cy="136.7" r="2.5"/><circle cx="160.0" cy="138.8" r="2.5"/><circle cx="211.3" cy="103.1" r="2.5"/><circle cx="174.5" cy="141.2" r="2.5"/><circle cx="192.8" cy="128.5" r="2.5"/><circle cx="230.6" cy="80.8" r="2.5"/><circle cx="170.3" cy="120.3" r="2.5"/><circle cx="167.3" cy="127.4" r="2.5"/><circle cx="231.0" cy="72.1" r="2.5"/><circle cx="161.5" cy="142.3" r="2.5"/><circle cx="159.2" cy="134.4" r="2.5"/><circle cx="236.0" cy="71.2" r="2.5"/><circle cx="94.0" cy="191.7" r="2.5"/><circle cx="149.3" cy="134.1" r="2.5"/><circle cx="158.2" cy="132.6" r="2.5"/><circle cx="136.1" cy="151.1" r="2.5"/><circle cx="191.6" cy="84.0" r="2.5"/><circle cx="262.0" cy="58.9" r="2.5"/><circle cx="176.8" cy="136.4" r="2.5"/><circle cx="250.6" cy="60.1" r="2.5"/><circle cx="190.8" cy="116.9" r="2.5"/><circle cx="171.1" cy="138.2" r="2.5"/><circle cx="179.7" cy="138.2" r="2.5"/><circle cx="198.9" cy="104.6" r="2.5"/><circle cx="110.4" cy="192.9" r="2.5"/><circle cx="143.9" cy="152.4" r="2.5"/><circle cx="161.1" cy="148.7" r="2.5"/><circle cx="150.5" cy="149.7" r="2.5"/><circle cx="267.6" cy="65.5" r="2.5"/><circle cx="268.4" cy="48.0" r="2.5"/><circle cx="170.6" cy="135.3" r="2.5"/><circle cx="150.8" cy="154.8" r="2.5"/><circle cx="166.8" cy="120.2" r="2.5"/><circle cx="159.0" cy="139.3" r="2.5"/><circle cx="178.3" cy="119.1" r="2.5"/><circle cx="144.2" cy="158.8" r="2.5"/><circle cx="142.2" cy="146.3" r="2.5"/><circle cx="258.1" cy="53.9" r="2.5"/><circle cx="126.4" cy="161.8" r="2.5"/><circle cx="170.2" cy="126.7" r="2.5"/><circle cx="145.6" cy="149.4" r="2.5"/><circle cx="213.6" cy="91.8" r="2.5"/><circle cx="159.2" cy="145.5" r="2.5"/><circle cx="186.2" cy="141.1" r="2.5"/><circle cx="154.6" cy="150.2" r="2.5"/><circle cx="193.2" cy="111.0" r="2.5"/><circle cx="254.3" cy="54.6" r="2.5"/><circle cx="235.4" cy="94.7" r="2.5"/><circle cx="128.6" cy="166.7" r="2.5"/><circle cx="225.0" cy="88.8" r="2.5"/><circle cx="185.1" cy="118.6" r="2.5"/><circle cx="267.7" cy="47.2" r="2.5"/><circle cx="173.4" cy="123.9" r="2.5"/><circle cx="210.1" cy="89.9" r="2.5"/><circle cx="166.2" cy="146.7" r="2.5"/><circle cx="186.7" cy="106.3" r="2.5"/><circle cx="273.3" cy="38.9" r="2.5"/><circle cx="168.5" cy="132.1" r="2.5"/><circle cx="191.5" cy="102.2" r="2.5"/><circle cx="136.3" cy="160.9" r="2.5"/><circle cx="150.3" cy="147.9" r="2.5"/><circle cx="156.4" cy="126.6" r="2.5"/><circle cx="230.4" cy="101.0" r="2.5"/><circle cx="195.5" cy="103.8" r="2.5"/><circle cx="280.4" cy="30.3" r="2.5"/><circle cx="202.5" cy="122.6" r="2.5"/><circle cx="139.6" cy="153.8" r="2.5"/><circle cx="231.1" cy="86.6" r="2.5"/><circle cx="156.3" cy="132.8" r="2.5"/><circle cx="177.2" cy="119.0" r="2.5"/><circle cx="136.5" cy="142.9" r="2.5"/><circle cx="217.3" cy="91.7" r="2.5"/><circle cx="208.3" cy="104.4" r="2.5"/><circle cx="124.8" cy="165.9" r="2.5"/><circle cx="145.9" cy="140.8" r="2.5"/><circle cx="220.2" cy="92.1" r="2.5"/><circle cx="158.8" cy="132.0" r="2.5"/><circle cx="165.2" cy="144.0" r="2.5"/><circle cx="268.0" cy="53.2" r="2.5"/><circle cx="138.7" cy="148.4" r="2.5"/><circle cx="224.5" cy="78.8" r="2.5"/><circle cx="229.2" cy="82.1" r="2.5"/><circle cx="154.2" cy="134.0" r="2.5"/><circle cx="232.4" cy="72.8" r="2.5"/><circle cx="151.4" cy="141.6" r="2.5"/><circle cx="229.3" cy="70.7" r="2.5"/><circle cx="168.0" cy="124.2" r="2.5"/><circle cx="199.6" cy="125.9" r="2.5"/><circle cx="216.7" cy="111.3" r="2.5"/><circle cx="208.8" cy="95.4" r="2.5"/><circle cx="171.4" cy="130.5" r="2.5"/><circle cx="192.9" cy="102.0" r="2.5"/><circle cx="174.2" cy="125.3" r="2.5"/><circle cx="250.7" cy="67.0" r="2.5"/><circle cx="221.7" cy="83.7" r="2.5"/><circle cx="191.3" cy="109.2" r="2.5"/><circle cx="237.7" cy="86.4" r="2.5"/><circle cx="136.0" cy="170.7" r="2.5"/><circle cx="140.6" cy="159.1" r="2.5"/><circle cx="185.2" cy="104.6" r="2.5"/><circle cx="133.2" cy="192.0" r="2.5"/><circle cx="223.5" cy="103.1" r="2.5"/><circle cx="204.5" cy="72.8" r="2.5"/><circle cx="142.9" cy="140.1" r="2.5"/><circle cx="178.4" cy="125.2" r="2.5"/><circle cx="146.9" cy="151.0" r="2.5"/><circle cx="146.2" cy="157.5" r="2.5"/><circle cx="106.5" cy="184.5" r="2.5"/><circle cx="148.9" cy="157.4" r="2.5"/><circle cx="187.2" cy="112.8" r="2.5"/><circle cx="156.1" cy="155.2" r="2.5"/><circle cx="235.7" cy="83.7" r="2.5"/><circle cx="121.3" cy="155.2" r="2.5"/><circle cx="194.7" cy="111.6" r="2.5"/><circle cx="137.4" cy="162.1" r="2.5"/><circle cx="189.7" cy="86.0" r="2.5"/><circle cx="213.0" cy="92.3" r="2.5"/><circle cx="130.8" cy="156.0" r="2.5"/><circle cx="190.0" cy="162.2" r="2.5"/><circle cx="189.7" cy="118.9" r="2.5"/><circle cx="197.6" cy="98.8" r="2.5"/><circle cx="206.0" cy="104.8" r="2.5"/><circle cx="170.6" cy="108.2" r="2.5"/><circle cx="179.3" cy="122.2" r="2.5"/><circle cx="210.7" cy="98.3" r="2.5"/><circle cx="154.6" cy="145.3" r="2.5"/><circle cx="170.2" cy="121.5" r="2.5"/><circle cx="156.7" cy="129.6" r="2.5"/><circle cx="118.9" cy="170.5" r="2.5"/><circle cx="170.4" cy="132.3" r="2.5"/><circle cx="175.7" cy="118.0" r="2.5"/><circle cx="227.9" cy="102.0" r="2.5"/><circle cx="205.3" cy="102.0" r="2.5"/><circle cx="188.2" cy="126.1" r="2.5"/><circle cx="91.3" cy="189.9" r="2.5"/><circle cx="171.8" cy="142.0" r="2.5"/><circle cx="244.6" cy="74.9" r="2.5"/><circle cx="135.5" cy="150.1" r="2.5"/><circle cx="179.4" cy="119.9" r="2.5"/><circle cx="161.1" cy="124.2" r="2.5"/><circle cx="179.5" cy="140.6" r="2.5"/><circle cx="249.5" cy="67.6" r="2.5"/><circle cx="194.5" cy="111.5" r="2.5"/><circle cx="153.3" cy="131.4" r="2.5"/><circle cx="181.7" cy="105.9" r="2.5"/><circle cx="223.4" cy="70.5" r="2.5"/><circle cx="144.9" cy="161.4" r="2.5"/><circle cx="149.9" cy="157.2" r="2.5"/><circle cx="135.5" cy="161.4" r="2.5"/><circle cx="256.9" cy="53.1" r="2.5"/><circle cx="157.3" cy="123.3" r="2.5"/><circle cx="180.7" cy="121.2" r="2.5"/><circle cx="208.4" cy="114.8" r="2.5"/><circle cx="162.3" cy="138.4" r="2.5"/><circle cx="224.4" cy="83.9" r="2.5"/><circle cx="212.3" cy="103.5" r="2.5"/><circle cx="130.9" cy="168.3" r="2.5"/><circle cx="172.6" cy="134.7" r="2.5"/><circle cx="205.8" cy="121.1" r="2.5"/><circle cx="131.5" cy="171.3" r="2.5"/><circle cx="161.3" cy="158.0" r="2.5"/><circle cx="133.0" cy="150.0" r="2.5"/><circle cx="164.9" cy="131.1" r="2.5"/><circle cx="225.8" cy="104.8" r="2.5"/><circle cx="195.1" cy="98.6" r="2.5"/><circle cx="260.7" cy="53.0" r="2.5"/><circle cx="219.0" cy="89.5" r="2.5"/><circle cx="194.2" cy="98.6" r="2.5"/><circle cx="117.4" cy="175.3" r="2.5"/><circle cx="252.6" cy="99.8" r="2.5"/><circle cx="207.1" cy="88.5" r="2.5"/><circle cx="191.0" cy="114.1" r="2.5"/><circle cx="209.5" cy="117.0" r="2.5"/><circle cx="129.3" cy="163.6" r="2.5"/><circle cx="235.8" cy="91.5" r="2.5"/><circle cx="131.0" cy="166.5" r="2.5"/><circle cx="122.4" cy="160.1" r="2.5"/><circle cx="178.9" cy="125.2" r="2.5"/><circle cx="168.1" cy="125.4" r="2.5"/><circle cx="119.1" cy="149.3" r="2.5"/><circle cx="137.6" cy="132.9" r="2.5"/><circle cx="136.1" cy="161.6" r="2.5"/><circle cx="215.7" cy="109.0" r="2.5"/><circle cx="244.3" cy="92.7" r="2.5"/><circle cx="210.2" cy="84.2" r="2.5"/><circle cx="151.3" cy="147.7" r="2.5"/><circle cx="169.9" cy="129.3" r="2.5"/><circle cx="167.5" cy="125.7" r="2.5"/><circle cx="209.3" cy="94.3" r="2.5"/><circle cx="130.9" cy="168.7" r="2.5"/><circle cx="156.1" cy="127.2" r="2.5"/><circle cx="266.0" cy="67.1" r="2.5"/><circle cx="145.7" cy="149.3" r="2.5"/><circle cx="150.5" cy="176.3" r="2.5"/><circle cx="150.2" cy="147.0" r="2.5"/><circle cx="133.3" cy="153.3" r="2.5"/><circle cx="147.5" cy="147.7" r="2.5"/><circle cx="126.2" cy="163.5" r="2.5"/><circle cx="141.3" cy="150.8" r="2.5"/><circle cx="224.9" cy="92.3" r="2.5"/><circle cx="178.3" cy="133.4" r="2.5"/><circle cx="144.4" cy="148.4" r="2.5"/><circle cx="170.9" cy="121.7" r="2.5"/><circle cx="204.9" cy="108.7" r="2.5"/><circle cx="129.8" cy="171.2" r="2.5"/><circle cx="116.8" cy="183.4" r="2.5"/><circle cx="141.0" cy="179.0" r="2.5"/><circle cx="239.3" cy="70.3" r="2.5"/><circle cx="206.3" cy="116.3" r="2.5"/><circle cx="101.8" cy="179.1" r="2.5"/><circle cx="219.3" cy="97.9" r="2.5"/><circle cx="170.2" cy="139.0" r="2.5"/><circle cx="197.9" cy="96.6" r="2.5"/><circle cx="155.1" cy="115.9" r="2.5"/><circle cx="209.7" cy="73.4" r="2.5"/><circle cx="200.4" cy="104.6" r="2.5"/><circle cx="185.0" cy="141.7" r="2.5"/><circle cx="177.6" cy="122.8" r="2.5"/><circle cx="225.5" cy="109.1" r="2.5"/><circle cx="127.7" cy="150.4" r="2.5"/><circle cx="214.6" cy="111.6" r="2.5"/><circle cx="188.8" cy="116.3" r="2.5"/><circle cx="185.9" cy="126.0" r="2.5"/><circle cx="117.2" cy="139.4" r="2.5"/><circle cx="185.8" cy="120.4" r="2.5"/><circle cx="219.8" cy="102.6" r="2.5"/><circle cx="196.2" cy="120.1" r="2.5"/><circle cx="163.5" cy="159.5" r="2.5"/><circle cx="179.6" cy="128.1" r="2.5"/><circle cx="236.6" cy="91.5" r="2.5"/><circle cx="210.3" cy="81.6" r="2.5"/><circle cx="123.5" cy="165.4" r="2.5"/><circle cx="140.5" cy="165.0" r="2.5"/><circle cx="152.3" cy="144.3" r="2.5"/><circle cx="265.0" cy="51.2" r="2.5"/><circle cx="169.1" cy="110.9" r="2.5"/><circle cx="281.7" cy="42.9" r="2.5"/><circle cx="247.8" cy="69.9" r="2.5"/><circle cx="229.8" cy="75.4" r="2.5"/><circle cx="194.9" cy="95.2" r="2.5"/><circle cx="216.3" cy="90.5" r="2.5"/><circle cx="119.3" cy="165.7" r="2.5"/><circle cx="173.9" cy="120.0" r="2.5"/><circle cx="250.5" cy="60.5" r="2.5"/><circle cx="168.5" cy="142.4" r="2.5"/><circle cx="196.7" cy="99.4" r="2.5"/><circle cx="246.6" cy="71.8" r="2.5"/><circle cx="174.1" cy="118.0" r="2.5"/><circle cx="226.4" cy="103.0" r="2.5"/><circle cx="225.4" cy="73.5" r="2.5"/><circle cx="120.6" cy="168.0" r="2.5"/><circle cx="117.2" cy="185.4" r="2.5"/><circle cx="204.6" cy="92.5" r="2.5"/><circle cx="146.5" cy="152.7" r="2.5"/><circle cx="173.1" cy="123.0" r="2.5"/><circle cx="234.4" cy="75.7" r="2.5"/><circle cx="128.2" cy="163.2" r="2.5"/><circle cx="258.1" cy="53.6" r="2.5"/><circle cx="210.9" cy="106.1" r="2.5"/><circle cx="234.2" cy="104.8" r="2.5"/><circle cx="139.2" cy="135.1" r="2.5"/><circle cx="128.2" cy="147.5" r="2.5"/><circle cx="145.0" cy="166.8" r="2.5"/><circle cx="172.2" cy="133.1" r="2.5"/><circle cx="106.0" cy="181.4" r="2.5"/><circle cx="219.6" cy="103.1" r="2.5"/><circle cx="109.8" cy="179.0" r="2.5"/><circle cx="141.9" cy="143.7" r="2.5"/><circle cx="202.7" cy="122.2" r="2.5"/><circle cx="178.7" cy="116.8" r="2.5"/><circle cx="203.5" cy="106.0" r="2.5"/><circle cx="177.0" cy="117.6" r="2.5"/><circle cx="162.6" cy="163.0" r="2.5"/><circle cx="253.3" cy="51.4" r="2.5"/><circle cx="152.3" cy="135.5" r="2.5"/><circle cx="157.1" cy="141.0" r="2.5"/><circle cx="127.4" cy="180.5" r="2.5"/><circle cx="199.7" cy="115.9" r="2.5"/><circle cx="141.4" cy="157.6" r="2.5"/><circle cx="183.8" cy="107.7" r="2.5"/><circle cx="171.5" cy="139.9" r="2.5"/><circle cx="189.6" cy="106.7" r="2.5"/><circle cx="160.0" cy="146.5" r="2.5"/><circle cx="153.0" cy="135.0" r="2.5"/><circle cx="125.3" cy="166.8" r="2.5"/><circle cx="195.0" cy="119.2" r="2.5"/><circle cx="195.9" cy="110.2" r="2.5"/><circle cx="138.7" cy="161.9" r="2.5"/><circle cx="166.8" cy="129.6" r="2.5"/><circle cx="121.8" cy="163.2" r="2.5"/><circle cx="209.0" cy="86.6" r="2.5"/><circle cx="187.5" cy="84.5" r="2.5"/><circle cx="225.3" cy="100.1" r="2.5"/><circle cx="288.7" cy="43.7" r="2.5"/><circle cx="231.5" cy="88.2" r="2.5"/><circle cx="267.5" cy="52.6" r="2.5"/><circle cx="192.9" cy="158.5" r="2.5"/><circle cx="182.7" cy="155.6" r="2.5"/><circle cx="145.9" cy="163.5" r="2.5"/><circle cx="167.1" cy="138.9" r="2.5"/><circle cx="155.4" cy="132.6" r="2.5"/><circle cx="173.6" cy="143.2" r="2.5"/><circle cx="225.1" cy="70.2" r="2.5"/><circle cx="223.2" cy="89.1" r="2.5"/><circle cx="141.9" cy="121.6" r="2.5"/><circle cx="239.7" cy="86.5" r="2.5"/><circle cx="169.1" cy="148.7" r="2.5"/><circle cx="135.3" cy="156.1" r="2.5"/><circle cx="163.1" cy="141.1" r="2.5"/><circle cx="206.2" cy="104.7" r="2.5"/><circle cx="157.2" cy="137.1" r="2.5"/><circle cx="196.9" cy="115.7" r="2.5"/><circle cx="185.0" cy="133.5" r="2.5"/><circle cx="116.1" cy="164.0" r="2.5"/><circle cx="222.8" cy="110.2" r="2.5"/><circle cx="182.8" cy="117.5" r="2.5"/><circle cx="163.4" cy="141.1" r="2.5"/><circle cx="255.7" cy="55.8" r="2.5"/><circle cx="209.2" cy="106.3" r="2.5"/><circle cx="129.0" cy="154.0" r="2.5"/><circle cx="172.0" cy="118.9" r="2.5"/><circle cx="145.4" cy="168.1" r="2.5"/><circle cx="174.3" cy="138.9" r="2.5"/><circle cx="116.0" cy="160.8" r="2.5"/><circle cx="200.5" cy="117.3" r="2.5"/><circle cx="274.5" cy="48.5" r="2.5"/><circle cx="200.5" cy="116.9" r="2.5"/><circle cx="209.0" cy="101.2" r="2.5"/><circle cx="196.7" cy="132.0" r="2.5"/><circle cx="258.1" cy="60.8" r="2.5"/><circle cx="161.0" cy="135.5" r="2.5"/><circle cx="167.5" cy="147.3" r="2.5"/><circle cx="176.3" cy="126.7" r="2.5"/><circle cx="94.2" cy="193.2" r="2.5"/><circle cx="193.1" cy="94.6" r="2.5"/><circle cx="168.3" cy="120.5" r="2.5"/><circle cx="114.5" cy="152.6" r="2.5"/><circle cx="177.9" cy="128.9" r="2.5"/><circle cx="171.9" cy="154.4" r="2.5"/><circle cx="160.7" cy="156.2" r="2.5"/><circle cx="163.0" cy="134.1" r="2.5"/><circle cx="221.5" cy="90.3" r="2.5"/><circle cx="133.5" cy="149.5" r="2.5"/><circle cx="122.6" cy="175.7" r="2.5"/><circle cx="186.4" cy="111.3" r="2.5"/><circle cx="152.1" cy="150.5" r="2.5"/><circle cx="165.8" cy="119.7" r="2.5"/><circle cx="139.1" cy="153.0" r="2.5"/><circle cx="129.5" cy="164.6" r="2.5"/><circle cx="191.3" cy="120.1" r="2.5"/><circle cx="206.9" cy="103.8" r="2.5"/><circle cx="130.8" cy="160.3" r="2.5"/><circle cx="148.4" cy="143.8" r="2.5"/><circle cx="153.2" cy="145.1" r="2.5"/><circle cx="167.1" cy="133.8" r="2.5"/><circle cx="227.4" cy="76.4" r="2.5"/><circle cx="113.7" cy="176.6" r="2.5"/><circle cx="103.9" cy="179.1" r="2.5"/><circle cx="129.1" cy="159.1" r="2.5"/><circle cx="144.7" cy="150.3" r="2.5"/><circle cx="111.1" cy="168.4" r="2.5"/><circle cx="292.1" cy="27.6" r="2.5"/><circle cx="171.7" cy="119.6" r="2.5"/><circle cx="235.3" cy="88.6" r="2.5"/><circle cx="135.0" cy="151.4" r="2.5"/><circle cx="132.8" cy="169.4" r="2.5"/><circle cx="152.5" cy="137.3" r="2.5"/><circle cx="186.2" cy="143.9" r="2.5"/><circle cx="159.5" cy="124.4" r="2.5"/><circle cx="245.7" cy="66.2" r="2.5"/><circle cx="162.8" cy="141.0" r="2.5"/><circle cx="169.0" cy="128.6" r="2.5"/><circle cx="193.8" cy="119.5" r="2.5"/><circle cx="125.9" cy="176.1" r="2.5"/><circle cx="214.9" cy="87.6" r="2.5"/><circle cx="103.4" cy="194.6" r="2.5"/><circle cx="251.2" cy="72.5" r="2.5"/><circle cx="179.8" cy="130.9" r="2.5"/><circle cx="195.2" cy="101.5" r="2.5"/><circle cx="136.9" cy="176.5" r="2.5"/><circle cx="128.9" cy="158.7" r="2.5"/><circle cx="132.1" cy="160.6" r="2.5"/><circle cx="166.9" cy="141.9" r="2.5"/><circle cx="206.7" cy="70.1" r="2.5"/><circle cx="204.5" cy="98.4" r="2.5"/><circle cx="172.7" cy="122.1" r="2.5"/><circle cx="202.8" cy="105.8" r="2.5"/><circle cx="178.4" cy="136.5" r="2.5"/><circle cx="206.1" cy="79.6" r="2.5"/><circle cx="178.4" cy="100.0" r="2.5"/><circle cx="206.2" cy="110.8" r="2.5"/><circle cx="211.3" cy="89.9" r="2.5"/><circle cx="204.4" cy="96.2" r="2.5"/><circle cx="209.2" cy="122.3" r="2.5"/><circle cx="162.9" cy="126.3" r="2.5"/><circle cx="132.5" cy="164.9" r="2.5"/><circle cx="163.0" cy="126.5" r="2.5"/><circle cx="226.4" cy="90.9" r="2.5"/><circle cx="108.9" cy="177.3" r="2.5"/><circle cx="190.6" cy="108.3" r="2.5"/><circle cx="234.5" cy="77.0" r="2.5"/><circle cx="241.4" cy="69.8" r="2.5"/><circle cx="256.3" cy="109.3" r="2.5"/><circle cx="245.8" cy="58.4" r="2.5"/><circle cx="179.3" cy="127.3" r="2.5"/><circle cx="247.7" cy="71.8" r="2.5"/><circle cx="173.7" cy="108.4" r="2.5"/><circle cx="187.1" cy="132.7" r="2.5"/><circle cx="146.3" cy="164.6" r="2.5"/><circle cx="201.0" cy="97.0" r="2.5"/><circle cx="243.2" cy="66.9" r="2.5"/><circle cx="178.9" cy="121.4" r="2.5"/><circle cx="151.9" cy="136.8" r="2.5"/><circle cx="175.9" cy="126.7" r="2.5"/><circle cx="210.1" cy="76.7" r="2.5"/><circle cx="169.1" cy="135.5" r="2.5"/><circle cx="147.9" cy="145.9" r="2.5"/><circle cx="139.3" cy="140.8" r="2.5"/><circle cx="147.6" cy="147.3" r="2.5"/><circle cx="148.9" cy="158.9" r="2.5"/><circle cx="174.3" cy="109.5" r="2.5"/><circle cx="246.2" cy="72.9" r="2.5"/><circle cx="223.6" cy="102.4" r="2.5"/><circle cx="180.9" cy="106.9" r="2.5"/><circle cx="130.7" cy="174.1" r="2.5"/><circle cx="168.2" cy="121.9" r="2.5"/><circle cx="186.8" cy="97.9" r="2.5"/><circle cx="178.6" cy="117.7" r="2.5"/><circle cx="277.4" cy="34.3" r="2.5"/><circle cx="123.8" cy="163.2" r="2.5"/><circle cx="274.3" cy="34.6" r="2.5"/><circle cx="254.3" cy="53.3" r="2.5"/><circle cx="196.0" cy="112.0" r="2.5"/><circle cx="147.4" cy="141.2" r="2.5"/><circle cx="125.9" cy="169.7" r="2.5"/><circle cx="144.3" cy="110.4" r="2.5"/><circle cx="229.1" cy="73.1" r="2.5"/><circle cx="157.1" cy="152.1" r="2.5"/><circle cx="160.2" cy="138.0" r="2.5"/><circle cx="220.8" cy="91.3" r="2.5"/><circle cx="225.3" cy="77.8" r="2.5"/><circle cx="200.5" cy="108.0" r="2.5"/><circle cx="114.9" cy="178.6" r="2.5"/><circle cx="183.3" cy="85.9" r="2.5"/><circle cx="167.0" cy="121.3" r="2.5"/><circle cx="176.8" cy="95.0" r="2.5"/><circle cx="161.6" cy="151.6" r="2.5"/><circle cx="234.7" cy="74.5" r="2.5"/><circle cx="167.2" cy="138.1" r="2.5"/><circle cx="176.5" cy="134.4" r="2.5"/><circle cx="256.4" cy="72.9" r="2.5"/><circle cx="215.9" cy="96.3" r="2.5"/><circle cx="206.7" cy="108.8" r="2.5"/><circle cx="252.4" cy="50.6" r="2.5"/><circle cx="146.0" cy="142.4" r="2.5"/><circle cx="226.4" cy="95.5" r="2.5"/><circle cx="126.9" cy="180.3" r="2.5"/><circle cx="151.9" cy="148.1" r="2.5"/><circle cx="213.6" cy="111.1" r="2.5"/><circle cx="125.8" cy="161.6" r="2.5"/><circle cx="200.0" cy="113.3" r="2.5"/><circle cx="136.5" cy="163.8" r="2.5"/><circle cx="149.8" cy="122.2" r="2.5"/><circle cx="191.4" cy="135.4" r="2.5"/><circle cx="199.2" cy="116.7" r="2.5"/><circle cx="246.8" cy="63.9" r="2.5"/><circle cx="144.6" cy="131.9" r="2.5"/><circle cx="194.0" cy="87.4" r="2.5"/><circle cx="233.0" cy="86.3" r="2.5"/><circle cx="154.6" cy="151.0" r="2.5"/><circle cx="165.6" cy="127.0" r="2.5"/><circle cx="206.1" cy="101.5" r="2.5"/><circle cx="128.6" cy="158.2" r="2.5"/><circle cx="196.6" cy="126.3" r="2.5"/><circle cx="122.9" cy="167.8" r="2.5"/><circle cx="172.8" cy="120.4" r="2.5"/><circle cx="167.2" cy="131.6" r="2.5"/><circle cx="177.8" cy="117.9" r="2.5"/><circle cx="170.8" cy="130.6" r="2.5"/><circle cx="136.4" cy="153.0" r="2.5"/><circle cx="198.5" cy="124.4" r="2.5"/><circle cx="181.9" cy="132.7" r="2.5"/><circle cx="227.3" cy="80.9" r="2.5"/><circle cx="107.7" cy="170.5" r="2.5"/><circle cx="219.9" cy="81.7" r="2.5"/><circle cx="223.1" cy="74.8" r="2.5"/><circle cx="174.0" cy="147.6" r="2.5"/><circle cx="177.1" cy="103.5" r="2.5"/><circle cx="255.4" cy="87.4" r="2.5"/><circle cx="196.0" cy="119.7" r="2.5"/><circle cx="232.7" cy="99.1" r="2.5"/><circle cx="134.6" cy="156.0" r="2.5"/><circle cx="195.2" cy="92.7" r="2.5"/><circle cx="239.4" cy="65.4" r="2.5"/><circle cx="238.2" cy="75.2" r="2.5"/><circle cx="197.9" cy="99.7" r="2.5"/><circle cx="170.7" cy="123.6" r="2.5"/><circle cx="267.3" cy="45.4" r="2.5"/><circle cx="144.6" cy="132.9" r="2.5"/><circle cx="187.2" cy="109.9" r="2.5"/><circle cx="173.4" cy="126.4" r="2.5"/><circle cx="200.9" cy="114.3" r="2.5"/><circle cx="190.0" cy="98.2" r="2.5"/><circle cx="166.3" cy="120.9" r="2.5"/><circle cx="158.0" cy="122.8" r="2.5"/><circle cx="172.0" cy="123.0" r="2.5"/><circle cx="160.3" cy="148.2" r="2.5"/><circle cx="131.1" cy="144.7" r="2.5"/><circle cx="207.0" cy="93.3" r="2.5"/><circle cx="187.5" cy="107.0" r="2.5"/><circle cx="245.9" cy="93.9" r="2.5"/><circle cx="215.0" cy="82.0" r="2.5"/><circle cx="175.2" cy="127.6" r="2.5"/><circle cx="152.0" cy="125.1" r="2.5"/><circle cx="228.8" cy="81.7" r="2.5"/><circle cx="126.8" cy="151.1" r="2.5"/><circle cx="109.6" cy="189.3" r="2.5"/><circle cx="148.1" cy="132.6" r="2.5"/><circle cx="151.9" cy="140.8" r="2.5"/><circle cx="179.3" cy="116.2" r="2.5"/><circle cx="130.4" cy="148.0" r="2.5"/><circle cx="179.9" cy="116.6" r="2.5"/><circle cx="231.6" cy="75.9" r="2.5"/><circle cx="190.9" cy="113.5" r="2.5"/><circle cx="174.9" cy="129.9" r="2.5"/><circle cx="279.4" cy="37.1" r="2.5"/><circle cx="229.2" cy="89.1" r="2.5"/><circle cx="214.0" cy="87.1" r="2.5"/><circle cx="198.9" cy="99.3" r="2.5"/><circle cx="199.4" cy="117.7" r="2.5"/><circle cx="231.7" cy="98.0" r="2.5"/><circle cx="215.8" cy="109.7" r="2.5"/><circle cx="177.9" cy="117.2" r="2.5"/><circle cx="132.3" cy="167.8" r="2.5"/><circle cx="176.2" cy="125.7" r="2.5"/><circle cx="186.0" cy="106.1" r="2.5"/><circle cx="231.3" cy="81.5" r="2.5"/><circle cx="158.0" cy="122.5" r="2.5"/><circle cx="165.4" cy="135.9" r="2.5"/><circle cx="265.5" cy="66.0" r="2.5"/><circle cx="168.8" cy="135.8" r="2.5"/><circle cx="143.8" cy="157.0" r="2.5"/><circle cx="143.6" cy="121.8" r="2.5"/><circle cx="128.0" cy="162.4" r="2.5"/><circle cx="197.7" cy="116.4" r="2.5"/><circle cx="248.3" cy="62.9" r="2.5"/><circle cx="144.5" cy="146.1" r="2.5"/><circle cx="206.1" cy="95.7" r="2.5"/><circle cx="218.3" cy="80.5" r="2.5"/><circle cx="193.1" cy="108.1" r="2.5"/><circle cx="208.3" cy="103.3" r="2.5"/><circle cx="159.0" cy="149.4" r="2.5"/><circle cx="147.3" cy="135.9" r="2.5"/><circle cx="215.4" cy="97.7" r="2.5"/><circle cx="137.6" cy="143.9" r="2.5"/><circle cx="217.3" cy="102.5" r="2.5"/><circle cx="141.0" cy="158.6" r="2.5"/><circle cx="238.5" cy="88.5" r="2.5"/><circle cx="154.0" cy="138.2" r="2.5"/><circle cx="136.8" cy="150.9" r="2.5"/><circle cx="222.6" cy="72.2" r="2.5"/><circle cx="173.0" cy="129.8" r="2.5"/><circle cx="198.5" cy="132.4" r="2.5"/><circle cx="296.3" cy="35.2" r="2.5"/><circle cx="105.5" cy="171.5" r="2.5"/><circle cx="114.7" cy="176.8" r="2.5"/><circle cx="197.6" cy="96.5" r="2.5"/><circle cx="317.7" cy="9.3" r="2.5"/><circle cx="136.2" cy="159.1" r="2.5"/><circle cx="169.1" cy="142.9" r="2.5"/><circle cx="179.5" cy="122.5" r="2.5"/><circle cx="186.1" cy="111.1" r="2.5"/><circle cx="162.8" cy="130.2" r="2.5"/><circle cx="178.1" cy="123.4" r="2.5"/><circle cx="159.9" cy="125.3" r="2.5"/><circle cx="183.3" cy="138.6" r="2.5"/><circle cx="154.0" cy="157.1" r="2.5"/><circle cx="220.9" cy="88.8" r="2.5"/><circle cx="206.6" cy="92.1" r="2.5"/><circle cx="189.6" cy="164.7" r="2.5"/><circle cx="128.4" cy="161.5" r="2.5"/><circle cx="213.2" cy="84.5" r="2.5"/><circle cx="121.3" cy="190.3" r="2.5"/><circle cx="221.7" cy="102.0" r="2.5"/><circle cx="248.0" cy="73.5" r="2.5"/><circle cx="196.2" cy="107.3" r="2.5"/><circle cx="134.9" cy="152.7" r="2.5"/><circle cx="173.4" cy="108.6" r="2.5"/><circle cx="151.1" cy="138.7" r="2.5"/><circle cx="252.3" cy="55.5" r="2.5"/><circle cx="121.7" cy="175.8" r="2.5"/><circle cx="178.2" cy="115.0" r="2.5"/><circle cx="264.1" cy="54.4" r="2.5"/><circle cx="168.5" cy="116.3" r="2.5"/><circle cx="127.1" cy="181.8" r="2.5"/><circle cx="235.8" cy="92.5" r="2.5"/><circle cx="217.8" cy="85.2" r="2.5"/><circle cx="249.6" cy="75.4" r="2.5"/><circle cx="172.8" cy="105.3" r="2.5"/><circle cx="195.3" cy="104.8" r="2.5"/><circle cx="160.6" cy="142.9" r="2.5"/><circle cx="137.5" cy="148.9" r="2.5"/><circle cx="175.3" cy="120.1" r="2.5"/><circle cx="183.6" cy="165.0" r="2.5"/><circle cx="128.6" cy="162.8" r="2.5"/><circle cx="208.0" cy="120.5" r="2.5"/><circle cx="258.7" cy="69.5" r="2.5"/><circle cx="192.5" cy="92.0" r="2.5"/><circle cx="171.1" cy="152.7" r="2.5"/><circle cx="173.1" cy="78.4" r="2.5"/><circle cx="188.3" cy="112.1" r="2.5"/><circle cx="177.1" cy="128.4" r="2.5"/><circle cx="148.4" cy="149.3" r="2.5"/><circle cx="175.6" cy="103.8" r="2.5"/><circle cx="181.0" cy="116.8" r="2.5"/><circle cx="202.0" cy="92.5" r="2.5"/><circle cx="148.8" cy="148.9" r="2.5"/><circle cx="194.5" cy="115.6" r="2.5"/><circle cx="204.7" cy="76.6" r="2.5"/><circle cx="179.8" cy="122.7" r="2.5"/><circle cx="237.7" cy="86.4" r="2.5"/><circle cx="138.8" cy="140.7" r="2.5"/><circle cx="191.0" cy="124.0" r="2.5"/><circle cx="197.2" cy="116.0" r="2.5"/><circle cx="177.7" cy="141.0" r="2.5"/><circle cx="135.2" cy="151.2" r="2.5"/><circle cx="229.5" cy="78.9" r="2.5"/><circle cx="162.9" cy="150.2" r="2.5"/><circle cx="187.4" cy="102.8" r="2.5"/><circle cx="226.6" cy="100.9" r="2.5"/><circle cx="222.7" cy="84.0" r="2.5"/><circle cx="142.7" cy="162.5" r="2.5"/><circle cx="117.9" cy="173.6" r="2.5"/><circle cx="193.6" cy="98.6" r="2.5"/><circle cx="172.5" cy="143.2" r="2.5"/><circle cx="149.6" cy="148.7" r="2.5"/><circle cx="135.1" cy="157.8" r="2.5"/><circle cx="204.1" cy="86.2" r="2.5"/><circle cx="254.8" cy="68.3" r="2.5"/><circle cx="202.1" cy="114.6" r="2.5"/><circle cx="159.7" cy="155.5" r="2.5"/><circle cx="149.3" cy="145.2" r="2.5"/><circle cx="203.7" cy="92.0" r="2.5"/><circle cx="245.9" cy="58.8" r="2.5"/><circle cx="237.6" cy="82.7" r="2.5"/><circle cx="158.2" cy="146.0" r="2.5"/><circle cx="180.9" cy="124.3" r="2.5"/><circle cx="146.2" cy="181.2" r="2.5"/><circle cx="144.3" cy="147.5" r="2.5"/><circle cx="215.9" cy="106.4" r="2.5"/><circle cx="173.2" cy="145.3" r="2.5"/><circle cx="144.8" cy="148.6" r="2.5"/><circle cx="166.2" cy="121.6" r="2.5"/><circle cx="140.5" cy="125.8" r="2.5"/><circle cx="144.4" cy="175.2" r="2.5"/><circle cx="172.4" cy="117.7" r="2.5"/><circle cx="146.7" cy="154.9" r="2.5"/><circle cx="127.8" cy="160.7" r="2.5"/><circle cx="138.6" cy="152.7" r="2.5"/><circle cx="219.0" cy="85.7" r="2.5"/><circle cx="218.5" cy="96.1" r="2.5"/><circle cx="155.3" cy="135.1" r="2.5"/><circle cx="163.8" cy="137.2" r="2.5"/><circle cx="145.0" cy="144.6" r="2.5"/><circle cx="206.8" cy="110.7" r="2.5"/><circle cx="225.2" cy="97.5" r="2.5"/><circle cx="177.7" cy="119.8" r="2.5"/><circle cx="149.8" cy="156.4" r="2.5"/><circle cx="178.9" cy="132.4" r="2.5"/><circle cx="210.3" cy="87.0" r="2.5"/><circle cx="223.5" cy="85.5" r="2.5"/><circle cx="129.8" cy="145.6" r="2.5"/><circle cx="158.8" cy="132.0" r="2.5"/><circle cx="203.0" cy="148.9" r="2.5"/><circle cx="219.0" cy="140.9" r="2.5"/><circle cx="235.4" cy="95.2" r="2.5"/><circle cx="187.1" cy="127.1" r="2.5"/><circle cx="130.0" cy="159.6" r="2.5"/><circle cx="210.6" cy="82.0" r="2.5"/><circle cx="178.8" cy="108.9" r="2.5"/><circle cx="119.6" cy="169.2" r="2.5"/><circle cx="209.0" cy="105.0" r="2.5"/><circle cx="167.5" cy="133.7" r="2.5"/><circle cx="188.2" cy="111.7" r="2.5"/><circle cx="139.1" cy="156.1" r="2.5"/><circle cx="202.6" cy="96.0" r="2.5"/><circle cx="207.1" cy="127.4" r="2.5"/><circle cx="160.2" cy="137.0" r="2.5"/><circle cx="185.1" cy="100.4" r="2.5"/><circle cx="121.6" cy="174.2" r="2.5"/><circle cx="190.0" cy="123.7" r="2.5"/><circle cx="247.3" cy="68.8" r="2.5"/><circle cx="117.8" cy="168.6" r="2.5"/><circle cx="165.7" cy="142.2" r="2.5"/><circle cx="131.8" cy="149.4" r="2.5"/><circle cx="165.6" cy="158.8" r="2.5"/><circle cx="105.1" cy="193.9" r="2.5"/><circle cx="174.9" cy="144.4" r="2.5"/><circle cx="170.5" cy="139.5" r="2.5"/><circle cx="183.8" cy="118.4" r="2.5"/><circle cx="136.3" cy="138.1" r="2.5"/><circle cx="188.1" cy="98.8" r="2.5"/><circle cx="149.2" cy="156.0" r="2.5"/><circle cx="148.8" cy="113.2" r="2.5"/><circle cx="239.7" cy="98.6" r="2.5"/><circle cx="226.3" cy="76.0" r="2.5"/><circle cx="194.3" cy="103.9" r="2.5"/><circle cx="163.2" cy="128.9" r="2.5"/><circle cx="165.7" cy="142.4" r="2.5"/><circle cx="99.8" cy="183.5" r="2.5"/><circle cx="185.5" cy="123.7" r="2.5"/><circle cx="167.5" cy="138.2" r="2.5"/><circle cx="225.6" cy="84.9" r="2.5"/><circle cx="230.1" cy="84.5" r="2.5"/><circle cx="164.9" cy="121.1" r="2.5"/><circle cx="172.4" cy="120.7" r="2.5"/><circle cx="131.3" cy="165.2" r="2.5"/><circle cx="170.8" cy="135.6" r="2.5"/><circle cx="153.6" cy="127.7" r="2.5"/><circle cx="155.5" cy="151.9" r="2.5"/><circle cx="198.0" cy="92.0" r="2.5"/><circle cx="248.4" cy="67.9" r="2.5"/><circle cx="245.6" cy="59.7" r="2.5"/><circle cx="152.4" cy="132.9" r="2.5"/><circle cx="156.2" cy="143.2" r="2.5"/><circle cx="225.8" cy="75.1" r="2.5"/><circle cx="138.0" cy="151.1" r="2.5"/><circle cx="223.1" cy="74.2" r="2.5"/><circle cx="140.8" cy="149.6" r="2.5"/><circle cx="212.9" cy="101.2" r="2.5"/><circle cx="210.2" cy="114.8" r="2.5"/><circle cx="117.6" cy="172.9" r="2.5"/><circle cx="230.1" cy="81.6" r="2.5"/><circle cx="125.7" cy="150.4" r="2.5"/><circle cx="152.1" cy="141.1" r="2.5"/><circle cx="123.6" cy="159.3" r="2.5"/><circle cx="217.8" cy="89.3" r="2.5"/><circle cx="217.3" cy="111.9" r="2.5"/><circle cx="110.9" cy="173.6" r="2.5"/><circle cx="248.2" cy="75.6" r="2.5"/><circle cx="166.9" cy="131.5" r="2.5"/><circle cx="202.6" cy="102.9" r="2.5"/><circle cx="244.6" cy="73.3" r="2.5"/><circle cx="252.5" cy="53.0" r="2.5"/><circle cx="178.8" cy="116.3" r="2.5"/><circle cx="198.7" cy="98.7" r="2.5"/><circle cx="144.7" cy="157.8" r="2.5"/><circle cx="190.2" cy="151.0" r="2.5"/><circle cx="210.3" cy="120.2" r="2.5"/><circle cx="144.2" cy="139.6" r="2.5"/><circle cx="215.4" cy="93.7" r="2.5"/><circle cx="261.5" cy="56.7" r="2.5"/><circle cx="229.9" cy="86.4" r="2.5"/><circle cx="195.1" cy="97.7" r="2.5"/><circle cx="158.3" cy="142.2" r="2.5"/><circle cx="211.3" cy="81.0" r="2.5"/><circle cx="207.4" cy="98.2" r="2.5"/><circle cx="145.5" cy="148.0" r="2.5"/><circle cx="201.7" cy="105.7" r="2.5"/><circle cx="161.6" cy="160.7" r="2.5"/><circle cx="248.9" cy="78.3" r="2.5"/><circle cx="155.0" cy="125.9" r="2.5"/><circle cx="117.5" cy="164.9" r="2.5"/><circle cx="246.1" cy="73.3" r="2.5"/><circle cx="124.1" cy="159.8" r="2.5"/><circle cx="205.3" cy="74.0" r="2.5"/><circle cx="238.1" cy="95.3" r="2.5"/><circle cx="183.6" cy="113.3" r="2.5"/><circle cx="140.5" cy="158.9" r="2.5"/><circle cx="188.3" cy="100.0" r="2.5"/><circle cx="248.7" cy="71.5" r="2.5"/><circle cx="222.7" cy="79.0" r="2.5"/><circle cx="178.1" cy="124.8" r="2.5"/><circle cx="184.0" cy="105.1" r="2.5"/><circle cx="164.2" cy="118.8" r="2.5"/><circle cx="189.5" cy="115.0" r="2.5"/><circle cx="111.3" cy="186.5" r="2.5"/><circle cx="119.0" cy="161.5" r="2.5"/><circle cx="198.3" cy="114.5" r="2.5"/><circle cx="140.8" cy="138.4" r="2.5"/><circle cx="193.7" cy="127.3" r="2.5"/><circle cx="113.4" cy="175.1" r="2.5"/><circle cx="149.1" cy="155.6" r="2.5"/><circle cx="233.8" cy="67.0" r="2.5"/><circle cx="151.0" cy="138.7" r="2.5"/><circle cx="132.8" cy="160.7" r="2.5"/><circle cx="194.5" cy="97.8" r="2.5"/><circle cx="128.2" cy="165.7" r="2.5"/><circle cx="185.8" cy="105.1" r="2.5"/><circle cx="210.6" cy="95.8" r="2.5"/><circle cx="195.8" cy="103.4" r="2.5"/><circle cx="178.5" cy="101.6" r="2.5"/><circle cx="169.0" cy="120.1" r="2.5"/><circle cx="177.9" cy="129.2" r="2.5"/><circle cx="133.3" cy="174.3" r="2.5"/><circle cx="155.3" cy="139.7" r="2.5"/><circle cx="170.9" cy="125.0" r="2.5"/><circle cx="227.2" cy="103.5" r="2.5"/><circle cx="217.9" cy="95.7" r="2.5"/><circle cx="148.1" cy="150.6" r="2.5"/><circle cx="123.3" cy="162.3" r="2.5"/><circle cx="169.0" cy="123.9" r="2.5"/><circle cx="125.3" cy="169.4" r="2.5"/><circle cx="123.4" cy="144.8" r="2.5"/><circle cx="198.5" cy="119.6" r="2.5"/><circle cx="153.6" cy="135.0" r="2.5"/><circle cx="227.9" cy="77.6" r="2.5"/><circle cx="129.7" cy="111.2" r="2.5"/><circle cx="262.3" cy="51.7" r="2.5"/><circle cx="239.0" cy="98.1" r="2.5"/><circle cx="162.5" cy="141.0" r="2.5"/><circle cx="263.6" cy="51.1" r="2.5"/><circle cx="111.5" cy="173.5" r="2.5"/><circle cx="261.4" cy="60.1" r="2.5"/><circle cx="200.3" cy="101.7" r="2.5"/><circle cx="248.4" cy="66.5" r="2.5"/><circle cx="110.2" cy="199.6" r="2.5"/><circle cx="228.9" cy="89.3" r="2.5"/><circle cx="187.1" cy="111.0" r="2.5"/><circle cx="215.3" cy="102.9" r="2.5"/><circle cx="161.8" cy="144.0" r="2.5"/><circle cx="271.5" cy="45.4" r="2.5"/><circle cx="196.5" cy="89.0" r="2.5"/><circle cx="186.2" cy="105.8" r="2.5"/><circle cx="142.9" cy="147.6" r="2.5"/><circle cx="202.4" cy="112.8" r="2.5"/><circle cx="165.7" cy="127.6" r="2.5"/><circle cx="148.2" cy="147.5" r="2.5"/><circle cx="176.1" cy="152.4" r="2.5"/><circle cx="233.8" cy="74.8" r="2.5"/><circle cx="139.2" cy="138.1" r="2.5"/><circle cx="197.6" cy="108.8" r="2.5"/><circle cx="153.3" cy="129.5" r="2.5"/><circle cx="115.3" cy="157.0" r="2.5"/><circle cx="192.2" cy="108.8" r="2.5"/><circle cx="235.7" cy="62.4" r="2.5"/><circle cx="208.6" cy="93.8" r="2.5"/><circle cx="174.2" cy="135.6" r="2.5"/><circle cx="128.9" cy="164.6" r="2.5"/><circle cx="91.8" cy="189.1" r="2.5"/><circle cx="108.2" cy="186.0" r="2.5"/><circle cx="233.3" cy="90.0" r="2.5"/><circle cx="161.3" cy="142.7" r="2.5"/><circle cx="143.4" cy="144.1" r="2.5"/><circle cx="136.4" cy="151.3" r="2.5"/><circle cx="133.7" cy="176.1" r="2.5"/><circle cx="145.8" cy="147.5" r="2.5"/><circle cx="219.6" cy="93.4" r="2.5"/><circle cx="180.9" cy="117.9" r="2.5"/><circle cx="158.4" cy="135.8" r="2.5"/><circle cx="213.5" cy="89.4" r="2.5"/><circle cx="191.1" cy="112.9" r="2.5"/><circle cx="208.6" cy="84.9" r="2.5"/><circle cx="190.6" cy="134.2" r="2.5"/><circle cx="125.5" cy="157.9" r="2.5"/><circle cx="174.2" cy="117.5" r="2.5"/><circle cx="178.4" cy="120.2" r="2.5"/><circle cx="178.3" cy="114.5" r="2.5"/><circle cx="249.7" cy="56.5" r="2.5"/><circle cx="185.0" cy="124.4" r="2.5"/><circle cx="194.8" cy="128.0" r="2.5"/><circle cx="162.6" cy="129.0" r="2.5"/><circle cx="251.3" cy="78.6" r="2.5"/><circle cx="154.2" cy="120.9" r="2.5"/><circle cx="244.5" cy="98.4" r="2.5"/><circle cx="173.0" cy="141.1" r="2.5"/><circle cx="232.7" cy="84.0" r="2.5"/><circle cx="128.6" cy="170.8" r="2.5"/><circle cx="163.2" cy="96.4" r="2.5"/><circle cx="165.0" cy="138.6" r="2.5"/><circle cx="151.4" cy="147.8" r="2.5"/><circle cx="180.6" cy="148.0" r="2.5"/><circle cx="156.5" cy="121.0" r="2.5"/><circle cx="161.5" cy="135.1" r="2.5"/><circle cx="305.0" cy="17.8" r="2.5"/><circle cx="134.8" cy="155.7" r="2.5"/><circle cx="195.0" cy="106.9" r="2.5"/><circle cx="127.8" cy="147.2" r="2.5"/><circle cx="213.3" cy="105.4" r="2.5"/><circle cx="179.0" cy="141.7" r="2.5"/><circle cx="216.0" cy="116.5" r="2.5"/><circle cx="124.9" cy="177.3" r="2.5"/><circle cx="115.9" cy="172.6" r="2.5"/><circle cx="224.8" cy="85.2" r="2.5"/><circle cx="223.0" cy="87.1" r="2.5"/><circle cx="174.2" cy="120.5" r="2.5"/><circle cx="126.4" cy="164.3" r="2.5"/><circle cx="258.9" cy="60.1" r="2.5"/><circle cx="201.9" cy="107.0" r="2.5"/><circle cx="118.1" cy="167.9" r="2.5"/><circle cx="177.2" cy="95.5" r="2.5"/><circle cx="200.3" cy="114.4" r="2.5"/><circle cx="78.8" cy="141.2" r="2.5"/><circle cx="150.1" cy="141.1" r="2.5"/><circle cx="110.3" cy="162.8" r="2.5"/><circle cx="224.4" cy="76.6" r="2.5"/><circle cx="161.1" cy="134.7" r="2.5"/><circle cx="215.8" cy="102.2" r="2.5"/><circle cx="206.7" cy="101.8" r="2.5"/><circle cx="167.1" cy="149.7" r="2.5"/><circle cx="166.8" cy="145.7" r="2.5"/><circle cx="219.6" cy="86.8" r="2.5"/><circle cx="144.6" cy="155.4" r="2.5"/><circle cx="176.7" cy="141.6" r="2.5"/><circle cx="205.1" cy="101.5" r="2.5"/><circle cx="181.4" cy="122.8" r="2.5"/><circle cx="207.8" cy="95.7" r="2.5"/><circle cx="120.9" cy="182.7" r="2.5"/><circle cx="191.7" cy="90.5" r="2.5"/><circle cx="218.2" cy="77.3" r="2.5"/><circle cx="130.8" cy="158.5" r="2.5"/><circle cx="190.5" cy="107.2" r="2.5"/><circle cx="136.9" cy="150.5" r="2.5"/><circle cx="237.8" cy="71.0" r="2.5"/><circle cx="142.8" cy="158.2" r="2.5"/><circle cx="133.3" cy="158.6" r="2.5"/><circle cx="135.3" cy="144.8" r="2.5"/><circle cx="133.9" cy="161.3" r="2.5"/><circle cx="196.8" cy="115.5" r="2.5"/><circle cx="234.0" cy="83.7" r="2.5"/><circle cx="112.5" cy="197.9" r="2.5"/><circle cx="245.1" cy="72.3" r="2.5"/><circle cx="209.5" cy="100.6" r="2.5"/><circle cx="125.2" cy="169.5" r="2.5"/><circle cx="217.3" cy="89.6" r="2.5"/><circle cx="205.0" cy="107.0" r="2.5"/><circle cx="201.0" cy="94.9" r="2.5"/><circle cx="234.3" cy="88.1" r="2.5"/><circle cx="301.3" cy="12.5" r="2.5"/><circle cx="187.0" cy="124.2" r="2.5"/><circle cx="211.6" cy="104.3" r="2.5"/><circle cx="218.4" cy="90.7" r="2.5"/><circle cx="193.8" cy="98.3" r="2.5"/><circle cx="211.1" cy="103.6" r="2.5"/><circle cx="242.7" cy="65.4" r="2.5"/><circle cx="205.6" cy="98.3" r="2.5"/><circle cx="156.9" cy="158.0" r="2.5"/><circle cx="247.3" cy="64.7" r="2.5"/><circle cx="143.7" cy="142.2" r="2.5"/><circle cx="199.0" cy="130.1" r="2.5"/><circle cx="234.2" cy="68.5" r="2.5"/><circle cx="155.0" cy="136.2" r="2.5"/><circle cx="206.5" cy="126.8" r="2.5"/><circle cx="235.7" cy="80.7" r="2.5"/><circle cx="173.9" cy="110.2" r="2.5"/><circle cx="234.6" cy="75.1" r="2.5"/><circle cx="235.4" cy="65.2" r="2.5"/><circle cx="152.3" cy="162.1" r="2.5"/><circle cx="222.8" cy="86.4" r="2.5"/><circle cx="164.3" cy="149.2" r="2.5"/><circle cx="155.4" cy="138.6" r="2.5"/><circle cx="191.4" cy="80.4" r="2.5"/><circle cx="221.5" cy="69.0" r="2.5"/><circle cx="127.0" cy="160.0" r="2.5"/><circle cx="232.3" cy="90.4" r="2.5"/><circle cx="140.1" cy="141.3" r="2.5"/><circle cx="190.2" cy="112.7" r="2.5"/><circle cx="177.8" cy="138.8" r="2.5"/><circle cx="147.9" cy="153.4" r="2.5"/><circle cx="214.8" cy="101.4" r="2.5"/><circle cx="226.7" cy="85.7" r="2.5"/><circle cx="160.6" cy="142.1" r="2.5"/><circle cx="200.6" cy="96.9" r="2.5"/><circle cx="146.1" cy="133.2" r="2.5"/><circle cx="241.4" cy="73.6" r="2.5"/><circle cx="141.9" cy="125.4" r="2.5"/><circle cx="195.6" cy="112.5" r="2.5"/><circle cx="200.7" cy="126.7" r="2.5"/><circle cx="175.1" cy="106.3" r="2.5"/><circle cx="153.6" cy="137.7" r="2.5"/><circle cx="134.9" cy="152.2" r="2.5"/><circle cx="199.8" cy="116.2" r="2.5"/><circle cx="252.9" cy="52.4" r="2.5"/><circle cx="137.4" cy="150.4" r="2.5"/><circle cx="177.6" cy="107.7" r="2.5"/><circle cx="257.9" cy="47.2" r="2.5"/><circle cx="161.5" cy="134.1" r="2.5"/><circle cx="159.6" cy="151.3" r="2.5"/><circle cx="243.3" cy="62.1" r="2.5"/><circle cx="122.8" cy="168.8" r="2.5"/><circle cx="205.9" cy="82.3" r="2.5"/><circle cx="289.3" cy="37.1" r="2.5"/><circle cx="148.0" cy="137.9" r="2.5"/><circle cx="158.8" cy="150.6" r="2.5"/><circle cx="210.8" cy="93.0" r="2.5"/><circle cx="189.9" cy="114.0" r="2.5"/><circle cx="206.0" cy="87.6" r="2.5"/><circle cx="200.9" cy="113.6" r="2.5"/><circle cx="225.4" cy="90.9" r="2.5"/><circle cx="186.7" cy="111.7" r="2.5"/><circle cx="155.8" cy="169.5" r="2.5"/><circle cx="155.1" cy="132.5" r="2.5"/><circle cx="144.3" cy="166.6" r="2.5"/><circle cx="195.7" cy="139.7" r="2.5"/><circle cx="168.0" cy="120.0" r="2.5"/><circle cx="141.9" cy="138.3" r="2.5"/><circle cx="174.7" cy="121.8" r="2.5"/><circle cx="218.0" cy="114.2" r="2.5"/><circle cx="113.7" cy="164.1" r="2.5"/><circle cx="143.3" cy="153.8" r="2.5"/><circle cx="200.4" cy="95.5" r="2.5"/><circle cx="188.6" cy="111.0" r="2.5"/><circle cx="210.0" cy="89.4" r="2.5"/><circle cx="228.9" cy="74.1" r="2.5"/><circle cx="153.7" cy="146.3" r="2.5"/><circle cx="198.5" cy="110.4" r="2.5"/><circle cx="134.4" cy="150.3" r="2.5"/><circle cx="133.3" cy="165.3" r="2.5"/><circle cx="226.6" cy="85.6" r="2.5"/><circle cx="227.9" cy="84.2" r="2.5"/><circle cx="121.1" cy="174.8" r="2.5"/><circle cx="140.0" cy="134.5" r="2.5"/><circle cx="148.5" cy="153.8" r="2.5"/><circle cx="218.6" cy="93.9" r="2.5"/><circle cx="175.2" cy="111.2" r="2.5"/><circle cx="155.3" cy="146.6" r="2.5"/><circle cx="242.5" cy="71.0" r="2.5"/><circle cx="156.6" cy="130.6" r="2.5"/><circle cx="153.5" cy="131.4" r="2.5"/><circle cx="111.2" cy="187.9" r="2.5"/><circle cx="132.5" cy="159.2" r="2.5"/><circle cx="224.8" cy="90.6" r="2.5"/><circle cx="177.1" cy="126.8" r="2.5"/><circle cx="158.4" cy="110.0" r="2.5"/><circle cx="151.4" cy="160.9" r="2.5"/><circle cx="225.5" cy="123.1" r="2.5"/><circle cx="225.5" cy="98.9" r="2.5"/><circle cx="226.3" cy="84.9" r="2.5"/><circle cx="153.2" cy="134.9" r="2.5"/><circle cx="163.7" cy="120.0" r="2.5"/><circle cx="173.5" cy="131.7" r="2.5"/><circle cx="175.6" cy="129.1" r="2.5"/><circle cx="191.0" cy="96.5" r="2.5"/><circle cx="244.9" cy="97.1" r="2.5"/><circle cx="200.1" cy="96.1" r="2.5"/><circle cx="213.5" cy="102.8" r="2.5"/><circle cx="263.9" cy="45.1" r="2.5"/><circle cx="215.1" cy="97.5" r="2.5"/><circle cx="211.6" cy="77.5" r="2.5"/><circle cx="204.7" cy="82.7" r="2.5"/><circle cx="162.4" cy="150.0" r="2.5"/><circle cx="138.6" cy="163.9" r="2.5"/><circle cx="214.4" cy="37.6" r="2.5"/><circle cx="133.4" cy="160.5" r="2.5"/><circle cx="206.3" cy="92.8" r="2.5"/><circle cx="160.1" cy="135.0" r="2.5"/><circle cx="228.9" cy="83.5" r="2.5"/><circle cx="153.2" cy="139.6" r="2.5"/><circle cx="185.4" cy="119.1" r="2.5"/><circle cx="133.5" cy="162.6" r="2.5"/><circle cx="140.0" cy="171.2" r="2.5"/><circle cx="124.3" cy="158.8" r="2.5"/><circle cx="186.6" cy="118.9" r="2.5"/><circle cx="192.5" cy="117.7" r="2.5"/><circle cx="193.5" cy="102.7" r="2.5"/><circle cx="162.5" cy="155.0" r="2.5"/><circle cx="147.4" cy="146.8" r="2.5"/><circle cx="274.2" cy="48.7" r="2.5"/><circle cx="157.9" cy="144.3" r="2.5"/><circle cx="196.6" cy="100.4" r="2.5"/><circle cx="204.3" cy="100.6" r="2.5"/><circle cx="190.0" cy="95.6" r="2.5"/><circle cx="146.7" cy="146.8" r="2.5"/><circle cx="117.9" cy="178.0" r="2.5"/><circle cx="111.4" cy="179.9" r="2.5"/><circle cx="199.2" cy="101.3" r="2.5"/><circle cx="229.0" cy="89.4" r="2.5"/><circle cx="126.2" cy="159.9" r="2.5"/><circle cx="198.1" cy="102.5" r="2.5"/><circle cx="227.0" cy="88.2" r="2.5"/><circle cx="180.2" cy="113.8" r="2.5"/><circle cx="163.0" cy="132.8" r="2.5"/><circle cx="189.3" cy="102.7" r="2.5"/><circle cx="192.1" cy="138.7" r="2.5"/><circle cx="237.8" cy="73.7" r="2.5"/><circle cx="216.3" cy="95.4" r="2.5"/><circle cx="149.7" cy="124.5" r="2.5"/><circle cx="172.3" cy="130.0" r="2.5"/><circle cx="176.0" cy="113.1" r="2.5"/><circle cx="198.1" cy="110.7" r="2.5"/><circle cx="247.3" cy="97.1" r="2.5"/><circle cx="138.7" cy="155.9" r="2.5"/><circle cx="142.0" cy="127.8" r="2.5"/><circle cx="219.9" cy="78.4" r="2.5"/><circle cx="203.8" cy="118.2" r="2.5"/><circle cx="185.5" cy="134.0" r="2.5"/><circle cx="213.9" cy="93.5" r="2.5"/><circle cx="206.9" cy="94.2" r="2.5"/><circle cx="147.9" cy="147.0" r="2.5"/><circle cx="160.3" cy="144.3" r="2.5"/><circle cx="249.9" cy="64.8" r="2.5"/><circle cx="192.8" cy="107.3" r="2.5"/><circle cx="214.9" cy="90.9" r="2.5"/><circle cx="122.6" cy="176.2" r="2.5"/><circle cx="238.4" cy="81.9" r="2.5"/><circle cx="143.6" cy="136.3" r="2.5"/><circle cx="151.0" cy="135.1" r="2.5"/><circle cx="230.6" cy="76.6" r="2.5"/><circle cx="135.8" cy="158.9" r="2.5"/><circle cx="284.7" cy="45.2" r="2.5"/><circle cx="162.1" cy="125.8" r="2.5"/><circle cx="194.0" cy="112.5" r="2.5"/><circle cx="146.1" cy="143.8" r="2.5"/><circle cx="141.1" cy="143.5" r="2.5"/><circle cx="190.4" cy="132.1" r="2.5"/><circle cx="157.3" cy="143.8" r="2.5"/><circle cx="149.7" cy="148.5" r="2.5"/><circle cx="201.5" cy="88.5" r="2.5"/><circle cx="188.6" cy="137.7" r="2.5"/><circle cx="157.8" cy="148.9" r="2.5"/><circle cx="149.3" cy="136.8" r="2.5"/><circle cx="244.7" cy="68.0" r="2.5"/><circle cx="197.2" cy="133.0" r="2.5"/><circle cx="224.9" cy="84.2" r="2.5"/><circle cx="93.1" cy="192.0" r="2.5"/><circle cx="148.0" cy="151.5" r="2.5"/><circle cx="206.1" cy="117.3" r="2.5"/><circle cx="181.4" cy="118.7" r="2.5"/><circle cx="227.0" cy="91.5" r="2.5"/><circle cx="116.3" cy="166.7" r="2.5"/><circle cx="212.2" cy="117.6" r="2.5"/><circle cx="118.2" cy="174.6" r="2.5"/><circle cx="150.5" cy="155.1" r="2.5"/><circle cx="256.9" cy="59.4" r="2.5"/><circle cx="135.7" cy="155.1" r="2.5"/><circle cx="155.8" cy="140.6" r="2.5"/><circle cx="143.4" cy="159.3" r="2.5"/><circle cx="149.0" cy="143.7" r="2.5"/><circle cx="200.5" cy="105.8" r="2.5"/><circle cx="202.5" cy="99.2" r="2.5"/><circle cx="160.6" cy="136.4" r="2.5"/><circle cx="149.6" cy="143.2" r="2.5"/><circle cx="175.2" cy="153.1" r="2.5"/><circle cx="168.3" cy="129.0" r="2.5"/><circle cx="170.0" cy="126.5" r="2.5"/><circle cx="168.9" cy="138.3" r="2.5"/><circle cx="297.9" cy="24.0" r="2.5"/><circle cx="181.9" cy="110.2" r="2.5"/><circle cx="115.6" cy="184.5" r="2.5"/><circle cx="195.8" cy="91.2" r="2.5"/><circle cx="251.9" cy="59.2" r="2.5"/><circle cx="182.6" cy="118.1" r="2.5"/><circle cx="130.3" cy="165.5" r="2.5"/><circle cx="205.5" cy="105.9" r="2.5"/><circle cx="222.2" cy="76.5" r="2.5"/><circle cx="204.0" cy="109.8" r="2.5"/><circle cx="168.6" cy="127.0" r="2.5"/><circle cx="202.3" cy="111.1" r="2.5"/><circle cx="206.3" cy="92.0" r="2.5"/><circle cx="245.4" cy="56.0" r="2.5"/><circle cx="198.6" cy="123.3" r="2.5"/><circle cx="208.9" cy="99.1" r="2.5"/><circle cx="175.3" cy="128.8" r="2.5"/><circle cx="215.4" cy="98.7" r="2.5"/><circle cx="188.7" cy="182.2" r="2.5"/><circle cx="115.8" cy="172.1" r="2.5"/><circle cx="180.0" cy="111.7" r="2.5"/><circle cx="158.3" cy="137.9" r="2.5"/><circle cx="221.2" cy="114.2" r="2.5"/><circle cx="215.0" cy="98.2" r="2.5"/><circle cx="140.7" cy="172.6" r="2.5"/><circle cx="180.7" cy="116.7" r="2.5"/><circle cx="223.9" cy="96.6" r="2.5"/><circle cx="151.8" cy="145.1" r="2.5"/><circle cx="195.5" cy="51.5" r="2.5"/><circle cx="126.7" cy="148.8" r="2.5"/><circle cx="227.2" cy="86.5" r="2.5"/><circle cx="209.2" cy="120.4" r="2.5"/><circle cx="132.7" cy="149.6" r="2.5"/><circle cx="202.0" cy="107.0" r="2.5"/><circle cx="160.9" cy="123.0" r="2.5"/><circle cx="169.9" cy="137.8" r="2.5"/><circle cx="137.8" cy="154.3" r="2.5"/><circle cx="245.0" cy="77.4" r="2.5"/><circle cx="228.3" cy="92.7" r="2.5"/><circle cx="186.5" cy="123.8" r="2.5"/><circle cx="240.8" cy="77.6" r="2.5"/><circle cx="195.6" cy="118.2" r="2.5"/><circle cx="157.6" cy="171.1" r="2.5"/><circle cx="193.0" cy="149.4" r="2.5"/><circle cx="254.6" cy="68.0" r="2.5"/><circle cx="196.0" cy="61.8" r="2.5"/><circle cx="174.1" cy="137.4" r="2.5"/><circle cx="241.3" cy="72.6" r="2.5"/><circle cx="209.0" cy="105.1" r="2.5"/><circle cx="172.1" cy="124.2" r="2.5"/><circle cx="158.9" cy="139.3" r="2.5"/><circle cx="201.8" cy="88.8" r="2.5"/><circle cx="134.8" cy="152.7" r="2.5"/><circle cx="226.1" cy="98.3" r="2.5"/><circle cx="152.0" cy="141.0" r="2.5"/><circle cx="211.8" cy="93.5" r="2.5"/><circle cx="136.9" cy="161.8" r="2.5"/><circle cx="155.0" cy="142.0" r="2.5"/><circle cx="165.7" cy="154.3" r="2.5"/><circle cx="153.0" cy="147.6" r="2.5"/><circle cx="239.5" cy="84.8" r="2.5"/><circle cx="209.7" cy="92.3" r="2.5"/><circle cx="186.9" cy="108.0" r="2.5"/><circle cx="144.9" cy="141.1" r="2.5"/><circle cx="168.1" cy="127.1" r="2.5"/><circle cx="213.4" cy="108.9" r="2.5"/><circle cx="200.0" cy="108.1" r="2.5"/><circle cx="138.7" cy="166.5" r="2.5"/><circle cx="148.0" cy="152.8" r="2.5"/><circle cx="166.0" cy="131.3" r="2.5"/><circle cx="154.1" cy="143.4" r="2.5"/><circle cx="136.3" cy="138.8" r="2.5"/><circle cx="182.6" cy="113.4" r="2.5"/><circle cx="252.8" cy="56.8" r="2.5"/><circle cx="223.3" cy="78.9" r="2.5"/><circle cx="134.7" cy="167.4" r="2.5"/><circle cx="144.6" cy="143.3" r="2.5"/><circle cx="158.5" cy="132.4" r="2.5"/><circle cx="165.1" cy="130.4" r="2.5"/><circle cx="197.3" cy="100.9" r="2.5"/><circle cx="177.0" cy="108.1" r="2.5"/><circle cx="225.6" cy="79.5" r="2.5"/><circle cx="242.8" cy="59.3" r="2.5"/><circle cx="239.5" cy="93.5" r="2.5"/><circle cx="181.1" cy="121.0" r="2.5"/><circle cx="218.5" cy="94.9" r="2.5"/><circle cx="244.8" cy="79.3" r="2.5"/><circle cx="173.9" cy="128.5" r="2.5"/><circle cx="187.4" cy="103.5" r="2.5"/><circle cx="171.5" cy="100.7" r="2.5"/><circle cx="193.6" cy="105.4" r="2.5"/><circle cx="201.1" cy="90.0" r="2.5"/><circle cx="161.9" cy="136.8" r="2.5"/><circle cx="196.8" cy="107.2" r="2.5"/><circle cx="166.3" cy="141.0" r="2.5"/><circle cx="113.6" cy="171.0" r="2.5"/><circle cx="208.0" cy="102.8" r="2.5"/><circle cx="123.2" cy="170.7" r="2.5"/><circle cx="175.9" cy="139.3" r="2.5"/><circle cx="127.8" cy="166.4" r="2.5"/><circle cx="238.9" cy="65.9" r="2.5"/><circle cx="116.2" cy="173.6" r="2.5"/><circle cx="212.6" cy="86.1" r="2.5"/><circle cx="233.1" cy="75.3" r="2.5"/><circle cx="182.1" cy="127.6" r="2.5"/><circle cx="155.4" cy="168.4" r="2.5"/><circle cx="134.5" cy="146.9" r="2.5"/><circle cx="124.4" cy="156.6" r="2.5"/><circle cx="232.1" cy="74.1" r="2.5"/><circle cx="214.5" cy="97.2" r="2.5"/><circle cx="252.1" cy="54.4" r="2.5"/><circle cx="185.6" cy="135.4" r="2.5"/><circle cx="201.3" cy="113.8" r="2.5"/><circle cx="226.3" cy="88.2" r="2.5"/><circle cx="174.2" cy="135.9" r="2.5"/><circle cx="201.7" cy="119.3" r="2.5"/><circle cx="136.0" cy="148.9" r="2.5"/><circle cx="244.5" cy="64.2" r="2.5"/><circle cx="192.4" cy="112.6" r="2.5"/><circle cx="176.8" cy="119.2" r="2.5"/><circle cx="112.7" cy="172.0" r="2.5"/><circle cx="142.7" cy="140.9" r="2.5"/><circle cx="222.8" cy="82.6" r="2.5"/><circle cx="144.7" cy="141.9" r="2.5"/><circle cx="184.7" cy="133.5" r="2.5"/><circle cx="161.9" cy="114.0" r="2.5"/><circle cx="216.7" cy="99.7" r="2.5"/><circle cx="162.1" cy="152.3" r="2.5"/><circle cx="110.6" cy="179.8" r="2.5"/><circle cx="186.9" cy="120.2" r="2.5"/><circle cx="135.5" cy="169.3" r="2.5"/><circle cx="147.9" cy="122.9" r="2.5"/><circle cx="196.5" cy="108.8" r="2.5"/><circle cx="181.0" cy="119.9" r="2.5"/><circle cx="161.2" cy="125.8" r="2.5"/><circle cx="155.3" cy="130.9" r="2.5"/><circle cx="155.9" cy="132.9" r="2.5"/><circle cx="173.6" cy="129.2" r="2.5"/><circle cx="146.4" cy="155.2" r="2.5"/><circle cx="223.6" cy="101.2" r="2.5"/><circle cx="181.6" cy="147.4" r="2.5"/><circle cx="91.1" cy="190.0" r="2.5"/><circle cx="175.9" cy="135.2" r="2.5"/><circle cx="172.9" cy="128.1" r="2.5"/><circle cx="207.4" cy="82.0" r="2.5"/><circle cx="178.0" cy="124.0" r="2.5"/><circle cx="177.2" cy="113.5" r="2.5"/><circle cx="165.9" cy="137.7" r="2.5"/><circle cx="162.6" cy="148.5" r="2.5"/><circle cx="149.1" cy="169.6" r="2.5"/><circle cx="111.6" cy="184.0" r="2.5"/><circle cx="165.6" cy="127.3" r="2.5"/><circle cx="152.4" cy="132.9" r="2.5"/><circle cx="195.8" cy="115.7" r="2.5"/><circle cx="232.0" cy="92.3" r="2.5"/><circle cx="110.9" cy="166.9" r="2.5"/><circle cx="304.6" cy="18.7" r="2.5"/><circle cx="139.0" cy="149.4" r="2.5"/><circle cx="131.6" cy="182.1" r="2.5"/><circle cx="238.0" cy="77.4" r="2.5"/><circle cx="145.0" cy="145.2" r="2.5"/><circle cx="184.6" cy="128.5" r="2.5"/><circle cx="220.4" cy="92.8" r="2.5"/><circle cx="227.1" cy="68.5" r="2.5"/><circle cx="174.3" cy="124.3" r="2.5"/><circle cx="242.0" cy="60.8" r="2.5"/><circle cx="188.0" cy="85.5" r="2.5"/><circle cx="112.7" cy="159.6" r="2.5"/><circle cx="144.5" cy="141.9" r="2.5"/><circle cx="227.1" cy="85.7" r="2.5"/><circle cx="128.7" cy="185.7" r="2.5"/><circle cx="155.2" cy="150.6" r="2.5"/><circle cx="247.9" cy="75.0" r="2.5"/><circle cx="206.3" cy="105.1" r="2.5"/><circle cx="223.5" cy="105.3" r="2.5"/><circle cx="162.4" cy="129.6" r="2.5"/><circle cx="173.7" cy="130.1" r="2.5"/><circle cx="115.0" cy="183.7" r="2.5"/><circle cx="164.8" cy="116.8" r="2.5"/><circle cx="95.4" cy="191.7" r="2.5"/><circle cx="216.2" cy="94.3" r="2.5"/><circle cx="193.4" cy="110.6" r="2.5"/><circle cx="183.1" cy="133.0" r="2.5"/><circle cx="173.1" cy="137.3" r="2.5"/><circle cx="175.6" cy="101.2" r="2.5"/><circle cx="187.4" cy="132.5" r="2.5"/><circle cx="214.3" cy="95.6" r="2.5"/><circle cx="222.6" cy="86.3" r="2.5"/><circle cx="135.6" cy="165.4" r="2.5"/><circle cx="163.2" cy="131.8" r="2.5"/><circle cx="171.9" cy="143.5" r="2.5"/><circle cx="187.6" cy="88.6" r="2.5"/><circle cx="243.0" cy="71.3" r="2.5"/><circle cx="190.2" cy="114.0" r="2.5"/><circle cx="237.5" cy="78.9" r="2.5"/><circle cx="130.3" cy="157.9" r="2.5"/><circle cx="146.3" cy="143.5" r="2.5"/><circle cx="141.5" cy="163.7" r="2.5"/><circle cx="163.6" cy="127.5" r="2.5"/><circle cx="233.5" cy="79.7" r="2.5"/><circle cx="130.4" cy="154.1" r="2.5"/><circle cx="174.9" cy="123.5" r="2.5"/><circle cx="118.6" cy="163.9" r="2.5"/><circle cx="205.3" cy="79.4" r="2.5"/><circle cx="209.2" cy="73.3" r="2.5"/><circle cx="258.1" cy="54.4" r="2.5"/><circle cx="243.2" cy="75.1" r="2.5"/><circle cx="175.7" cy="144.2" r="2.5"/><circle cx="181.6" cy="103.2" r="2.5"/><circle cx="199.3" cy="131.6" r="2.5"/><circle cx="188.4" cy="97.7" r="2.5"/><circle cx="130.7" cy="167.4" r="2.5"/><circle cx="246.2" cy="88.9" r="2.5"/><circle cx="159.3" cy="132.7" r="2.5"/><circle cx="141.7" cy="162.6" r="2.5"/><circle cx="252.3" cy="84.6" r="2.5"/><circle cx="134.8" cy="144.2" r="2.5"/><circle cx="167.0" cy="125.6" r="2.5"/><circle cx="156.6" cy="116.8" r="2.5"/><circle cx="128.8" cy="160.5" r="2.5"/><circle cx="137.2" cy="166.8" r="2.5"/><circle cx="131.8" cy="141.7" r="2.5"/><circle cx="190.8" cy="109.3" r="2.5"/><circle cx="155.0" cy="117.8" r="2.5"/><circle cx="73.7" cy="129.3" r="2.5"/><circle cx="170.9" cy="121.7" r="2.5"/><circle cx="144.8" cy="146.6" r="2.5"/><circle cx="175.7" cy="154.4" r="2.5"/><circle cx="260.9" cy="69.8" r="2.5"/><circle cx="231.3" cy="86.1" r="2.5"/><circle cx="232.0" cy="88.1" r="2.5"/><circle cx="232.8" cy="81.8" r="2.5"/><circle cx="119.4" cy="173.2" r="2.5"/><circle cx="168.8" cy="150.1" r="2.5"/><circle cx="178.2" cy="129.0" r="2.5"/><circle cx="124.7" cy="152.5" r="2.5"/><circle cx="202.6" cy="99.4" r="2.5"/><circle cx="120.5" cy="186.0" r="2.5"/><circle cx="139.6" cy="122.3" r="2.5"/><circle cx="170.3" cy="140.5" r="2.5"/><circle cx="241.1" cy="66.3" r="2.5"/><circle cx="152.5" cy="153.9" r="2.5"/><circle cx="158.1" cy="142.3" r="2.5"/><circle cx="140.7" cy="140.1" r="2.5"/><circle cx="213.8" cy="104.8" r="2.5"/><circle cx="229.3" cy="66.6" r="2.5"/><circle cx="116.6" cy="167.6" r="2.5"/><circle cx="187.9" cy="98.4" r="2.5"/><circle cx="226.3" cy="92.5" r="2.5"/><circle cx="130.7" cy="159.7" r="2.5"/><circle cx="160.8" cy="156.4" r="2.5"/><circle cx="196.0" cy="132.9" r="2.5"/><circle cx="143.1" cy="158.8" r="2.5"/><circle cx="150.2" cy="147.0" r="2.5"/><circle cx="189.1" cy="127.7" r="2.5"/><circle cx="151.3" cy="130.7" r="2.5"/><circle cx="280.3" cy="40.4" r="2.5"/><circle cx="168.6" cy="138.7" r="2.5"/><circle cx="177.2" cy="120.8" r="2.5"/><circle cx="150.5" cy="147.7" r="2.5"/><circle cx="145.7" cy="131.5" r="2.5"/><circle cx="123.1" cy="165.7" r="2.5"/><circle cx="182.6" cy="124.6" r="2.5"/><circle cx="198.5" cy="111.0" r="2.5"/><circle cx="156.0" cy="145.1" r="2.5"/><circle cx="152.0" cy="143.1" r="2.5"/><circle cx="115.6" cy="173.6" r="2.5"/><circle cx="125.8" cy="160.6" r="2.5"/><circle cx="213.3" cy="115.5" r="2.5"/><circle cx="148.5" cy="141.0" r="2.5"/><circle cx="151.6" cy="135.2" r="2.5"/><circle cx="162.6" cy="155.4" r="2.5"/><circle cx="251.9" cy="68.1" r="2.5"/><circle cx="248.5" cy="62.2" r="2.5"/><circle cx="156.8" cy="144.2" r="2.5"/><circle cx="156.0" cy="137.2" r="2.5"/><circle cx="176.5" cy="106.7" r="2.5"/><circle cx="205.3" cy="103.6" r="2.5"/><circle cx="156.3" cy="162.6" r="2.5"/><circle cx="199.2" cy="100.8" r="2.5"/><circle cx="201.1" cy="108.9" r="2.5"/><circle cx="137.2" cy="164.6" r="2.5"/><circle cx="238.7" cy="78.2" r="2.5"/><circle cx="214.0" cy="100.4" r="2.5"/><circle cx="178.1" cy="134.9" r="2.5"/><circle cx="213.1" cy="107.5" r="2.5"/><circle cx="123.7" cy="165.3" r="2.5"/><circle cx="172.4" cy="139.5" r="2.5"/><circle cx="153.6" cy="124.1" r="2.5"/><circle cx="194.3" cy="105.9" r="2.5"/><circle cx="145.0" cy="136.7" r="2.5"/><circle cx="175.8" cy="135.7" r="2.5"/><circle cx="108.6" cy="186.6" r="2.5"/><circle cx="166.2" cy="147.2" r="2.5"/><circle cx="236.5" cy="109.5" r="2.5"/><circle cx="184.3" cy="106.3" r="2.5"/><circle cx="208.6" cy="110.5" r="2.5"/><circle cx="230.3" cy="87.6" r="2.5"/><circle cx="188.2" cy="131.9" r="2.5"/><circle cx="305.3" cy="20.9" r="2.5"/><circle cx="193.8" cy="111.2" r="2.5"/><circle cx="118.8" cy="147.0" r="2.5"/><circle cx="150.0" cy="136.0" r="2.5"/><circle cx="295.4" cy="17.9" r="2.5"/><circle cx="184.1" cy="100.0" r="2.5"/><circle cx="184.3" cy="142.6" r="2.5"/><circle cx="133.0" cy="171.8" r="2.5"/><circle cx="167.1" cy="105.8" r="2.5"/><circle cx="180.5" cy="118.0" r="2.5"/><circle cx="227.1" cy="76.4" r="2.5"/><circle cx="150.4" cy="145.3" r="2.5"/><circle cx="187.2" cy="129.9" r="2.5"/><circle cx="198.9" cy="110.8" r="2.5"/><circle cx="221.8" cy="74.1" r="2.5"/><circle cx="152.1" cy="152.0" r="2.5"/><circle cx="206.4" cy="94.0" r="2.5"/><circle cx="163.0" cy="148.2" r="2.5"/><circle cx="201.6" cy="117.1" r="2.5"/><circle cx="144.7" cy="156.1" r="2.5"/><circle cx="259.5" cy="69.0" r="2.5"/><circle cx="154.5" cy="144.1" r="2.5"/><circle cx="205.2" cy="92.2" r="2.5"/><circle cx="174.7" cy="114.9" r="2.5"/><circle cx="111.5" cy="190.6" r="2.5"/><circle cx="225.6" cy="76.7" r="2.5"/><circle cx="133.6" cy="133.5" r="2.5"/><circle cx="154.3" cy="147.7" r="2.5"/><circle cx="170.7" cy="132.1" r="2.5"/><circle cx="249.2" cy="67.1" r="2.5"/><circle cx="219.7" cy="93.6" r="2.5"/><circle cx="230.1" cy="75.2" r="2.5"/><circle cx="126.6" cy="162.1" r="2.5"/><circle cx="175.8" cy="106.7" r="2.5"/><circle cx="130.7" cy="153.5" r="2.5"/><circle cx="234.5" cy="65.7" r="2.5"/><circle cx="125.4" cy="173.3" r="2.5"/><circle cx="300.6" cy="29.2" r="2.5"/><circle cx="155.2" cy="147.3" r="2.5"/><circle cx="116.8" cy="189.5" r="2.5"/><circle cx="142.5" cy="145.3" r="2.5"/><circle cx="204.0" cy="110.7" r="2.5"/><circle cx="145.7" cy="164.3" r="2.5"/><circle cx="244.4" cy="64.3" r="2.5"/><circle cx="165.8" cy="129.6" r="2.5"/><circle cx="148.0" cy="149.6" r="2.5"/><circle cx="178.4" cy="118.5" r="2.5"/><circle cx="223.7" cy="88.3" r="2.5"/><circle cx="153.5" cy="149.3" r="2.5"/><circle cx="163.1" cy="124.7" r="2.5"/><circle cx="146.2" cy="151.3" r="2.5"/><circle cx="172.5" cy="128.7" r="2.5"/><circle cx="235.8" cy="94.6" r="2.5"/><circle cx="234.7" cy="101.2" r="2.5"/><circle cx="208.6" cy="94.3" r="2.5"/><circle cx="217.8" cy="50.5" r="2.5"/><circle cx="132.2" cy="153.2" r="2.5"/><circle cx="159.0" cy="128.0" r="2.5"/><circle cx="202.4" cy="94.9" r="2.5"/><circle cx="213.0" cy="99.1" r="2.5"/><circle cx="163.2" cy="143.5" r="2.5"/><circle cx="182.7" cy="120.0" r="2.5"/><circle cx="201.0" cy="99.4" r="2.5"/><circle cx="214.0" cy="88.7" r="2.5"/><circle cx="133.8" cy="161.8" r="2.5"/><circle cx="138.6" cy="162.9" r="2.5"/><circle cx="207.5" cy="78.0" r="2.5"/><circle cx="153.0" cy="163.5" r="2.5"/><circle cx="215.2" cy="98.0" r="2.5"/><circle cx="179.4" cy="102.0" r="2.5"/><circle cx="234.3" cy="78.2" r="2.5"/><circle cx="176.7" cy="126.2" r="2.5"/><circle cx="132.4" cy="163.0" r="2.5"/><circle cx="167.4" cy="137.8" r="2.5"/><circle cx="129.3" cy="157.3" r="2.5"/><circle cx="121.3" cy="157.5" r="2.5"/><circle cx="205.2" cy="101.7" r="2.5"/><circle cx="225.1" cy="67.5" r="2.5"/><circle cx="253.4" cy="55.0" r="2.5"/><circle cx="143.1" cy="136.3" r="2.5"/><circle cx="188.3" cy="107.8" r="2.5"/><circle cx="221.0" cy="75.0" r="2.5"/><circle cx="166.2" cy="140.7" r="2.5"/><circle cx="221.6" cy="67.6" r="2.5"/><circle cx="162.9" cy="146.1" r="2.5"/><circle cx="161.3" cy="123.3" r="2.5"/><circle cx="156.7" cy="146.9" r="2.5"/><circle cx="165.8" cy="128.0" r="2.5"/><circle cx="156.6" cy="128.9" r="2.5"/><circle cx="187.5" cy="98.2" r="2.5"/><circle cx="176.9" cy="109.5" r="2.5"/><circle cx="149.5" cy="144.5" r="2.5"/><circle cx="128.1" cy="167.3" r="2.5"/><circle cx="170.7" cy="137.2" r="2.5"/><circle cx="207.6" cy="123.6" r="2.5"/><circle cx="162.2" cy="145.9" r="2.5"/><circle cx="245.7" cy="61.6" r="2.5"/><circle cx="140.0" cy="145.8" r="2.5"/><circle cx="147.0" cy="163.5" r="2.5"/><circle cx="193.8" cy="90.2" r="2.5"/><circle cx="147.3" cy="132.5" r="2.5"/><circle cx="252.8" cy="83.1" r="2.5"/><circle cx="203.3" cy="99.8" r="2.5"/><circle cx="215.3" cy="88.5" r="2.5"/><circle cx="186.4" cy="120.8" r="2.5"/><circle cx="192.6" cy="113.0" r="2.5"/><circle cx="196.4" cy="106.3" r="2.5"/><circle cx="173.9" cy="138.4" r="2.5"/><circle cx="171.2" cy="117.8" r="2.5"/><circle cx="156.2" cy="158.6" r="2.5"/><circle cx="151.1" cy="154.9" r="2.5"/><circle cx="176.1" cy="126.1" r="2.5"/><circle cx="169.5" cy="149.3" r="2.5"/><circle cx="245.6" cy="69.2" r="2.5"/><circle cx="125.1" cy="176.9" r="2.5"/><circle cx="168.7" cy="109.5" r="2.5"/><circle cx="171.8" cy="135.2" r="2.5"/><circle cx="169.0" cy="137.1" r="2.5"/><circle cx="203.4" cy="75.5" r="2.5"/><circle cx="192.8" cy="97.7" r="2.5"/><circle cx="233.9" cy="95.7" r="2.5"/><circle cx="224.2" cy="99.5" r="2.5"/><circle cx="206.8" cy="122.5" r="2.5"/><circle cx="153.3" cy="141.3" r="2.5"/><circle cx="149.2" cy="141.5" r="2.5"/><circle cx="169.9" cy="125.9" r="2.5"/><circle cx="190.0" cy="122.6" r="2.5"/><circle cx="156.2" cy="133.2" r="2.5"/><circle cx="164.3" cy="135.2" r="2.5"/><circle cx="155.0" cy="142.6" r="2.5"/><circle cx="166.7" cy="128.7" r="2.5"/><circle cx="175.8" cy="121.8" r="2.5"/><circle cx="206.7" cy="101.9" r="2.5"/><circle cx="183.2" cy="114.8" r="2.5"/><circle cx="201.5" cy="119.7" r="2.5"/><circle cx="158.4" cy="131.3" r="2.5"/><circle cx="157.4" cy="156.9" r="2.5"/><circle cx="270.3" cy="45.6" r="2.5"/><circle cx="86.5" cy="190.5" r="2.5"/><circle cx="151.3" cy="138.4" r="2.5"/><circle cx="178.3" cy="111.9" r="2.5"/><circle cx="137.2" cy="176.6" r="2.5"/><circle cx="197.7" cy="110.8" r="2.5"/><circle cx="149.0" cy="155.4" r="2.5"/><circle cx="171.0" cy="142.2" r="2.5"/><circle cx="156.9" cy="153.4" r="2.5"/><circle cx="136.4" cy="140.0" r="2.5"/><circle cx="160.0" cy="135.6" r="2.5"/><circle cx="208.8" cy="132.3" r="2.5"/><circle cx="173.8" cy="128.6" r="2.5"/><circle cx="195.6" cy="91.9" r="2.5"/><circle cx="225.2" cy="93.9" r="2.5"/><circle cx="171.4" cy="113.8" r="2.5"/><circle cx="237.0" cy="84.6" r="2.5"/><circle cx="262.3" cy="50.1" r="2.5"/><circle cx="149.2" cy="150.9" r="2.5"/><circle cx="197.3" cy="108.7" r="2.5"/><circle cx="142.0" cy="140.0" r="2.5"/><circle cx="244.2" cy="66.7" r="2.5"/><circle cx="192.2" cy="132.4" r="2.5"/><circle cx="204.9" cy="106.7" r="2.5"/><circle cx="112.6" cy="163.6" r="2.5"/><circle cx="153.8" cy="138.0" r="2.5"/><circle cx="216.8" cy="93.3" r="2.5"/><circle cx="213.3" cy="90.9" r="2.5"/><circle cx="144.4" cy="157.6" r="2.5"/><circle cx="138.0" cy="168.0" r="2.5"/><circle cx="140.9" cy="118.6" r="2.5"/><circle cx="149.2" cy="140.0" r="2.5"/><circle cx="209.3" cy="122.2" r="2.5"/><circle cx="167.0" cy="119.8" r="2.5"/><circle cx="166.6" cy="146.1" r="2.5"/><circle cx="208.2" cy="104.0" r="2.5"/><circle cx="176.3" cy="111.2" r="2.5"/><circle cx="242.3" cy="76.0" r="2.5"/><circle cx="226.9" cy="92.7" r="2.5"/><circle cx="138.4" cy="142.9" r="2.5"/><circle cx="133.8" cy="152.8" r="2.5"/><circle cx="181.8" cy="117.2" r="2.5"/><circle cx="151.1" cy="144.9" r="2.5"/><circle cx="191.1" cy="90.6" r="2.5"/><circle cx="205.0" cy="115.7" r="2.5"/><circle cx="198.7" cy="111.8" r="2.5"/><circle cx="233.1" cy="82.2" r="2.5"/></g>
</g>
<rect x="46.8" y="7.7" width="278.7" height="225.3" fill="none" stroke="#606060" stroke-width="1.6"/>
<clipPath id="dL"><rect x="46.199999999999996" y="7.1000000000000005" width="279.9" height="226.5"/></clipPath>
<g clip-path="url(#dL)">
<line x1="41.23" y1="237.00" x2="331.07" y2="3.00" stroke="#000" stroke-width="1.2"/>
<line x1="46.80" y1="221.20" x2="381.24" y2="-48.80" stroke="#dc1f26" stroke-width="1.3" stroke-dasharray="5.7 5.7"/>
<line x1="46.80" y1="243.80" x2="381.24" y2="-26.21" stroke="#dc1f26" stroke-width="1.3" stroke-dasharray="5.7 5.7"/>
</g>
<path d="M46.80 233.0v-4.4 M46.8 232.50h4.4 M74.67 233.0v-2.6 M46.8 210.00h2.6 M102.54 233.0v-4.4 M46.8 187.50h4.4 M130.41 233.0v-2.6 M46.8 165.00h2.6 M158.28 233.0v-4.4 M46.8 142.50h4.4 M186.15 233.0v-2.6 M46.8 120.00h2.6 M214.02 233.0v-4.4 M46.8 97.50h4.4 M241.89 233.0v-2.6 M46.8 75.00h2.6 M269.76 233.0v-4.4 M46.8 52.50h4.4 M297.63 233.0v-2.6 M46.8 30.00h2.6 M325.50 233.0v-4.4 M46.8 7.50h4.4" stroke="#606060" stroke-width="1.4" fill="none"/>
<text x="25.8" y="255" font-size="14.8" font-family="'Liberation Serif', serif">10</text>
<text x="41.9" y="244.6" font-size="10.7" font-family="'Liberation Serif', serif">−7</text>
<text x="21.3" y="243.7" font-size="14.9" font-family="'Liberation Serif', serif">10</text>
<text x="32.3" y="231.7" font-size="10.5" font-family="'Liberation Serif', serif">−7</text>
<text x="81.5" y="255" font-size="14.8" font-family="'Liberation Serif', serif">10</text>
<text x="97.6" y="244.6" font-size="10.7" font-family="'Liberation Serif', serif">−6</text>
<text x="21.3" y="198.7" font-size="14.9" font-family="'Liberation Serif', serif">10</text>
<text x="32.3" y="186.7" font-size="10.5" font-family="'Liberation Serif', serif">−6</text>
<text x="137.3" y="255" font-size="14.8" font-family="'Liberation Serif', serif">10</text>
<text x="153.4" y="244.6" font-size="10.7" font-family="'Liberation Serif', serif">−5</text>
<text x="21.3" y="153.7" font-size="14.9" font-family="'Liberation Serif', serif">10</text>
<text x="32.3" y="141.7" font-size="10.5" font-family="'Liberation Serif', serif">−5</text>
<text x="193.0" y="255" font-size="14.8" font-family="'Liberation Serif', serif">10</text>
<text x="209.1" y="244.6" font-size="10.7" font-family="'Liberation Serif', serif">−4</text>
<text x="21.3" y="108.7" font-size="14.9" font-family="'Liberation Serif', serif">10</text>
<text x="32.3" y="96.7" font-size="10.5" font-family="'Liberation Serif', serif">−4</text>
<text x="248.8" y="255" font-size="14.8" font-family="'Liberation Serif', serif">10</text>
<text x="264.9" y="244.6" font-size="10.7" font-family="'Liberation Serif', serif">−3</text>
<text x="21.3" y="63.7" font-size="14.9" font-family="'Liberation Serif', serif">10</text>
<text x="32.3" y="51.7" font-size="10.5" font-family="'Liberation Serif', serif">−3</text>
<text x="304.5" y="255" font-size="14.8" font-family="'Liberation Serif', serif">10</text>
<text x="320.6" y="244.6" font-size="10.7" font-family="'Liberation Serif', serif">−2</text>
<text x="21.3" y="18.7" font-size="14.9" font-family="'Liberation Serif', serif">10</text>
<text x="32.3" y="6.7" font-size="10.5" font-family="'Liberation Serif', serif">−2</text>
<text x="185.7" y="270.9" font-size="14.9" text-anchor="middle" font-family="'Liberation Serif', serif">True MDR</text>
<text transform="translate(13.8,129.0) rotate(-90)" font-size="15.0" text-anchor="middle" font-family="'Liberation Serif', serif">Predicted MDR</text>
<rect x="53.4" y="13.2" width="100.1" height="44.1" fill="#fff" stroke="#787878" stroke-width="1"/>
<circle cx="67.8" cy="21.7" r="2.4" fill="rgb(8, 116, 200)" fill-opacity="0.55"/>
<line x1="54.8" y1="35.8" x2="81.1" y2="35.8" stroke="#9a9a9a" stroke-width="1"/>
<line x1="54.5" y1="50.1" x2="81.8" y2="50.1" stroke="#e2231a" stroke-width="1.4" stroke-dasharray="5.4 5.4"/>
<text x="83.2" y="25.1" font-size="11.7" font-family="'Liberation Serif', serif">Data</text>
<text x="83.2" y="39.8" font-size="11.7" font-family="'Liberation Serif', serif">1:1 line</text>
<text x="82.5" y="53.9" font-size="11.7" font-family="'Liberation Serif', serif">±1 SD of error</text>
<clipPath id="cR"><rect x="400.3" y="7.7" width="278.3" height="225.4"/></clipPath>
<g clip-path="url(#cR)">
<g fill="rgb(8, 116, 200)" fill-opacity="0.55"><circle cx="515.5" cy="141.3" r="2.5"/><circle cx="460.9" cy="182.3" r="2.5"/><circle cx="520.9" cy="134.9" r="2.5"/><circle cx="487.6" cy="153.2" r="2.5"/><circle cx="549.5" cy="109.6" r="2.5"/><circle cx="549.3" cy="114.5" r="2.5"/><circle cx="539.2" cy="123.0" r="2.5"/><circle cx="534.6" cy="142.7" r="2.5"/><circle cx="557.0" cy="74.8" r="2.5"/><circle cx="515.9" cy="142.6" r="2.5"/><circle cx="514.0" cy="153.9" r="2.5"/><circle cx="496.2" cy="139.5" r="2.5"/><circle cx="525.0" cy="137.6" r="2.5"/><circle cx="531.9" cy="124.8" r="2.5"/><circle cx="506.9" cy="145.8" r="2.5"/><circle cx="555.6" cy="105.0" r="2.5"/><circle cx="476.7" cy="169.8" r="2.5"/><circle cx="533.7" cy="113.0" r="2.5"/><circle cx="523.1" cy="129.3" r="2.5"/><circle cx="505.8" cy="148.6" r="2.5"/><circle cx="592.5" cy="73.0" r="2.5"/><circle cx="553.5" cy="115.7" r="2.5"/><circle cx="555.3" cy="95.3" r="2.5"/><circle cx="497.0" cy="159.7" r="2.5"/><circle cx="536.5" cy="128.2" r="2.5"/><circle cx="496.9" cy="156.9" r="2.5"/><circle cx="537.4" cy="105.1" r="2.5"/><circle cx="549.6" cy="111.8" r="2.5"/><circle cx="475.9" cy="167.5" r="2.5"/><circle cx="458.0" cy="177.6" r="2.5"/><circle cx="488.9" cy="160.2" r="2.5"/><circle cx="445.1" cy="193.6" r="2.5"/><circle cx="528.3" cy="150.3" r="2.5"/><circle cx="517.9" cy="119.3" r="2.5"/><circle cx="569.2" cy="88.8" r="2.5"/><circle cx="526.9" cy="126.0" r="2.5"/><circle cx="528.4" cy="125.7" r="2.5"/><circle cx="604.8" cy="58.4" r="2.5"/><circle cx="546.2" cy="135.4" r="2.5"/><circle cx="549.5" cy="110.7" r="2.5"/><circle cx="468.9" cy="179.3" r="2.5"/><circle cx="500.5" cy="153.4" r="2.5"/><circle cx="561.8" cy="92.2" r="2.5"/><circle cx="504.1" cy="154.9" r="2.5"/><circle cx="544.4" cy="126.9" r="2.5"/><circle cx="588.8" cy="61.0" r="2.5"/><circle cx="483.0" cy="164.1" r="2.5"/><circle cx="506.2" cy="143.3" r="2.5"/><circle cx="545.6" cy="110.6" r="2.5"/><circle cx="518.0" cy="116.7" r="2.5"/><circle cx="542.4" cy="119.5" r="2.5"/><circle cx="572.7" cy="91.5" r="2.5"/><circle cx="512.3" cy="146.8" r="2.5"/><circle cx="459.7" cy="180.6" r="2.5"/><circle cx="513.6" cy="121.6" r="2.5"/><circle cx="528.0" cy="141.8" r="2.5"/><circle cx="485.0" cy="167.9" r="2.5"/><circle cx="457.4" cy="175.4" r="2.5"/><circle cx="473.3" cy="159.6" r="2.5"/><circle cx="532.2" cy="116.0" r="2.5"/><circle cx="482.2" cy="175.5" r="2.5"/><circle cx="505.6" cy="151.5" r="2.5"/><circle cx="470.9" cy="171.2" r="2.5"/><circle cx="526.8" cy="121.4" r="2.5"/><circle cx="537.3" cy="143.1" r="2.5"/><circle cx="517.7" cy="128.1" r="2.5"/><circle cx="520.6" cy="131.0" r="2.5"/><circle cx="554.8" cy="104.7" r="2.5"/><circle cx="471.0" cy="168.3" r="2.5"/><circle cx="564.7" cy="79.2" r="2.5"/><circle cx="595.9" cy="71.2" r="2.5"/><circle cx="566.5" cy="109.9" r="2.5"/><circle cx="543.6" cy="116.1" r="2.5"/><circle cx="566.9" cy="92.5" r="2.5"/><circle cx="513.9" cy="135.4" r="2.5"/><circle cx="545.9" cy="114.7" r="2.5"/><circle cx="562.9" cy="102.2" r="2.5"/><circle cx="535.6" cy="118.7" r="2.5"/><circle cx="539.5" cy="122.6" r="2.5"/><circle cx="529.6" cy="110.8" r="2.5"/><circle cx="534.0" cy="109.6" r="2.5"/><circle cx="615.0" cy="47.5" r="2.5"/><circle cx="612.3" cy="65.4" r="2.5"/><circle cx="564.6" cy="89.9" r="2.5"/><circle cx="525.9" cy="134.9" r="2.5"/><circle cx="477.7" cy="154.7" r="2.5"/><circle cx="514.3" cy="142.3" r="2.5"/><circle cx="580.4" cy="93.9" r="2.5"/><circle cx="526.3" cy="131.3" r="2.5"/><circle cx="535.5" cy="115.3" r="2.5"/><circle cx="510.2" cy="150.5" r="2.5"/><circle cx="530.3" cy="130.1" r="2.5"/><circle cx="511.0" cy="147.0" r="2.5"/><circle cx="537.4" cy="141.1" r="2.5"/><circle cx="505.7" cy="145.5" r="2.5"/><circle cx="518.4" cy="141.8" r="2.5"/><circle cx="529.0" cy="115.9" r="2.5"/><circle cx="476.8" cy="165.2" r="2.5"/><circle cx="609.8" cy="58.3" r="2.5"/><circle cx="516.5" cy="145.6" r="2.5"/><circle cx="520.7" cy="135.9" r="2.5"/><circle cx="547.7" cy="114.0" r="2.5"/><circle cx="537.1" cy="117.7" r="2.5"/><circle cx="572.5" cy="105.2" r="2.5"/><circle cx="544.1" cy="111.4" r="2.5"/><circle cx="546.4" cy="59.7" r="2.5"/><circle cx="541.5" cy="143.7" r="2.5"/><circle cx="537.9" cy="109.9" r="2.5"/><circle cx="487.1" cy="157.3" r="2.5"/><circle cx="512.2" cy="142.8" r="2.5"/><circle cx="508.5" cy="143.1" r="2.5"/><circle cx="592.2" cy="78.5" r="2.5"/><circle cx="536.0" cy="127.3" r="2.5"/><circle cx="525.7" cy="135.8" r="2.5"/><circle cx="549.1" cy="119.4" r="2.5"/><circle cx="537.5" cy="111.1" r="2.5"/><circle cx="590.7" cy="83.9" r="2.5"/><circle cx="546.7" cy="113.3" r="2.5"/><circle cx="547.6" cy="112.6" r="2.5"/><circle cx="523.9" cy="122.0" r="2.5"/><circle cx="538.2" cy="113.2" r="2.5"/><circle cx="539.9" cy="126.5" r="2.5"/><circle cx="568.7" cy="97.3" r="2.5"/><circle cx="506.8" cy="150.2" r="2.5"/><circle cx="602.4" cy="69.5" r="2.5"/><circle cx="541.7" cy="127.1" r="2.5"/><circle cx="599.0" cy="80.8" r="2.5"/><circle cx="543.1" cy="124.4" r="2.5"/><circle cx="564.5" cy="98.7" r="2.5"/><circle cx="509.3" cy="143.0" r="2.5"/><circle cx="528.8" cy="137.3" r="2.5"/><circle cx="499.7" cy="164.0" r="2.5"/><circle cx="566.9" cy="80.4" r="2.5"/><circle cx="550.9" cy="133.3" r="2.5"/><circle cx="474.0" cy="162.6" r="2.5"/><circle cx="564.2" cy="93.6" r="2.5"/><circle cx="576.7" cy="81.1" r="2.5"/><circle cx="527.9" cy="136.3" r="2.5"/><circle cx="464.1" cy="172.9" r="2.5"/><circle cx="558.4" cy="104.0" r="2.5"/><circle cx="480.8" cy="167.8" r="2.5"/><circle cx="578.8" cy="93.2" r="2.5"/><circle cx="603.2" cy="59.1" r="2.5"/><circle cx="524.4" cy="131.1" r="2.5"/><circle cx="531.3" cy="124.8" r="2.5"/><circle cx="549.4" cy="111.0" r="2.5"/><circle cx="510.4" cy="122.4" r="2.5"/><circle cx="554.6" cy="92.3" r="2.5"/><circle cx="494.2" cy="165.2" r="2.5"/><circle cx="606.5" cy="54.9" r="2.5"/><circle cx="510.8" cy="136.6" r="2.5"/><circle cx="543.8" cy="112.2" r="2.5"/><circle cx="536.4" cy="131.7" r="2.5"/><circle cx="522.5" cy="139.1" r="2.5"/><circle cx="597.9" cy="68.1" r="2.5"/><circle cx="546.4" cy="106.8" r="2.5"/><circle cx="528.3" cy="168.8" r="2.5"/><circle cx="526.4" cy="119.2" r="2.5"/><circle cx="599.1" cy="81.8" r="2.5"/><circle cx="521.4" cy="121.2" r="2.5"/><circle cx="591.1" cy="69.1" r="2.5"/><circle cx="498.5" cy="149.5" r="2.5"/><circle cx="482.3" cy="167.3" r="2.5"/><circle cx="516.6" cy="132.0" r="2.5"/><circle cx="540.7" cy="104.4" r="2.5"/><circle cx="529.3" cy="127.0" r="2.5"/><circle cx="506.1" cy="135.2" r="2.5"/><circle cx="518.7" cy="122.2" r="2.5"/><circle cx="543.0" cy="127.1" r="2.5"/><circle cx="573.4" cy="106.6" r="2.5"/><circle cx="488.8" cy="151.5" r="2.5"/><circle cx="535.7" cy="130.1" r="2.5"/><circle cx="514.0" cy="141.1" r="2.5"/><circle cx="547.5" cy="124.7" r="2.5"/><circle cx="609.7" cy="64.9" r="2.5"/><circle cx="495.5" cy="164.5" r="2.5"/><circle cx="523.2" cy="137.1" r="2.5"/><circle cx="509.0" cy="138.4" r="2.5"/><circle cx="525.5" cy="135.5" r="2.5"/><circle cx="614.7" cy="52.5" r="2.5"/><circle cx="529.4" cy="125.6" r="2.5"/><circle cx="551.8" cy="109.8" r="2.5"/><circle cx="453.6" cy="185.1" r="2.5"/><circle cx="500.3" cy="141.9" r="2.5"/><circle cx="500.2" cy="151.4" r="2.5"/><circle cx="455.9" cy="190.0" r="2.5"/><circle cx="531.6" cy="137.6" r="2.5"/><circle cx="538.5" cy="109.4" r="2.5"/><circle cx="546.7" cy="106.0" r="2.5"/><circle cx="615.1" cy="39.1" r="2.5"/><circle cx="546.0" cy="99.9" r="2.5"/><circle cx="603.9" cy="58.0" r="2.5"/><circle cx="470.1" cy="163.6" r="2.5"/><circle cx="507.5" cy="118.1" r="2.5"/><circle cx="528.7" cy="130.5" r="2.5"/><circle cx="596.7" cy="49.1" r="2.5"/><circle cx="541.4" cy="119.1" r="2.5"/><circle cx="620.6" cy="54.4" r="2.5"/><circle cx="527.9" cy="128.2" r="2.5"/><circle cx="531.9" cy="125.4" r="2.5"/><circle cx="497.0" cy="152.9" r="2.5"/><circle cx="530.1" cy="104.6" r="2.5"/><circle cx="527.9" cy="134.9" r="2.5"/><circle cx="517.6" cy="135.6" r="2.5"/><circle cx="530.9" cy="115.0" r="2.5"/><circle cx="533.5" cy="123.5" r="2.5"/><circle cx="565.9" cy="97.9" r="2.5"/><circle cx="511.4" cy="139.3" r="2.5"/><circle cx="514.7" cy="131.5" r="2.5"/><circle cx="601.5" cy="74.9" r="2.5"/><circle cx="522.3" cy="121.5" r="2.5"/><circle cx="603.2" cy="58.0" r="2.5"/><circle cx="556.5" cy="120.9" r="2.5"/><circle cx="503.0" cy="158.6" r="2.5"/><circle cx="594.9" cy="67.6" r="2.5"/><circle cx="531.5" cy="149.3" r="2.5"/><circle cx="499.9" cy="150.8" r="2.5"/><circle cx="603.8" cy="78.9" r="2.5"/><circle cx="553.7" cy="119.4" r="2.5"/><circle cx="541.0" cy="118.7" r="2.5"/><circle cx="560.4" cy="95.6" r="2.5"/><circle cx="478.9" cy="166.0" r="2.5"/><circle cx="497.1" cy="163.9" r="2.5"/><circle cx="472.3" cy="179.5" r="2.5"/><circle cx="549.4" cy="121.0" r="2.5"/><circle cx="508.2" cy="129.2" r="2.5"/><circle cx="507.5" cy="154.5" r="2.5"/><circle cx="548.3" cy="110.1" r="2.5"/><circle cx="518.4" cy="142.1" r="2.5"/><circle cx="540.6" cy="119.3" r="2.5"/><circle cx="504.5" cy="146.4" r="2.5"/><circle cx="551.0" cy="107.4" r="2.5"/><circle cx="560.4" cy="125.2" r="2.5"/><circle cx="578.9" cy="92.8" r="2.5"/><circle cx="522.7" cy="135.9" r="2.5"/><circle cx="529.1" cy="149.1" r="2.5"/><circle cx="452.8" cy="180.2" r="2.5"/><circle cx="568.1" cy="101.8" r="2.5"/><circle cx="462.4" cy="175.9" r="2.5"/><circle cx="547.5" cy="111.6" r="2.5"/><circle cx="567.6" cy="76.5" r="2.5"/><circle cx="530.2" cy="132.9" r="2.5"/><circle cx="519.9" cy="133.3" r="2.5"/><circle cx="598.4" cy="70.1" r="2.5"/><circle cx="546.1" cy="121.9" r="2.5"/><circle cx="597.5" cy="93.1" r="2.5"/><circle cx="464.1" cy="182.8" r="2.5"/><circle cx="485.4" cy="167.8" r="2.5"/><circle cx="586.4" cy="87.2" r="2.5"/><circle cx="555.7" cy="101.2" r="2.5"/><circle cx="557.2" cy="102.3" r="2.5"/><circle cx="501.7" cy="152.8" r="2.5"/><circle cx="553.7" cy="111.1" r="2.5"/><circle cx="573.9" cy="92.5" r="2.5"/><circle cx="481.5" cy="166.3" r="2.5"/><circle cx="521.7" cy="130.6" r="2.5"/><circle cx="572.3" cy="98.7" r="2.5"/><circle cx="495.7" cy="144.6" r="2.5"/><circle cx="530.7" cy="116.4" r="2.5"/><circle cx="533.1" cy="132.5" r="2.5"/><circle cx="535.6" cy="134.2" r="2.5"/><circle cx="528.3" cy="83.4" r="2.5"/><circle cx="459.8" cy="176.5" r="2.5"/><circle cx="514.4" cy="136.2" r="2.5"/><circle cx="541.1" cy="114.5" r="2.5"/><circle cx="545.8" cy="119.8" r="2.5"/><circle cx="575.3" cy="85.7" r="2.5"/><circle cx="531.7" cy="121.9" r="2.5"/><circle cx="503.0" cy="154.7" r="2.5"/><circle cx="533.7" cy="126.8" r="2.5"/><circle cx="525.1" cy="117.0" r="2.5"/><circle cx="556.0" cy="114.1" r="2.5"/><circle cx="536.3" cy="112.1" r="2.5"/><circle cx="504.4" cy="147.9" r="2.5"/><circle cx="585.5" cy="69.0" r="2.5"/><circle cx="503.4" cy="154.6" r="2.5"/><circle cx="532.9" cy="132.4" r="2.5"/><circle cx="502.8" cy="155.3" r="2.5"/><circle cx="534.5" cy="136.4" r="2.5"/><circle cx="549.2" cy="100.3" r="2.5"/><circle cx="570.0" cy="86.5" r="2.5"/><circle cx="541.8" cy="117.6" r="2.5"/><circle cx="601.4" cy="60.2" r="2.5"/><circle cx="559.1" cy="114.8" r="2.5"/><circle cx="548.3" cy="109.1" r="2.5"/><circle cx="504.6" cy="153.8" r="2.5"/><circle cx="456.0" cy="186.4" r="2.5"/><circle cx="529.2" cy="101.8" r="2.5"/><circle cx="598.0" cy="90.8" r="2.5"/><circle cx="532.5" cy="136.1" r="2.5"/><circle cx="533.8" cy="119.6" r="2.5"/><circle cx="532.3" cy="104.6" r="2.5"/><circle cx="543.4" cy="109.4" r="2.5"/><circle cx="614.5" cy="60.2" r="2.5"/><circle cx="484.3" cy="170.0" r="2.5"/><circle cx="579.9" cy="102.3" r="2.5"/><circle cx="528.1" cy="128.1" r="2.5"/><circle cx="550.8" cy="124.5" r="2.5"/><circle cx="542.5" cy="131.6" r="2.5"/><circle cx="553.6" cy="107.6" r="2.5"/><circle cx="613.3" cy="57.8" r="2.5"/><circle cx="447.0" cy="182.1" r="2.5"/><circle cx="523.0" cy="131.9" r="2.5"/><circle cx="476.0" cy="171.5" r="2.5"/><circle cx="509.2" cy="139.1" r="2.5"/><circle cx="537.5" cy="139.2" r="2.5"/><circle cx="470.4" cy="173.7" r="2.5"/><circle cx="518.9" cy="150.7" r="2.5"/><circle cx="555.6" cy="107.6" r="2.5"/><circle cx="525.3" cy="127.8" r="2.5"/><circle cx="494.7" cy="160.5" r="2.5"/><circle cx="526.9" cy="127.8" r="2.5"/><circle cx="573.4" cy="69.5" r="2.5"/><circle cx="552.8" cy="100.1" r="2.5"/><circle cx="480.7" cy="165.7" r="2.5"/><circle cx="491.7" cy="154.8" r="2.5"/><circle cx="507.5" cy="142.3" r="2.5"/><circle cx="548.8" cy="120.3" r="2.5"/><circle cx="521.1" cy="132.7" r="2.5"/><circle cx="509.0" cy="159.8" r="2.5"/><circle cx="552.6" cy="116.5" r="2.5"/><circle cx="527.3" cy="122.1" r="2.5"/><circle cx="572.9" cy="84.6" r="2.5"/><circle cx="573.5" cy="87.1" r="2.5"/><circle cx="505.3" cy="147.1" r="2.5"/><circle cx="501.1" cy="143.6" r="2.5"/><circle cx="531.2" cy="126.8" r="2.5"/><circle cx="484.5" cy="155.5" r="2.5"/><circle cx="567.7" cy="107.5" r="2.5"/><circle cx="522.1" cy="113.6" r="2.5"/><circle cx="523.4" cy="144.6" r="2.5"/><circle cx="512.1" cy="128.6" r="2.5"/><circle cx="591.1" cy="83.6" r="2.5"/><circle cx="477.9" cy="170.5" r="2.5"/><circle cx="519.2" cy="136.8" r="2.5"/><circle cx="553.1" cy="125.2" r="2.5"/><circle cx="478.4" cy="169.6" r="2.5"/><circle cx="486.1" cy="159.3" r="2.5"/><circle cx="466.1" cy="180.0" r="2.5"/><circle cx="534.4" cy="118.0" r="2.5"/><circle cx="459.6" cy="176.7" r="2.5"/><circle cx="554.8" cy="106.4" r="2.5"/><circle cx="554.0" cy="116.2" r="2.5"/><circle cx="587.0" cy="87.9" r="2.5"/><circle cx="480.3" cy="172.0" r="2.5"/><circle cx="589.5" cy="67.5" r="2.5"/><circle cx="590.0" cy="70.1" r="2.5"/><circle cx="469.9" cy="176.9" r="2.5"/><circle cx="534.1" cy="115.9" r="2.5"/><circle cx="498.1" cy="152.1" r="2.5"/><circle cx="542.7" cy="122.8" r="2.5"/><circle cx="464.1" cy="187.0" r="2.5"/><circle cx="499.7" cy="143.3" r="2.5"/><circle cx="511.8" cy="130.5" r="2.5"/><circle cx="543.7" cy="124.1" r="2.5"/><circle cx="539.1" cy="123.3" r="2.5"/><circle cx="526.7" cy="120.2" r="2.5"/><circle cx="514.0" cy="146.0" r="2.5"/><circle cx="468.5" cy="179.1" r="2.5"/><circle cx="522.8" cy="142.2" r="2.5"/><circle cx="576.3" cy="109.5" r="2.5"/><circle cx="478.9" cy="169.3" r="2.5"/><circle cx="483.8" cy="167.4" r="2.5"/><circle cx="471.2" cy="167.3" r="2.5"/><circle cx="581.2" cy="92.0" r="2.5"/><circle cx="622.6" cy="53.7" r="2.5"/><circle cx="513.0" cy="141.7" r="2.5"/><circle cx="508.3" cy="152.2" r="2.5"/><circle cx="546.4" cy="114.4" r="2.5"/><circle cx="507.0" cy="145.1" r="2.5"/><circle cx="577.9" cy="76.2" r="2.5"/><circle cx="603.2" cy="60.5" r="2.5"/><circle cx="552.1" cy="115.7" r="2.5"/><circle cx="550.8" cy="106.2" r="2.5"/><circle cx="604.2" cy="66.0" r="2.5"/><circle cx="539.8" cy="88.3" r="2.5"/><circle cx="577.7" cy="76.8" r="2.5"/><circle cx="546.9" cy="117.4" r="2.5"/><circle cx="479.3" cy="175.6" r="2.5"/><circle cx="560.3" cy="103.8" r="2.5"/><circle cx="528.3" cy="127.0" r="2.5"/><circle cx="516.5" cy="150.0" r="2.5"/><circle cx="506.2" cy="134.0" r="2.5"/><circle cx="470.7" cy="186.0" r="2.5"/><circle cx="535.9" cy="102.4" r="2.5"/><circle cx="509.5" cy="119.8" r="2.5"/><circle cx="506.2" cy="143.0" r="2.5"/><circle cx="478.1" cy="164.8" r="2.5"/><circle cx="511.7" cy="137.0" r="2.5"/><circle cx="497.9" cy="163.8" r="2.5"/><circle cx="524.3" cy="135.4" r="2.5"/><circle cx="446.5" cy="186.4" r="2.5"/><circle cx="580.9" cy="80.0" r="2.5"/><circle cx="604.7" cy="59.7" r="2.5"/><circle cx="562.3" cy="101.4" r="2.5"/><circle cx="478.5" cy="172.6" r="2.5"/><circle cx="556.2" cy="99.2" r="2.5"/><circle cx="564.2" cy="111.2" r="2.5"/><circle cx="523.1" cy="152.1" r="2.5"/><circle cx="542.9" cy="116.9" r="2.5"/><circle cx="542.8" cy="104.2" r="2.5"/><circle cx="524.9" cy="146.0" r="2.5"/><circle cx="590.8" cy="88.9" r="2.5"/><circle cx="540.4" cy="124.0" r="2.5"/><circle cx="531.6" cy="142.4" r="2.5"/><circle cx="489.3" cy="177.4" r="2.5"/><circle cx="451.1" cy="185.4" r="2.5"/><circle cx="543.9" cy="103.3" r="2.5"/><circle cx="539.2" cy="115.4" r="2.5"/><circle cx="490.0" cy="167.4" r="2.5"/><circle cx="560.9" cy="102.8" r="2.5"/><circle cx="542.0" cy="122.6" r="2.5"/><circle cx="509.0" cy="142.2" r="2.5"/><circle cx="528.9" cy="130.2" r="2.5"/><circle cx="451.4" cy="179.2" r="2.5"/><circle cx="540.5" cy="137.3" r="2.5"/><circle cx="552.2" cy="111.5" r="2.5"/><circle cx="552.9" cy="115.9" r="2.5"/><circle cx="540.8" cy="127.8" r="2.5"/><circle cx="528.6" cy="122.2" r="2.5"/><circle cx="500.5" cy="162.1" r="2.5"/><circle cx="561.9" cy="93.8" r="2.5"/><circle cx="462.8" cy="177.0" r="2.5"/><circle cx="518.2" cy="142.1" r="2.5"/><circle cx="519.7" cy="132.0" r="2.5"/><circle cx="589.9" cy="74.3" r="2.5"/><circle cx="502.8" cy="154.0" r="2.5"/><circle cx="475.8" cy="170.9" r="2.5"/><circle cx="594.3" cy="66.9" r="2.5"/><circle cx="496.8" cy="155.1" r="2.5"/><circle cx="518.3" cy="130.9" r="2.5"/><circle cx="546.5" cy="124.1" r="2.5"/><circle cx="593.5" cy="69.1" r="2.5"/><circle cx="508.6" cy="155.9" r="2.5"/><circle cx="563.5" cy="98.8" r="2.5"/><circle cx="541.8" cy="106.4" r="2.5"/><circle cx="577.2" cy="95.4" r="2.5"/><circle cx="564.0" cy="98.3" r="2.5"/><circle cx="573.7" cy="81.6" r="2.5"/><circle cx="507.1" cy="162.1" r="2.5"/><circle cx="544.8" cy="113.4" r="2.5"/><circle cx="481.7" cy="164.0" r="2.5"/><circle cx="532.2" cy="116.4" r="2.5"/><circle cx="485.4" cy="165.8" r="2.5"/><circle cx="600.3" cy="70.1" r="2.5"/><circle cx="503.3" cy="151.1" r="2.5"/><circle cx="536.7" cy="100.6" r="2.5"/><circle cx="533.8" cy="108.9" r="2.5"/><circle cx="619.6" cy="39.6" r="2.5"/><circle cx="480.8" cy="160.6" r="2.5"/><circle cx="551.0" cy="120.2" r="2.5"/><circle cx="528.2" cy="133.6" r="2.5"/><circle cx="550.3" cy="116.2" r="2.5"/><circle cx="519.5" cy="140.4" r="2.5"/><circle cx="531.0" cy="113.7" r="2.5"/><circle cx="550.2" cy="128.0" r="2.5"/><circle cx="480.2" cy="162.0" r="2.5"/><circle cx="539.7" cy="123.4" r="2.5"/><circle cx="597.6" cy="76.6" r="2.5"/><circle cx="551.4" cy="102.1" r="2.5"/><circle cx="616.8" cy="59.6" r="2.5"/><circle cx="542.2" cy="120.3" r="2.5"/><circle cx="596.8" cy="87.2" r="2.5"/><circle cx="533.5" cy="126.7" r="2.5"/><circle cx="445.3" cy="180.5" r="2.5"/><circle cx="544.9" cy="129.7" r="2.5"/><circle cx="564.9" cy="89.0" r="2.5"/><circle cx="539.2" cy="115.9" r="2.5"/><circle cx="531.9" cy="136.5" r="2.5"/><circle cx="611.2" cy="74.9" r="2.5"/><circle cx="557.7" cy="111.0" r="2.5"/><circle cx="520.4" cy="122.2" r="2.5"/><circle cx="564.1" cy="93.8" r="2.5"/><circle cx="571.1" cy="86.3" r="2.5"/><circle cx="579.5" cy="78.0" r="2.5"/><circle cx="477.4" cy="168.0" r="2.5"/><circle cx="552.3" cy="112.6" r="2.5"/><circle cx="526.1" cy="137.9" r="2.5"/><circle cx="601.2" cy="56.4" r="2.5"/><circle cx="539.7" cy="111.5" r="2.5"/><circle cx="531.5" cy="129.4" r="2.5"/><circle cx="496.7" cy="157.3" r="2.5"/><circle cx="540.4" cy="99.6" r="2.5"/><circle cx="516.7" cy="150.3" r="2.5"/><circle cx="541.2" cy="129.4" r="2.5"/><circle cx="565.4" cy="100.7" r="2.5"/><circle cx="540.5" cy="133.8" r="2.5"/><circle cx="502.5" cy="143.1" r="2.5"/><circle cx="482.4" cy="164.2" r="2.5"/><circle cx="550.4" cy="113.7" r="2.5"/><circle cx="587.0" cy="86.5" r="2.5"/><circle cx="589.5" cy="81.3" r="2.5"/><circle cx="530.0" cy="142.3" r="2.5"/><circle cx="563.8" cy="100.2" r="2.5"/><circle cx="520.2" cy="116.0" r="2.5"/><circle cx="593.2" cy="76.3" r="2.5"/><circle cx="528.3" cy="115.6" r="2.5"/><circle cx="552.7" cy="130.2" r="2.5"/><circle cx="602.1" cy="49.6" r="2.5"/><circle cx="552.6" cy="117.7" r="2.5"/><circle cx="499.2" cy="154.7" r="2.5"/><circle cx="604.2" cy="64.8" r="2.5"/><circle cx="583.3" cy="81.7" r="2.5"/><circle cx="541.1" cy="115.2" r="2.5"/><circle cx="570.6" cy="106.6" r="2.5"/><circle cx="509.9" cy="150.1" r="2.5"/><circle cx="529.1" cy="125.4" r="2.5"/><circle cx="544.8" cy="120.3" r="2.5"/><circle cx="513.9" cy="151.5" r="2.5"/><circle cx="569.7" cy="88.7" r="2.5"/><circle cx="534.5" cy="126.6" r="2.5"/><circle cx="589.3" cy="89.0" r="2.5"/><circle cx="516.8" cy="140.3" r="2.5"/><circle cx="524.1" cy="130.5" r="2.5"/><circle cx="551.5" cy="96.5" r="2.5"/><circle cx="511.1" cy="144.3" r="2.5"/><circle cx="600.2" cy="53.1" r="2.5"/><circle cx="547.3" cy="104.3" r="2.5"/><circle cx="539.3" cy="137.8" r="2.5"/><circle cx="586.3" cy="83.9" r="2.5"/><circle cx="527.7" cy="117.8" r="2.5"/><circle cx="576.1" cy="96.1" r="2.5"/><circle cx="524.4" cy="130.1" r="2.5"/><circle cx="534.2" cy="113.9" r="2.5"/><circle cx="520.0" cy="130.1" r="2.5"/><circle cx="517.5" cy="160.7" r="2.5"/><circle cx="518.7" cy="143.5" r="2.5"/><circle cx="480.6" cy="169.1" r="2.5"/><circle cx="521.3" cy="136.4" r="2.5"/><circle cx="517.1" cy="141.6" r="2.5"/><circle cx="547.5" cy="126.5" r="2.5"/><circle cx="593.8" cy="67.6" r="2.5"/><circle cx="573.2" cy="90.1" r="2.5"/><circle cx="551.5" cy="113.5" r="2.5"/><circle cx="509.8" cy="152.6" r="2.5"/><circle cx="531.6" cy="140.8" r="2.5"/><circle cx="507.4" cy="141.8" r="2.5"/><circle cx="590.4" cy="72.7" r="2.5"/><circle cx="585.0" cy="78.8" r="2.5"/><circle cx="533.2" cy="131.1" r="2.5"/><circle cx="531.0" cy="131.7" r="2.5"/><circle cx="541.1" cy="134.6" r="2.5"/><circle cx="533.5" cy="141.6" r="2.5"/><circle cx="540.4" cy="130.1" r="2.5"/><circle cx="461.0" cy="186.1" r="2.5"/><circle cx="546.8" cy="109.1" r="2.5"/><circle cx="503.6" cy="149.7" r="2.5"/><circle cx="474.6" cy="165.6" r="2.5"/><circle cx="494.5" cy="160.3" r="2.5"/><circle cx="512.3" cy="128.3" r="2.5"/><circle cx="537.2" cy="115.9" r="2.5"/><circle cx="507.8" cy="140.4" r="2.5"/><circle cx="470.7" cy="176.3" r="2.5"/><circle cx="503.5" cy="153.2" r="2.5"/><circle cx="474.7" cy="172.9" r="2.5"/><circle cx="541.0" cy="114.1" r="2.5"/><circle cx="536.2" cy="139.9" r="2.5"/><circle cx="532.8" cy="114.9" r="2.5"/><circle cx="609.5" cy="65.2" r="2.5"/><circle cx="522.3" cy="136.7" r="2.5"/><circle cx="505.1" cy="138.0" r="2.5"/><circle cx="528.8" cy="118.9" r="2.5"/><circle cx="583.5" cy="84.0" r="2.5"/><circle cx="509.8" cy="135.9" r="2.5"/><circle cx="468.7" cy="173.6" r="2.5"/><circle cx="540.5" cy="130.6" r="2.5"/><circle cx="463.0" cy="180.4" r="2.5"/><circle cx="546.9" cy="116.1" r="2.5"/><circle cx="517.0" cy="136.5" r="2.5"/><circle cx="555.6" cy="115.7" r="2.5"/><circle cx="502.2" cy="132.3" r="2.5"/><circle cx="554.2" cy="100.6" r="2.5"/><circle cx="526.1" cy="131.7" r="2.5"/><circle cx="527.6" cy="137.4" r="2.5"/><circle cx="544.8" cy="90.8" r="2.5"/><circle cx="561.1" cy="101.2" r="2.5"/><circle cx="484.2" cy="176.3" r="2.5"/><circle cx="511.5" cy="146.4" r="2.5"/><circle cx="526.3" cy="129.8" r="2.5"/><circle cx="522.2" cy="143.8" r="2.5"/><circle cx="477.4" cy="165.1" r="2.5"/><circle cx="552.5" cy="118.2" r="2.5"/><circle cx="503.5" cy="142.1" r="2.5"/><circle cx="508.1" cy="153.2" r="2.5"/><circle cx="482.6" cy="161.2" r="2.5"/><circle cx="596.3" cy="71.9" r="2.5"/><circle cx="464.7" cy="166.8" r="2.5"/><circle cx="579.8" cy="96.4" r="2.5"/><circle cx="566.6" cy="101.2" r="2.5"/><circle cx="591.5" cy="82.6" r="2.5"/><circle cx="518.8" cy="146.0" r="2.5"/><circle cx="534.7" cy="125.4" r="2.5"/><circle cx="495.2" cy="136.4" r="2.5"/><circle cx="566.9" cy="79.4" r="2.5"/><circle cx="513.2" cy="114.6" r="2.5"/><circle cx="606.9" cy="59.1" r="2.5"/><circle cx="478.4" cy="173.5" r="2.5"/><circle cx="535.4" cy="124.1" r="2.5"/><circle cx="573.5" cy="88.6" r="2.5"/><circle cx="533.3" cy="128.4" r="2.5"/><circle cx="573.9" cy="69.5" r="2.5"/><circle cx="461.4" cy="178.0" r="2.5"/><circle cx="520.9" cy="126.7" r="2.5"/><circle cx="512.4" cy="116.2" r="2.5"/><circle cx="573.1" cy="104.5" r="2.5"/><circle cx="518.1" cy="139.2" r="2.5"/><circle cx="576.6" cy="111.1" r="2.5"/><circle cx="543.3" cy="120.9" r="2.5"/><circle cx="502.6" cy="144.3" r="2.5"/><circle cx="529.4" cy="120.1" r="2.5"/><circle cx="526.3" cy="130.1" r="2.5"/><circle cx="512.4" cy="133.1" r="2.5"/><circle cx="449.1" cy="187.2" r="2.5"/><circle cx="481.3" cy="162.9" r="2.5"/><circle cx="550.7" cy="113.0" r="2.5"/><circle cx="581.4" cy="87.5" r="2.5"/><circle cx="519.3" cy="147.0" r="2.5"/><circle cx="541.1" cy="127.2" r="2.5"/><circle cx="532.7" cy="137.2" r="2.5"/><circle cx="615.6" cy="54.1" r="2.5"/><circle cx="611.6" cy="39.3" r="2.5"/><circle cx="599.7" cy="57.1" r="2.5"/><circle cx="581.0" cy="108.4" r="2.5"/><circle cx="496.0" cy="139.6" r="2.5"/><circle cx="531.0" cy="108.0" r="2.5"/><circle cx="480.4" cy="161.3" r="2.5"/><circle cx="553.7" cy="89.5" r="2.5"/><circle cx="570.6" cy="82.2" r="2.5"/><circle cx="539.5" cy="129.4" r="2.5"/><circle cx="537.5" cy="114.3" r="2.5"/><circle cx="505.0" cy="139.2" r="2.5"/><circle cx="510.2" cy="153.6" r="2.5"/><circle cx="597.8" cy="76.9" r="2.5"/><circle cx="492.5" cy="141.7" r="2.5"/><circle cx="560.8" cy="97.9" r="2.5"/><circle cx="532.5" cy="119.0" r="2.5"/><circle cx="594.3" cy="71.6" r="2.5"/><circle cx="547.0" cy="124.8" r="2.5"/><circle cx="528.0" cy="122.5" r="2.5"/><circle cx="608.6" cy="51.0" r="2.5"/><circle cx="581.5" cy="87.3" r="2.5"/><circle cx="511.8" cy="146.7" r="2.5"/><circle cx="536.9" cy="139.0" r="2.5"/><circle cx="525.5" cy="118.6" r="2.5"/><circle cx="509.4" cy="133.1" r="2.5"/><circle cx="537.9" cy="115.4" r="2.5"/><circle cx="502.6" cy="162.0" r="2.5"/><circle cx="516.2" cy="141.2" r="2.5"/><circle cx="459.1" cy="182.6" r="2.5"/><circle cx="556.0" cy="72.8" r="2.5"/><circle cx="582.9" cy="77.2" r="2.5"/><circle cx="501.9" cy="127.3" r="2.5"/><circle cx="543.5" cy="111.2" r="2.5"/><circle cx="549.0" cy="106.4" r="2.5"/><circle cx="533.2" cy="120.7" r="2.5"/><circle cx="460.3" cy="183.4" r="2.5"/><circle cx="535.2" cy="110.2" r="2.5"/><circle cx="591.8" cy="81.6" r="2.5"/><circle cx="506.4" cy="148.4" r="2.5"/><circle cx="526.5" cy="116.8" r="2.5"/><circle cx="542.3" cy="111.7" r="2.5"/><circle cx="539.3" cy="136.0" r="2.5"/><circle cx="491.6" cy="158.8" r="2.5"/><circle cx="535.9" cy="127.9" r="2.5"/><circle cx="552.9" cy="117.5" r="2.5"/><circle cx="554.1" cy="106.6" r="2.5"/><circle cx="601.7" cy="77.6" r="2.5"/><circle cx="503.3" cy="157.1" r="2.5"/><circle cx="540.1" cy="117.2" r="2.5"/><circle cx="513.4" cy="161.3" r="2.5"/><circle cx="581.7" cy="99.0" r="2.5"/><circle cx="617.1" cy="49.5" r="2.5"/><circle cx="514.7" cy="140.0" r="2.5"/><circle cx="552.6" cy="120.0" r="2.5"/><circle cx="585.3" cy="78.6" r="2.5"/><circle cx="592.7" cy="75.3" r="2.5"/><circle cx="520.0" cy="107.6" r="2.5"/><circle cx="470.4" cy="168.4" r="2.5"/><circle cx="579.2" cy="88.8" r="2.5"/><circle cx="552.7" cy="96.4" r="2.5"/><circle cx="504.8" cy="157.8" r="2.5"/><circle cx="542.0" cy="111.1" r="2.5"/><circle cx="555.6" cy="122.2" r="2.5"/><circle cx="504.2" cy="159.2" r="2.5"/><circle cx="509.7" cy="143.8" r="2.5"/><circle cx="539.5" cy="123.5" r="2.5"/><circle cx="550.1" cy="101.9" r="2.5"/><circle cx="570.8" cy="98.0" r="2.5"/><circle cx="573.4" cy="83.4" r="2.5"/><circle cx="534.2" cy="113.5" r="2.5"/><circle cx="506.9" cy="152.6" r="2.5"/><circle cx="546.0" cy="96.8" r="2.5"/><circle cx="474.0" cy="175.5" r="2.5"/><circle cx="497.3" cy="147.9" r="2.5"/><circle cx="520.5" cy="128.8" r="2.5"/><circle cx="538.5" cy="131.9" r="2.5"/><circle cx="597.9" cy="77.9" r="2.5"/><circle cx="499.0" cy="158.1" r="2.5"/><circle cx="476.9" cy="182.1" r="2.5"/><circle cx="593.6" cy="72.6" r="2.5"/><circle cx="534.0" cy="124.7" r="2.5"/><circle cx="562.6" cy="98.0" r="2.5"/><circle cx="565.7" cy="109.2" r="2.5"/><circle cx="573.6" cy="75.4" r="2.5"/><circle cx="570.0" cy="104.1" r="2.5"/><circle cx="584.2" cy="79.2" r="2.5"/><circle cx="510.7" cy="161.7" r="2.5"/><circle cx="594.9" cy="60.9" r="2.5"/><circle cx="505.4" cy="148.5" r="2.5"/><circle cx="527.8" cy="135.0" r="2.5"/><circle cx="511.4" cy="125.7" r="2.5"/><circle cx="558.3" cy="104.7" r="2.5"/><circle cx="516.1" cy="138.5" r="2.5"/><circle cx="532.5" cy="117.3" r="2.5"/><circle cx="595.5" cy="60.2" r="2.5"/><circle cx="471.8" cy="180.1" r="2.5"/><circle cx="558.6" cy="123.5" r="2.5"/><circle cx="536.5" cy="124.4" r="2.5"/><circle cx="529.3" cy="120.7" r="2.5"/><circle cx="546.3" cy="117.7" r="2.5"/><circle cx="587.7" cy="88.3" r="2.5"/><circle cx="559.0" cy="108.7" r="2.5"/><circle cx="512.5" cy="132.4" r="2.5"/><circle cx="560.3" cy="96.7" r="2.5"/><circle cx="541.9" cy="110.1" r="2.5"/><circle cx="532.1" cy="115.3" r="2.5"/><circle cx="496.2" cy="138.3" r="2.5"/><circle cx="522.1" cy="135.3" r="2.5"/><circle cx="517.1" cy="137.8" r="2.5"/><circle cx="569.7" cy="106.5" r="2.5"/><circle cx="507.1" cy="126.1" r="2.5"/><circle cx="523.8" cy="144.5" r="2.5"/><circle cx="515.8" cy="128.3" r="2.5"/><circle cx="536.3" cy="120.1" r="2.5"/><circle cx="575.1" cy="74.1" r="2.5"/><circle cx="562.2" cy="95.7" r="2.5"/><circle cx="527.6" cy="105.2" r="2.5"/><circle cx="528.9" cy="141.5" r="2.5"/><circle cx="552.2" cy="122.7" r="2.5"/><circle cx="554.2" cy="99.5" r="2.5"/><circle cx="554.6" cy="128.7" r="2.5"/><circle cx="510.4" cy="161.1" r="2.5"/><circle cx="498.7" cy="155.3" r="2.5"/><circle cx="562.0" cy="100.1" r="2.5"/><circle cx="572.1" cy="95.3" r="2.5"/><circle cx="542.5" cy="138.7" r="2.5"/><circle cx="522.3" cy="131.3" r="2.5"/><circle cx="471.7" cy="163.8" r="2.5"/><circle cx="542.0" cy="125.0" r="2.5"/><circle cx="589.4" cy="74.4" r="2.5"/><circle cx="461.5" cy="175.8" r="2.5"/><circle cx="478.2" cy="186.9" r="2.5"/><circle cx="563.9" cy="77.5" r="2.5"/><circle cx="541.1" cy="129.8" r="2.5"/><circle cx="572.7" cy="102.1" r="2.5"/><circle cx="575.8" cy="70.3" r="2.5"/><circle cx="583.6" cy="69.7" r="2.5"/><circle cx="565.6" cy="84.7" r="2.5"/><circle cx="553.6" cy="124.0" r="2.5"/><circle cx="509.9" cy="157.9" r="2.5"/><circle cx="508.0" cy="141.6" r="2.5"/><circle cx="561.2" cy="88.5" r="2.5"/><circle cx="498.7" cy="157.0" r="2.5"/><circle cx="483.9" cy="155.8" r="2.5"/><circle cx="508.0" cy="132.4" r="2.5"/><circle cx="525.3" cy="123.8" r="2.5"/><circle cx="545.2" cy="105.4" r="2.5"/><circle cx="524.1" cy="124.9" r="2.5"/><circle cx="565.8" cy="98.1" r="2.5"/><circle cx="561.2" cy="100.9" r="2.5"/><circle cx="587.7" cy="90.2" r="2.5"/><circle cx="554.1" cy="109.5" r="2.5"/><circle cx="544.2" cy="86.5" r="2.5"/><circle cx="525.9" cy="140.3" r="2.5"/><circle cx="597.4" cy="65.4" r="2.5"/><circle cx="604.2" cy="78.8" r="2.5"/><circle cx="578.0" cy="87.6" r="2.5"/><circle cx="511.8" cy="131.1" r="2.5"/><circle cx="563.9" cy="103.1" r="2.5"/><circle cx="602.0" cy="61.1" r="2.5"/><circle cx="483.2" cy="166.5" r="2.5"/><circle cx="552.3" cy="133.8" r="2.5"/><circle cx="517.2" cy="117.8" r="2.5"/><circle cx="555.0" cy="105.7" r="2.5"/><circle cx="578.4" cy="86.4" r="2.5"/><circle cx="516.1" cy="144.1" r="2.5"/><circle cx="455.8" cy="178.4" r="2.5"/><circle cx="486.6" cy="172.7" r="2.5"/><circle cx="475.0" cy="159.4" r="2.5"/><circle cx="472.7" cy="169.1" r="2.5"/><circle cx="542.3" cy="113.3" r="2.5"/><circle cx="550.5" cy="109.9" r="2.5"/><circle cx="510.8" cy="139.6" r="2.5"/><circle cx="553.0" cy="113.9" r="2.5"/><circle cx="467.3" cy="175.3" r="2.5"/><circle cx="509.5" cy="149.6" r="2.5"/><circle cx="538.9" cy="118.0" r="2.5"/><circle cx="510.1" cy="146.3" r="2.5"/><circle cx="568.3" cy="92.1" r="2.5"/><circle cx="528.7" cy="119.6" r="2.5"/><circle cx="510.8" cy="131.1" r="2.5"/><circle cx="521.6" cy="153.8" r="2.5"/><circle cx="561.9" cy="112.5" r="2.5"/></g>
</g>
<rect x="400.3" y="7.7" width="278.3" height="225.4" fill="none" stroke="#606060" stroke-width="1.6"/>
<clipPath id="dR"><rect x="399.7" y="7.1000000000000005" width="279.5" height="226.6"/></clipPath>
<g clip-path="url(#dR)">
<line x1="394.73" y1="237.10" x2="684.17" y2="3.00" stroke="#000" stroke-width="1.2"/>
<line x1="400.30" y1="221.48" x2="734.26" y2="-48.64" stroke="#dc1f26" stroke-width="1.3" stroke-dasharray="5.7 5.7"/>
<line x1="400.30" y1="243.72" x2="734.26" y2="-26.40" stroke="#dc1f26" stroke-width="1.3" stroke-dasharray="5.7 5.7"/>
</g>
<path d="M400.30 233.1v-4.4 M400.3 232.60h4.4 M428.13 233.1v-2.6 M400.3 210.09h2.6 M455.96 233.1v-4.4 M400.3 187.58h4.4 M483.79 233.1v-2.6 M400.3 165.07h2.6 M511.62 233.1v-4.4 M400.3 142.56h4.4 M539.45 233.1v-2.6 M400.3 120.05h2.6 M567.28 233.1v-4.4 M400.3 97.54h4.4 M595.11 233.1v-2.6 M400.3 75.03h2.6 M622.94 233.1v-4.4 M400.3 52.52h4.4 M650.77 233.1v-2.6 M400.3 30.01h2.6 M678.60 233.1v-4.4 M400.3 7.50h4.4" stroke="#606060" stroke-width="1.4" fill="none"/>
<text x="380.9" y="255" font-size="14.8" font-family="'Liberation Serif', serif">10</text>
<text x="395.4" y="244.6" font-size="10.7" font-family="'Liberation Serif', serif">−7</text>
<text x="374.8" y="243.8" font-size="14.9" font-family="'Liberation Serif', serif">10</text>
<text x="385.8" y="231.8" font-size="10.5" font-family="'Liberation Serif', serif">−7</text>
<text x="436.6" y="255" font-size="14.8" font-family="'Liberation Serif', serif">10</text>
<text x="451.1" y="244.6" font-size="10.7" font-family="'Liberation Serif', serif">−6</text>
<text x="374.8" y="198.8" font-size="14.9" font-family="'Liberation Serif', serif">10</text>
<text x="385.8" y="186.8" font-size="10.5" font-family="'Liberation Serif', serif">−6</text>
<text x="492.2" y="255" font-size="14.8" font-family="'Liberation Serif', serif">10</text>
<text x="506.7" y="244.6" font-size="10.7" font-family="'Liberation Serif', serif">−5</text>
<text x="374.8" y="153.8" font-size="14.9" font-family="'Liberation Serif', serif">10</text>
<text x="385.8" y="141.8" font-size="10.5" font-family="'Liberation Serif', serif">−5</text>
<text x="547.9" y="255" font-size="14.8" font-family="'Liberation Serif', serif">10</text>
<text x="562.4" y="244.6" font-size="10.7" font-family="'Liberation Serif', serif">−4</text>
<text x="374.8" y="108.7" font-size="14.9" font-family="'Liberation Serif', serif">10</text>
<text x="385.8" y="96.7" font-size="10.5" font-family="'Liberation Serif', serif">−4</text>
<text x="603.5" y="255" font-size="14.8" font-family="'Liberation Serif', serif">10</text>
<text x="618.0" y="244.6" font-size="10.7" font-family="'Liberation Serif', serif">−3</text>
<text x="374.8" y="63.7" font-size="14.9" font-family="'Liberation Serif', serif">10</text>
<text x="385.8" y="51.7" font-size="10.5" font-family="'Liberation Serif', serif">−3</text>
<text x="659.2" y="255" font-size="14.8" font-family="'Liberation Serif', serif">10</text>
<text x="673.7" y="244.6" font-size="10.7" font-family="'Liberation Serif', serif">−2</text>
<text x="374.8" y="18.7" font-size="14.9" font-family="'Liberation Serif', serif">10</text>
<text x="385.8" y="6.7" font-size="10.5" font-family="'Liberation Serif', serif">−2</text>
<text x="539.0" y="270.9" font-size="14.9" text-anchor="middle" font-family="'Liberation Serif', serif">True MDR</text>
<text transform="translate(366.6,129.0) rotate(-90)" font-size="15.0" text-anchor="middle" font-family="'Liberation Serif', serif">Predicted MDR</text>
<rect x="406.9" y="13.2" width="99.5" height="44.1" fill="#fff" stroke="#787878" stroke-width="1"/>
<circle cx="421.3" cy="21.7" r="2.4" fill="rgb(8, 116, 200)" fill-opacity="0.55"/>
<line x1="408.3" y1="35.8" x2="434.6" y2="35.8" stroke="#ababab" stroke-width="1"/>
<line x1="408.0" y1="50.1" x2="435.3" y2="50.1" stroke="#e2231a" stroke-width="1.4" stroke-dasharray="5.4 5.4"/>
<text x="436.7" y="25.1" font-size="11.7" font-family="'Liberation Serif', serif">Data</text>
<text x="436.7" y="39.8" font-size="11.7" font-family="'Liberation Serif', serif">1:1 line</text>
<text x="436.0" y="53.9" font-size="11.7" font-family="'Liberation Serif', serif">±1 SD of error</text>
<text x="-0.6" y="11.0" font-size="15.1" font-family="'Liberation Serif', serif">(a)</text>
<text x="352.3" y="11.6" font-size="15.1" font-family="'Liberation Serif', serif">(b)</text>
<text x="234.9" y="196.7" font-size="15.0" font-family="'Liberation Serif', serif">Training set</text>
<text x="235.3" y="215.6" font-size="14.7" font-family="'Liberation Serif', serif">σ =0.251</text>
<text x="611.2" y="196.5" font-size="14.7" font-family="'Liberation Serif', serif">Test set</text>
<text x="610.7" y="215.5" font-size="14.7" font-family="'Liberation Serif', serif">σ =0.247</text>
</svg></body></html>
